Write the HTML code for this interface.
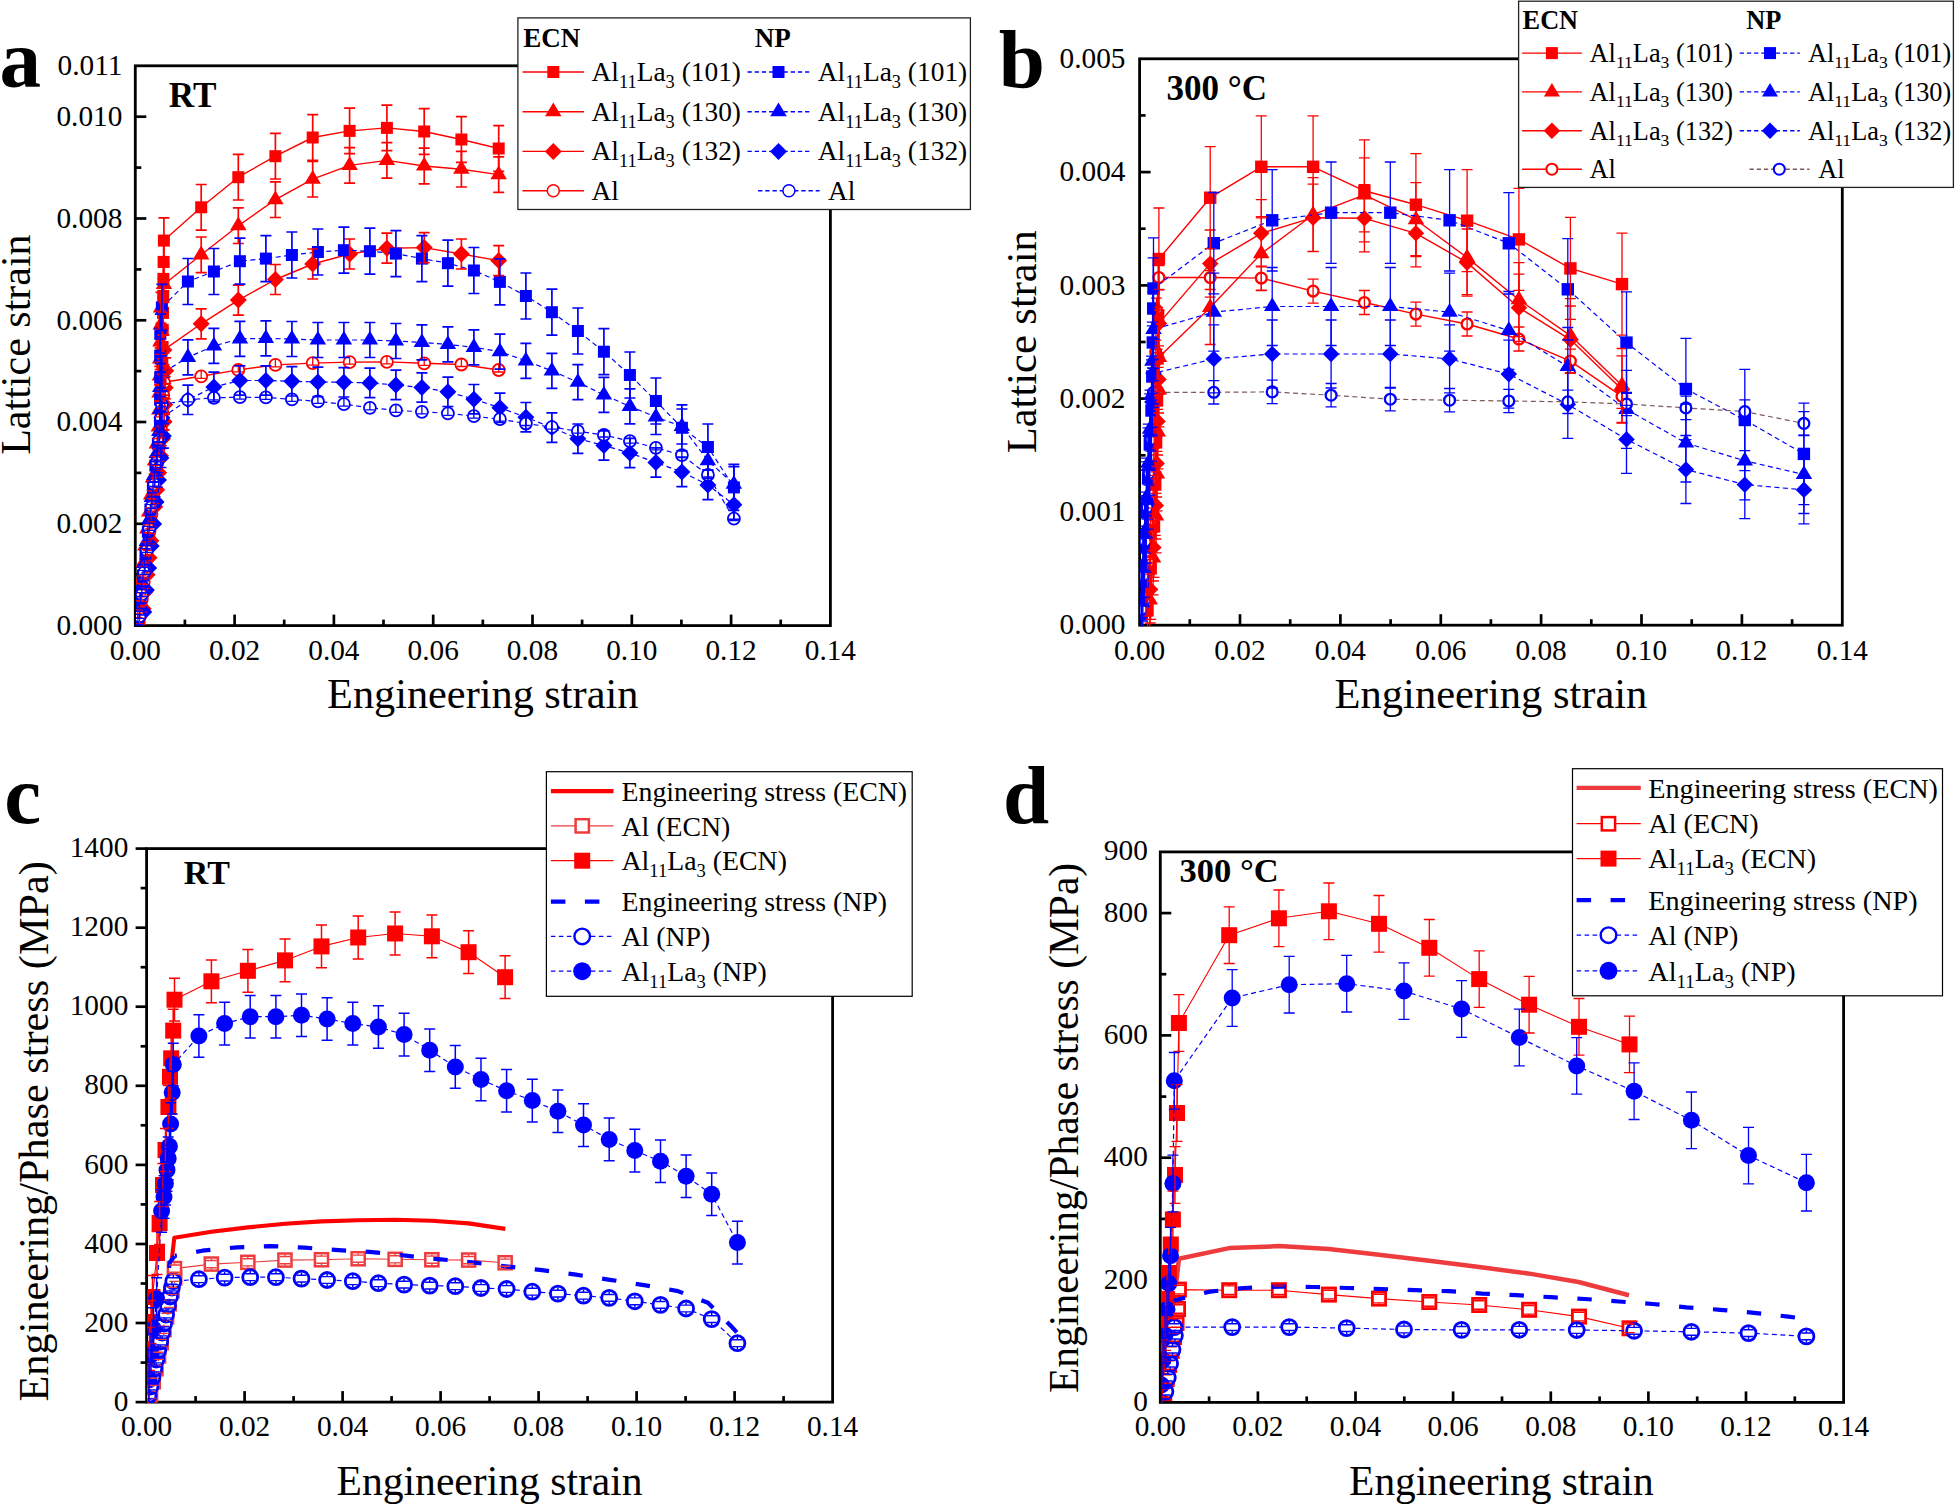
<!DOCTYPE html>
<html lang="en"><head><meta charset="utf-8"><title>Lattice strain and phase stress</title>
<style>html,body{margin:0;padding:0;background:#fff;overflow:hidden}svg{display:block}</style></head>
<body>
<svg width="1955" height="1504" viewBox="0 0 1955 1504" font-family='"Liberation Serif", "DejaVu Serif", serif'>
<rect width="1955" height="1504" fill="#fff"/>
<g id="pa">
<rect x="135.3" y="65.8" width="695.1" height="559.8" fill="none" stroke="#000" stroke-width="2.8"/>
<text x="135.3" y="660" font-size="29.3" text-anchor="middle">0.00</text>
<line x1="184.9" y1="625.6" x2="184.9" y2="619.6" stroke="#000" stroke-width="2.7"/>
<line x1="234.6" y1="625.6" x2="234.6" y2="614.6" stroke="#000" stroke-width="2.7"/>
<text x="234.6" y="660" font-size="29.3" text-anchor="middle">0.02</text>
<line x1="284.2" y1="625.6" x2="284.2" y2="619.6" stroke="#000" stroke-width="2.7"/>
<line x1="333.9" y1="625.6" x2="333.9" y2="614.6" stroke="#000" stroke-width="2.7"/>
<text x="333.9" y="660" font-size="29.3" text-anchor="middle">0.04</text>
<line x1="383.5" y1="625.6" x2="383.5" y2="619.6" stroke="#000" stroke-width="2.7"/>
<line x1="433.2" y1="625.6" x2="433.2" y2="614.6" stroke="#000" stroke-width="2.7"/>
<text x="433.2" y="660" font-size="29.3" text-anchor="middle">0.06</text>
<line x1="482.8" y1="625.6" x2="482.8" y2="619.6" stroke="#000" stroke-width="2.7"/>
<line x1="532.5" y1="625.6" x2="532.5" y2="614.6" stroke="#000" stroke-width="2.7"/>
<text x="532.5" y="660" font-size="29.3" text-anchor="middle">0.08</text>
<line x1="582.1" y1="625.6" x2="582.1" y2="619.6" stroke="#000" stroke-width="2.7"/>
<line x1="631.8" y1="625.6" x2="631.8" y2="614.6" stroke="#000" stroke-width="2.7"/>
<text x="631.8" y="660" font-size="29.3" text-anchor="middle">0.10</text>
<line x1="681.4" y1="625.6" x2="681.4" y2="619.6" stroke="#000" stroke-width="2.7"/>
<line x1="731.1" y1="625.6" x2="731.1" y2="614.6" stroke="#000" stroke-width="2.7"/>
<text x="731.1" y="660" font-size="29.3" text-anchor="middle">0.12</text>
<line x1="780.7" y1="625.6" x2="780.7" y2="619.6" stroke="#000" stroke-width="2.7"/>
<text x="830.4" y="660" font-size="29.3" text-anchor="middle">0.14</text>
<text x="122.4" y="634.8" font-size="29.3" text-anchor="end">0.000</text>
<line x1="135.3" y1="574.7" x2="141.3" y2="574.7" stroke="#000" stroke-width="2.7"/>
<line x1="135.3" y1="523.8" x2="146.3" y2="523.8" stroke="#000" stroke-width="2.7"/>
<text x="122.4" y="533" font-size="29.3" text-anchor="end">0.002</text>
<line x1="135.3" y1="472.9" x2="141.3" y2="472.9" stroke="#000" stroke-width="2.7"/>
<line x1="135.3" y1="422" x2="146.3" y2="422" stroke="#000" stroke-width="2.7"/>
<text x="122.4" y="431.2" font-size="29.3" text-anchor="end">0.004</text>
<line x1="135.3" y1="371.1" x2="141.3" y2="371.1" stroke="#000" stroke-width="2.7"/>
<line x1="135.3" y1="320.3" x2="146.3" y2="320.3" stroke="#000" stroke-width="2.7"/>
<text x="122.4" y="329.5" font-size="29.3" text-anchor="end">0.006</text>
<line x1="135.3" y1="269.4" x2="141.3" y2="269.4" stroke="#000" stroke-width="2.7"/>
<line x1="135.3" y1="218.5" x2="146.3" y2="218.5" stroke="#000" stroke-width="2.7"/>
<text x="122.4" y="227.7" font-size="29.3" text-anchor="end">0.008</text>
<line x1="135.3" y1="167.6" x2="141.3" y2="167.6" stroke="#000" stroke-width="2.7"/>
<line x1="135.3" y1="116.7" x2="146.3" y2="116.7" stroke="#000" stroke-width="2.7"/>
<text x="122.4" y="125.9" font-size="29.3" text-anchor="end">0.010</text>
<text x="122.4" y="75" font-size="29.3" text-anchor="end">0.011</text>
<text x="482.7" y="708" font-size="42.3" text-anchor="middle">Engineering strain</text>
<text x="30.4" y="344.6" font-size="42" text-anchor="middle" transform="rotate(-90 30.4 344.6)">Lattice strain</text>
<text x="168.8" y="107.1" font-size="35.2" font-weight="bold">RT</text>
<text x="-0.6" y="86.8" font-size="83" font-weight="bold">a</text>
<clipPath id="ca"><rect x="136" y="64.4" width="695.8" height="562.2"/></clipPath>
<g clip-path="url(#ca)">
<polyline fill="none" stroke="#ff0000" stroke-width="1.4" stroke-linejoin="round" points="139.6,618.9 141.5,601.9 143.4,584.9 145.3,567.9 147.3,550.9 149.2,533.9 151.1,516.9 153,499.9 155,482.9 156.9,465.9 158.8,448.9 160.7,431.9 161.6,414.9 161.9,397.9 162.1,380.9 162.3,363.9 162.5,346.9 162.7,329.9 163,312.9 163.2,295.9 163.4,278.9 163.6,261.9 163.9,240.6 201.2,207.3 238.3,177.2 275.4,156.2 312.7,137.5 349.6,130.9 386.9,127.9 424.2,131.5 461.4,139.5 498.7,148.5"/>
<rect x="133.6" y="612.9" width="12" height="12" fill="#ff0000"/>
<rect x="135.5" y="595.9" width="12" height="12" fill="#ff0000"/>
<rect x="137.4" y="578.9" width="12" height="12" fill="#ff0000"/>
<rect x="139.3" y="561.9" width="12" height="12" fill="#ff0000"/>
<rect x="141.3" y="544.9" width="12" height="12" fill="#ff0000"/>
<rect x="143.2" y="527.9" width="12" height="12" fill="#ff0000"/>
<rect x="145.1" y="510.9" width="12" height="12" fill="#ff0000"/>
<rect x="147" y="493.9" width="12" height="12" fill="#ff0000"/>
<rect x="149" y="476.9" width="12" height="12" fill="#ff0000"/>
<rect x="150.9" y="459.9" width="12" height="12" fill="#ff0000"/>
<rect x="152.8" y="442.9" width="12" height="12" fill="#ff0000"/>
<rect x="154.7" y="425.9" width="12" height="12" fill="#ff0000"/>
<rect x="155.6" y="408.9" width="12" height="12" fill="#ff0000"/>
<rect x="155.9" y="391.9" width="12" height="12" fill="#ff0000"/>
<rect x="156.1" y="374.9" width="12" height="12" fill="#ff0000"/>
<rect x="156.3" y="357.9" width="12" height="12" fill="#ff0000"/>
<rect x="156.5" y="340.9" width="12" height="12" fill="#ff0000"/>
<rect x="156.7" y="323.9" width="12" height="12" fill="#ff0000"/>
<rect x="157" y="306.9" width="12" height="12" fill="#ff0000"/>
<rect x="157.2" y="289.9" width="12" height="12" fill="#ff0000"/>
<rect x="157.4" y="272.9" width="12" height="12" fill="#ff0000"/>
<rect x="157.6" y="255.9" width="12" height="12" fill="#ff0000"/>
<rect x="157.9" y="234.6" width="12" height="12" fill="#ff0000"/>
<rect x="195.2" y="201.3" width="12" height="12" fill="#ff0000"/>
<rect x="232.3" y="171.2" width="12" height="12" fill="#ff0000"/>
<rect x="269.4" y="150.2" width="12" height="12" fill="#ff0000"/>
<rect x="306.7" y="131.5" width="12" height="12" fill="#ff0000"/>
<rect x="343.6" y="124.9" width="12" height="12" fill="#ff0000"/>
<rect x="380.9" y="121.9" width="12" height="12" fill="#ff0000"/>
<rect x="418.2" y="125.5" width="12" height="12" fill="#ff0000"/>
<rect x="455.4" y="133.5" width="12" height="12" fill="#ff0000"/>
<rect x="492.7" y="142.5" width="12" height="12" fill="#ff0000"/>
<polyline fill="none" stroke="#ff0000" stroke-width="1.4" stroke-linejoin="round" points="137.7,613.8 139.6,596.8 141.5,579.8 143.4,562.8 145.3,545.8 147.3,528.8 149.2,511.8 151.1,494.8 153,477.8 155,460.8 156.9,443.8 158.8,426.8 159.3,409.8 159.6,392.8 159.8,375.8 160.1,358.8 160.4,341.8 160.7,324.8 161,307.8 163.9,284.5 201.2,254.8 238.3,225.7 275.4,199.7 312.7,179.2 349.6,165.4 386.9,160.4 424.2,166 461.4,169.2 498.7,174.6"/>
<polygon points="137.7,604.6 129.4,618.4 145.9,618.4" fill="#ff0000"/>
<polygon points="139.6,587.6 131.3,601.4 147.8,601.4" fill="#ff0000"/>
<polygon points="141.5,570.6 133.2,584.4 149.7,584.4" fill="#ff0000"/>
<polygon points="143.4,553.6 135.2,567.4 151.7,567.4" fill="#ff0000"/>
<polygon points="145.3,536.6 137.1,550.4 153.6,550.4" fill="#ff0000"/>
<polygon points="147.3,519.6 139,533.4 155.5,533.4" fill="#ff0000"/>
<polygon points="149.2,502.6 140.9,516.4 157.4,516.4" fill="#ff0000"/>
<polygon points="151.1,485.6 142.9,499.4 159.4,499.4" fill="#ff0000"/>
<polygon points="153,468.6 144.8,482.4 161.3,482.4" fill="#ff0000"/>
<polygon points="155,451.6 146.7,465.4 163.2,465.4" fill="#ff0000"/>
<polygon points="156.9,434.6 148.6,448.4 165.1,448.4" fill="#ff0000"/>
<polygon points="158.8,417.6 150.5,431.4 167,431.4" fill="#ff0000"/>
<polygon points="159.3,400.6 151,414.4 167.5,414.4" fill="#ff0000"/>
<polygon points="159.6,383.6 151.3,397.4 167.8,397.4" fill="#ff0000"/>
<polygon points="159.8,366.6 151.6,380.4 168.1,380.4" fill="#ff0000"/>
<polygon points="160.1,349.6 151.9,363.4 168.4,363.4" fill="#ff0000"/>
<polygon points="160.4,332.6 152.2,346.4 168.7,346.4" fill="#ff0000"/>
<polygon points="160.7,315.6 152.5,329.4 169,329.4" fill="#ff0000"/>
<polygon points="161,298.6 152.8,312.4 169.3,312.4" fill="#ff0000"/>
<polygon points="163.9,275.3 155.7,289.1 172.2,289.1" fill="#ff0000"/>
<polygon points="201.2,245.6 192.9,259.4 209.4,259.4" fill="#ff0000"/>
<polygon points="238.3,216.5 230.1,230.3 246.6,230.3" fill="#ff0000"/>
<polygon points="275.4,190.5 267.1,204.3 283.6,204.3" fill="#ff0000"/>
<polygon points="312.7,170 304.4,183.8 320.9,183.8" fill="#ff0000"/>
<polygon points="349.6,156.2 341.4,170 357.9,170" fill="#ff0000"/>
<polygon points="386.9,151.2 378.6,165 395.1,165" fill="#ff0000"/>
<polygon points="424.2,156.8 415.9,170.6 432.4,170.6" fill="#ff0000"/>
<polygon points="461.4,160 453.1,173.8 469.6,173.8" fill="#ff0000"/>
<polygon points="498.7,165.4 490.4,179.2 506.9,179.2" fill="#ff0000"/>
<polyline fill="none" stroke="#ff0000" stroke-width="1.4" stroke-linejoin="round" points="143.2,608.7 145.2,591.7 147.1,574.7 149,557.7 150.9,540.7 152.8,523.7 154.8,506.7 156.7,489.7 158.6,472.7 160.5,455.7 162.5,438.7 164.1,421.7 164.6,404.7 165.2,387.7 165.7,370.7 163.9,349.9 201.2,323.8 238.3,300.1 275.4,279.5 312.7,264 349.6,254 386.9,248.2 424.2,247.6 461.4,254 498.7,260.6"/>
<polygon points="143.2,600.2 151.7,608.7 143.2,617.2 134.7,608.7" fill="#ff0000"/>
<polygon points="145.2,583.2 153.7,591.7 145.2,600.2 136.7,591.7" fill="#ff0000"/>
<polygon points="147.1,566.2 155.6,574.7 147.1,583.2 138.6,574.7" fill="#ff0000"/>
<polygon points="149,549.2 157.5,557.7 149,566.2 140.5,557.7" fill="#ff0000"/>
<polygon points="150.9,532.2 159.4,540.7 150.9,549.2 142.4,540.7" fill="#ff0000"/>
<polygon points="152.8,515.2 161.3,523.7 152.8,532.2 144.3,523.7" fill="#ff0000"/>
<polygon points="154.8,498.2 163.3,506.7 154.8,515.2 146.3,506.7" fill="#ff0000"/>
<polygon points="156.7,481.2 165.2,489.7 156.7,498.2 148.2,489.7" fill="#ff0000"/>
<polygon points="158.6,464.2 167.1,472.7 158.6,481.2 150.1,472.7" fill="#ff0000"/>
<polygon points="160.5,447.2 169,455.7 160.5,464.2 152,455.7" fill="#ff0000"/>
<polygon points="162.5,430.2 171,438.7 162.5,447.2 154,438.7" fill="#ff0000"/>
<polygon points="164.1,413.2 172.6,421.7 164.1,430.2 155.6,421.7" fill="#ff0000"/>
<polygon points="164.6,396.2 173.1,404.7 164.6,413.2 156.1,404.7" fill="#ff0000"/>
<polygon points="165.2,379.2 173.7,387.7 165.2,396.2 156.7,387.7" fill="#ff0000"/>
<polygon points="165.7,362.2 174.2,370.7 165.7,379.2 157.2,370.7" fill="#ff0000"/>
<polygon points="163.9,341.4 172.4,349.9 163.9,358.4 155.4,349.9" fill="#ff0000"/>
<polygon points="201.2,315.3 209.7,323.8 201.2,332.3 192.7,323.8" fill="#ff0000"/>
<polygon points="238.3,291.6 246.8,300.1 238.3,308.6 229.8,300.1" fill="#ff0000"/>
<polygon points="275.4,271 283.9,279.5 275.4,288 266.9,279.5" fill="#ff0000"/>
<polygon points="312.7,255.5 321.2,264 312.7,272.5 304.2,264" fill="#ff0000"/>
<polygon points="349.6,245.5 358.1,254 349.6,262.5 341.1,254" fill="#ff0000"/>
<polygon points="386.9,239.7 395.4,248.2 386.9,256.7 378.4,248.2" fill="#ff0000"/>
<polygon points="424.2,239.1 432.7,247.6 424.2,256.1 415.7,247.6" fill="#ff0000"/>
<polygon points="461.4,245.5 469.9,254 461.4,262.5 452.9,254" fill="#ff0000"/>
<polygon points="498.7,252.1 507.2,260.6 498.7,269.1 490.2,260.6" fill="#ff0000"/>
<polyline fill="none" stroke="#ff0000" stroke-width="1.4" stroke-linejoin="round" points="139.9,616.4 141.8,599.4 143.7,582.4 145.6,565.4 147.6,548.4 149.5,531.4 151.4,514.4 153.3,497.4 155.2,480.4 157.2,463.4 159.1,446.4 161,429.4 162.2,412.4 163.2,395.4 163.9,382.3 201.2,376.3 238.3,369.9 275.4,364.9 312.7,363.1 349.6,362.1 386.9,361.9 424.2,363.3 461.4,364.5 498.7,370"/>
<circle cx="139.9" cy="616.4" r="6" fill="#fff" stroke="#ff0000" stroke-width="1.8"/>
<circle cx="141.8" cy="599.4" r="6" fill="#fff" stroke="#ff0000" stroke-width="1.8"/>
<circle cx="143.7" cy="582.4" r="6" fill="#fff" stroke="#ff0000" stroke-width="1.8"/>
<circle cx="145.6" cy="565.4" r="6" fill="#fff" stroke="#ff0000" stroke-width="1.8"/>
<circle cx="147.6" cy="548.4" r="6" fill="#fff" stroke="#ff0000" stroke-width="1.8"/>
<circle cx="149.5" cy="531.4" r="6" fill="#fff" stroke="#ff0000" stroke-width="1.8"/>
<circle cx="151.4" cy="514.4" r="6" fill="#fff" stroke="#ff0000" stroke-width="1.8"/>
<circle cx="153.3" cy="497.4" r="6" fill="#fff" stroke="#ff0000" stroke-width="1.8"/>
<circle cx="155.2" cy="480.4" r="6" fill="#fff" stroke="#ff0000" stroke-width="1.8"/>
<circle cx="157.2" cy="463.4" r="6" fill="#fff" stroke="#ff0000" stroke-width="1.8"/>
<circle cx="159.1" cy="446.4" r="6" fill="#fff" stroke="#ff0000" stroke-width="1.8"/>
<circle cx="161" cy="429.4" r="6" fill="#fff" stroke="#ff0000" stroke-width="1.8"/>
<circle cx="162.2" cy="412.4" r="6" fill="#fff" stroke="#ff0000" stroke-width="1.8"/>
<circle cx="163.2" cy="395.4" r="6" fill="#fff" stroke="#ff0000" stroke-width="1.8"/>
<circle cx="163.9" cy="382.3" r="6" fill="#fff" stroke="#ff0000" stroke-width="1.8"/>
<circle cx="201.2" cy="376.3" r="6" fill="#fff" stroke="#ff0000" stroke-width="1.8"/>
<circle cx="238.3" cy="369.9" r="6" fill="#fff" stroke="#ff0000" stroke-width="1.8"/>
<circle cx="275.4" cy="364.9" r="6" fill="#fff" stroke="#ff0000" stroke-width="1.8"/>
<circle cx="312.7" cy="363.1" r="6" fill="#fff" stroke="#ff0000" stroke-width="1.8"/>
<circle cx="349.6" cy="362.1" r="6" fill="#fff" stroke="#ff0000" stroke-width="1.8"/>
<circle cx="386.9" cy="361.9" r="6" fill="#fff" stroke="#ff0000" stroke-width="1.8"/>
<circle cx="424.2" cy="363.3" r="6" fill="#fff" stroke="#ff0000" stroke-width="1.8"/>
<circle cx="461.4" cy="364.5" r="6" fill="#fff" stroke="#ff0000" stroke-width="1.8"/>
<circle cx="498.7" cy="370" r="6" fill="#fff" stroke="#ff0000" stroke-width="1.8"/>
<polyline fill="none" stroke="#0000ff" stroke-width="1.2" stroke-linejoin="round" points="138,619.6 140.5,597.6 143,575.6 145.5,553.6 147.9,531.6 150.4,509.6 152.9,487.6 155.4,465.6 157.9,443.6 160,421.6 160.1,399.6 160.2,377.6 160.2,355.6 160.3,333.6 161.9,307.4 187.9,281.5 213.9,271.5 239.9,261.2 265.9,258.6 291.9,255 317.9,252 343.9,250.2 369.9,251.2 395.9,253.6 421.9,258.6 447.9,263.2 473.9,270.5 499.9,281.9 525.9,296 551.9,312.2 577.9,331 603.9,351.7 629.9,375 655.9,401 681.9,427.8 707.9,447 733.9,487.4" stroke-dasharray="5 3.5"/>
<rect x="132" y="613.6" width="12" height="12" fill="#0000ff"/>
<rect x="134.5" y="591.6" width="12" height="12" fill="#0000ff"/>
<rect x="137" y="569.6" width="12" height="12" fill="#0000ff"/>
<rect x="139.5" y="547.6" width="12" height="12" fill="#0000ff"/>
<rect x="141.9" y="525.6" width="12" height="12" fill="#0000ff"/>
<rect x="144.4" y="503.6" width="12" height="12" fill="#0000ff"/>
<rect x="146.9" y="481.6" width="12" height="12" fill="#0000ff"/>
<rect x="149.4" y="459.6" width="12" height="12" fill="#0000ff"/>
<rect x="151.9" y="437.6" width="12" height="12" fill="#0000ff"/>
<rect x="154" y="415.6" width="12" height="12" fill="#0000ff"/>
<rect x="154.1" y="393.6" width="12" height="12" fill="#0000ff"/>
<rect x="154.2" y="371.6" width="12" height="12" fill="#0000ff"/>
<rect x="154.2" y="349.6" width="12" height="12" fill="#0000ff"/>
<rect x="154.3" y="327.6" width="12" height="12" fill="#0000ff"/>
<rect x="155.9" y="301.4" width="12" height="12" fill="#0000ff"/>
<rect x="181.9" y="275.5" width="12" height="12" fill="#0000ff"/>
<rect x="207.9" y="265.5" width="12" height="12" fill="#0000ff"/>
<rect x="233.9" y="255.2" width="12" height="12" fill="#0000ff"/>
<rect x="259.9" y="252.6" width="12" height="12" fill="#0000ff"/>
<rect x="285.9" y="249" width="12" height="12" fill="#0000ff"/>
<rect x="311.9" y="246" width="12" height="12" fill="#0000ff"/>
<rect x="337.9" y="244.2" width="12" height="12" fill="#0000ff"/>
<rect x="363.9" y="245.2" width="12" height="12" fill="#0000ff"/>
<rect x="389.9" y="247.6" width="12" height="12" fill="#0000ff"/>
<rect x="415.9" y="252.6" width="12" height="12" fill="#0000ff"/>
<rect x="441.9" y="257.2" width="12" height="12" fill="#0000ff"/>
<rect x="467.9" y="264.5" width="12" height="12" fill="#0000ff"/>
<rect x="493.9" y="275.9" width="12" height="12" fill="#0000ff"/>
<rect x="519.9" y="290" width="12" height="12" fill="#0000ff"/>
<rect x="545.9" y="306.2" width="12" height="12" fill="#0000ff"/>
<rect x="571.9" y="325" width="12" height="12" fill="#0000ff"/>
<rect x="597.9" y="345.7" width="12" height="12" fill="#0000ff"/>
<rect x="623.9" y="369" width="12" height="12" fill="#0000ff"/>
<rect x="649.9" y="395" width="12" height="12" fill="#0000ff"/>
<rect x="675.9" y="421.8" width="12" height="12" fill="#0000ff"/>
<rect x="701.9" y="441" width="12" height="12" fill="#0000ff"/>
<rect x="727.9" y="481.4" width="12" height="12" fill="#0000ff"/>
<polyline fill="none" stroke="#0000ff" stroke-width="1.2" stroke-linejoin="round" points="139.4,607.5 141.9,585.5 144.3,563.5 146.8,541.5 149.3,519.5 151.8,497.5 154.3,475.5 156.8,453.5 159.3,431.5 160.1,409.5 160.3,387.5 161.9,373.3 187.9,357.3 213.9,345.9 239.9,338.8 265.9,338.4 291.9,339 317.9,340 343.9,340 369.9,340 395.9,341 421.9,342.4 447.9,344.4 473.9,347.3 499.9,351.6 525.9,360.8 551.9,370.9 577.9,382.2 603.9,394.9 629.9,406.4 655.9,417 681.9,426.5 707.9,460.6 733.9,484.2" stroke-dasharray="5 3.5"/>
<polygon points="139.4,598.3 131.1,612.1 147.6,612.1" fill="#0000ff"/>
<polygon points="141.9,576.3 133.6,590.1 150.1,590.1" fill="#0000ff"/>
<polygon points="144.3,554.3 136.1,568.1 152.6,568.1" fill="#0000ff"/>
<polygon points="146.8,532.3 138.6,546.1 155.1,546.1" fill="#0000ff"/>
<polygon points="149.3,510.3 141.1,524.1 157.6,524.1" fill="#0000ff"/>
<polygon points="151.8,488.3 143.6,502.1 160.1,502.1" fill="#0000ff"/>
<polygon points="154.3,466.3 146,480.1 162.5,480.1" fill="#0000ff"/>
<polygon points="156.8,444.3 148.5,458.1 165,458.1" fill="#0000ff"/>
<polygon points="159.3,422.3 151,436.1 167.5,436.1" fill="#0000ff"/>
<polygon points="160.1,400.3 151.9,414.1 168.4,414.1" fill="#0000ff"/>
<polygon points="160.3,378.3 152,392.1 168.5,392.1" fill="#0000ff"/>
<polygon points="161.9,364.1 153.7,377.9 170.2,377.9" fill="#0000ff"/>
<polygon points="187.9,348.1 179.7,361.9 196.2,361.9" fill="#0000ff"/>
<polygon points="213.9,336.7 205.7,350.5 222.2,350.5" fill="#0000ff"/>
<polygon points="239.9,329.6 231.7,343.4 248.2,343.4" fill="#0000ff"/>
<polygon points="265.9,329.2 257.6,343 274.1,343" fill="#0000ff"/>
<polygon points="291.9,329.8 283.6,343.6 300.1,343.6" fill="#0000ff"/>
<polygon points="317.9,330.8 309.6,344.6 326.1,344.6" fill="#0000ff"/>
<polygon points="343.9,330.8 335.6,344.6 352.1,344.6" fill="#0000ff"/>
<polygon points="369.9,330.8 361.6,344.6 378.1,344.6" fill="#0000ff"/>
<polygon points="395.9,331.8 387.6,345.6 404.1,345.6" fill="#0000ff"/>
<polygon points="421.9,333.2 413.6,347 430.1,347" fill="#0000ff"/>
<polygon points="447.9,335.2 439.6,349 456.1,349" fill="#0000ff"/>
<polygon points="473.9,338.1 465.6,351.9 482.1,351.9" fill="#0000ff"/>
<polygon points="499.9,342.4 491.6,356.2 508.1,356.2" fill="#0000ff"/>
<polygon points="525.9,351.6 517.6,365.4 534.1,365.4" fill="#0000ff"/>
<polygon points="551.9,361.7 543.6,375.5 560.1,375.5" fill="#0000ff"/>
<polygon points="577.9,373 569.6,386.8 586.1,386.8" fill="#0000ff"/>
<polygon points="603.9,385.7 595.6,399.5 612.1,399.5" fill="#0000ff"/>
<polygon points="629.9,397.2 621.6,411 638.1,411" fill="#0000ff"/>
<polygon points="655.9,407.8 647.6,421.6 664.1,421.6" fill="#0000ff"/>
<polygon points="681.9,417.3 673.6,431.1 690.1,431.1" fill="#0000ff"/>
<polygon points="707.9,451.4 699.6,465.2 716.1,465.2" fill="#0000ff"/>
<polygon points="733.9,475 725.6,488.8 742.1,488.8" fill="#0000ff"/>
<polyline fill="none" stroke="#0000ff" stroke-width="1.2" stroke-linejoin="round" points="143.8,611.9 146.3,589.9 148.7,567.9 151.2,545.9 153.6,523.9 156.1,501.9 158.5,479.9 160.9,457.9 163.4,435.9 161.9,417.8 187.9,399.8 213.9,386.9 239.9,380.5 265.9,380.5 291.9,381.3 317.9,381.9 343.9,382.3 369.9,382.9 395.9,384.9 421.9,387.5 447.9,391.8 473.9,399.2 499.9,407.8 525.9,417.2 551.9,427.6 577.9,438.7 603.9,445.5 629.9,453 655.9,462.5 681.9,472 707.9,484.9 733.9,504.7" stroke-dasharray="5 3.5"/>
<polygon points="143.8,603.4 152.3,611.9 143.8,620.4 135.3,611.9" fill="#0000ff"/>
<polygon points="146.3,581.4 154.8,589.9 146.3,598.4 137.8,589.9" fill="#0000ff"/>
<polygon points="148.7,559.4 157.2,567.9 148.7,576.4 140.2,567.9" fill="#0000ff"/>
<polygon points="151.2,537.4 159.7,545.9 151.2,554.4 142.7,545.9" fill="#0000ff"/>
<polygon points="153.6,515.4 162.1,523.9 153.6,532.4 145.1,523.9" fill="#0000ff"/>
<polygon points="156.1,493.4 164.6,501.9 156.1,510.4 147.6,501.9" fill="#0000ff"/>
<polygon points="158.5,471.4 167,479.9 158.5,488.4 150,479.9" fill="#0000ff"/>
<polygon points="160.9,449.4 169.4,457.9 160.9,466.4 152.4,457.9" fill="#0000ff"/>
<polygon points="163.4,427.4 171.9,435.9 163.4,444.4 154.9,435.9" fill="#0000ff"/>
<polygon points="161.9,409.3 170.4,417.8 161.9,426.3 153.4,417.8" fill="#0000ff"/>
<polygon points="187.9,391.3 196.4,399.8 187.9,408.3 179.4,399.8" fill="#0000ff"/>
<polygon points="213.9,378.4 222.4,386.9 213.9,395.4 205.4,386.9" fill="#0000ff"/>
<polygon points="239.9,372 248.4,380.5 239.9,389 231.4,380.5" fill="#0000ff"/>
<polygon points="265.9,372 274.4,380.5 265.9,389 257.4,380.5" fill="#0000ff"/>
<polygon points="291.9,372.8 300.4,381.3 291.9,389.8 283.4,381.3" fill="#0000ff"/>
<polygon points="317.9,373.4 326.4,381.9 317.9,390.4 309.4,381.9" fill="#0000ff"/>
<polygon points="343.9,373.8 352.4,382.3 343.9,390.8 335.4,382.3" fill="#0000ff"/>
<polygon points="369.9,374.4 378.4,382.9 369.9,391.4 361.4,382.9" fill="#0000ff"/>
<polygon points="395.9,376.4 404.4,384.9 395.9,393.4 387.4,384.9" fill="#0000ff"/>
<polygon points="421.9,379 430.4,387.5 421.9,396 413.4,387.5" fill="#0000ff"/>
<polygon points="447.9,383.3 456.4,391.8 447.9,400.3 439.4,391.8" fill="#0000ff"/>
<polygon points="473.9,390.7 482.4,399.2 473.9,407.7 465.4,399.2" fill="#0000ff"/>
<polygon points="499.9,399.3 508.4,407.8 499.9,416.3 491.4,407.8" fill="#0000ff"/>
<polygon points="525.9,408.7 534.4,417.2 525.9,425.7 517.4,417.2" fill="#0000ff"/>
<polygon points="551.9,419.1 560.4,427.6 551.9,436.1 543.4,427.6" fill="#0000ff"/>
<polygon points="577.9,430.2 586.4,438.7 577.9,447.2 569.4,438.7" fill="#0000ff"/>
<polygon points="603.9,437 612.4,445.5 603.9,454 595.4,445.5" fill="#0000ff"/>
<polygon points="629.9,444.5 638.4,453 629.9,461.5 621.4,453" fill="#0000ff"/>
<polygon points="655.9,454 664.4,462.5 655.9,471 647.4,462.5" fill="#0000ff"/>
<polygon points="681.9,463.5 690.4,472 681.9,480.5 673.4,472" fill="#0000ff"/>
<polygon points="707.9,476.4 716.4,484.9 707.9,493.4 699.4,484.9" fill="#0000ff"/>
<polygon points="733.9,496.2 742.4,504.7 733.9,513.2 725.4,504.7" fill="#0000ff"/>
<polyline fill="none" stroke="#0000ff" stroke-width="1.2" stroke-linejoin="round" points="139.4,616.3 141.9,594.3 144.3,572.3 146.8,550.3 149.3,528.3 151.8,506.3 154.3,484.3 156.8,462.3 159.3,440.3 161.1,418.3 161.9,404.8 187.9,399.8 213.9,397.8 239.9,397.2 265.9,397.4 291.9,399.4 317.9,401.4 343.9,404.2 369.9,407.8 395.9,410.4 421.9,411.8 447.9,413.4 473.9,416.2 499.9,419.2 525.9,423.5 551.9,427.1 577.9,431.2 603.9,435 629.9,441.1 655.9,447.8 681.9,455.1 707.9,474.9 733.9,518.7" stroke-dasharray="5 3.5"/>
<circle cx="139.4" cy="616.3" r="6" fill="#fff" stroke="#0000ff" stroke-width="1.8"/>
<circle cx="141.9" cy="594.3" r="6" fill="#fff" stroke="#0000ff" stroke-width="1.8"/>
<circle cx="144.3" cy="572.3" r="6" fill="#fff" stroke="#0000ff" stroke-width="1.8"/>
<circle cx="146.8" cy="550.3" r="6" fill="#fff" stroke="#0000ff" stroke-width="1.8"/>
<circle cx="149.3" cy="528.3" r="6" fill="#fff" stroke="#0000ff" stroke-width="1.8"/>
<circle cx="151.8" cy="506.3" r="6" fill="#fff" stroke="#0000ff" stroke-width="1.8"/>
<circle cx="154.3" cy="484.3" r="6" fill="#fff" stroke="#0000ff" stroke-width="1.8"/>
<circle cx="156.8" cy="462.3" r="6" fill="#fff" stroke="#0000ff" stroke-width="1.8"/>
<circle cx="159.3" cy="440.3" r="6" fill="#fff" stroke="#0000ff" stroke-width="1.8"/>
<circle cx="161.1" cy="418.3" r="6" fill="#fff" stroke="#0000ff" stroke-width="1.8"/>
<circle cx="161.9" cy="404.8" r="6" fill="#fff" stroke="#0000ff" stroke-width="1.8"/>
<circle cx="187.9" cy="399.8" r="6" fill="#fff" stroke="#0000ff" stroke-width="1.8"/>
<circle cx="213.9" cy="397.8" r="6" fill="#fff" stroke="#0000ff" stroke-width="1.8"/>
<circle cx="239.9" cy="397.2" r="6" fill="#fff" stroke="#0000ff" stroke-width="1.8"/>
<circle cx="265.9" cy="397.4" r="6" fill="#fff" stroke="#0000ff" stroke-width="1.8"/>
<circle cx="291.9" cy="399.4" r="6" fill="#fff" stroke="#0000ff" stroke-width="1.8"/>
<circle cx="317.9" cy="401.4" r="6" fill="#fff" stroke="#0000ff" stroke-width="1.8"/>
<circle cx="343.9" cy="404.2" r="6" fill="#fff" stroke="#0000ff" stroke-width="1.8"/>
<circle cx="369.9" cy="407.8" r="6" fill="#fff" stroke="#0000ff" stroke-width="1.8"/>
<circle cx="395.9" cy="410.4" r="6" fill="#fff" stroke="#0000ff" stroke-width="1.8"/>
<circle cx="421.9" cy="411.8" r="6" fill="#fff" stroke="#0000ff" stroke-width="1.8"/>
<circle cx="447.9" cy="413.4" r="6" fill="#fff" stroke="#0000ff" stroke-width="1.8"/>
<circle cx="473.9" cy="416.2" r="6" fill="#fff" stroke="#0000ff" stroke-width="1.8"/>
<circle cx="499.9" cy="419.2" r="6" fill="#fff" stroke="#0000ff" stroke-width="1.8"/>
<circle cx="525.9" cy="423.5" r="6" fill="#fff" stroke="#0000ff" stroke-width="1.8"/>
<circle cx="551.9" cy="427.1" r="6" fill="#fff" stroke="#0000ff" stroke-width="1.8"/>
<circle cx="577.9" cy="431.2" r="6" fill="#fff" stroke="#0000ff" stroke-width="1.8"/>
<circle cx="603.9" cy="435" r="6" fill="#fff" stroke="#0000ff" stroke-width="1.8"/>
<circle cx="629.9" cy="441.1" r="6" fill="#fff" stroke="#0000ff" stroke-width="1.8"/>
<circle cx="655.9" cy="447.8" r="6" fill="#fff" stroke="#0000ff" stroke-width="1.8"/>
<circle cx="681.9" cy="455.1" r="6" fill="#fff" stroke="#0000ff" stroke-width="1.8"/>
<circle cx="707.9" cy="474.9" r="6" fill="#fff" stroke="#0000ff" stroke-width="1.8"/>
<circle cx="733.9" cy="518.7" r="6" fill="#fff" stroke="#0000ff" stroke-width="1.8"/>
<path d="M139.6 613.9V623.9M135.2 613.9H144M135.2 623.9H144" stroke="#ff0000" stroke-width="1.2" fill="none"/>
<path d="M141.5 596.9V606.9M137.1 596.9H145.9M137.1 606.9H145.9" stroke="#ff0000" stroke-width="1.2" fill="none"/>
<path d="M143.4 579.9V589.9M139 579.9H147.8M139 589.9H147.8" stroke="#ff0000" stroke-width="1.2" fill="none"/>
<path d="M145.3 562.9V572.9M140.9 562.9H149.7M140.9 572.9H149.7" stroke="#ff0000" stroke-width="1.2" fill="none"/>
<path d="M147.3 545.9V555.9M142.9 545.9H151.7M142.9 555.9H151.7" stroke="#ff0000" stroke-width="1.2" fill="none"/>
<path d="M149.2 528.9V538.9M144.8 528.9H153.6M144.8 538.9H153.6" stroke="#ff0000" stroke-width="1.2" fill="none"/>
<path d="M151.1 511.9V521.9M146.7 511.9H155.5M146.7 521.9H155.5" stroke="#ff0000" stroke-width="1.2" fill="none"/>
<path d="M153 494.9V504.9M148.6 494.9H157.4M148.6 504.9H157.4" stroke="#ff0000" stroke-width="1.2" fill="none"/>
<path d="M155 477.9V487.9M150.6 477.9H159.4M150.6 487.9H159.4" stroke="#ff0000" stroke-width="1.2" fill="none"/>
<path d="M156.9 460.9V470.9M152.5 460.9H161.3M152.5 470.9H161.3" stroke="#ff0000" stroke-width="1.2" fill="none"/>
<path d="M158.8 443.9V453.9M154.4 443.9H163.2M154.4 453.9H163.2" stroke="#ff0000" stroke-width="1.2" fill="none"/>
<path d="M160.7 426.1V437.7M156.3 426.1H165.1M156.3 437.7H165.1" stroke="#ff0000" stroke-width="1.2" fill="none"/>
<path d="M161.6 408.1V421.7M157.2 408.1H166M157.2 421.7H166" stroke="#ff0000" stroke-width="1.2" fill="none"/>
<path d="M161.9 389.9V405.9M157.5 389.9H166.3M157.5 405.9H166.3" stroke="#ff0000" stroke-width="1.2" fill="none"/>
<path d="M162.1 371.7V390.1M156.6 371.7H167.6M156.6 390.1H167.6" stroke="#ff0000" stroke-width="1.7" fill="none"/>
<path d="M162.3 353.4V374.4M156.8 353.4H167.8M156.8 374.4H167.8" stroke="#ff0000" stroke-width="1.7" fill="none"/>
<path d="M162.5 335V358.8M157 335H168M157 358.8H168" stroke="#ff0000" stroke-width="1.7" fill="none"/>
<path d="M162.7 316.5V343.3M157.2 316.5H168.2M157.2 343.3H168.2" stroke="#ff0000" stroke-width="1.7" fill="none"/>
<path d="M163 297.9V327.9M157.5 297.9H168.5M157.5 327.9H168.5" stroke="#ff0000" stroke-width="1.7" fill="none"/>
<path d="M163.2 279.2V312.6M157.7 279.2H168.7M157.7 312.6H168.7" stroke="#ff0000" stroke-width="1.7" fill="none"/>
<path d="M163.4 260.4V297.4M157.9 260.4H168.9M157.9 297.4H168.9" stroke="#ff0000" stroke-width="1.7" fill="none"/>
<path d="M163.6 241.6V282.2M158.1 241.6H169.1M158.1 282.2H169.1" stroke="#ff0000" stroke-width="1.7" fill="none"/>
<path d="M163.9 217.8V263.4M158.4 217.8H169.4M158.4 263.4H169.4" stroke="#ff0000" stroke-width="1.7" fill="none"/>
<path d="M201.2 184.5V230.1M195.7 184.5H206.7M195.7 230.1H206.7" stroke="#ff0000" stroke-width="1.7" fill="none"/>
<path d="M238.3 154.4V200M232.8 154.4H243.8M232.8 200H243.8" stroke="#ff0000" stroke-width="1.7" fill="none"/>
<path d="M275.4 133.4V179M269.9 133.4H280.9M269.9 179H280.9" stroke="#ff0000" stroke-width="1.7" fill="none"/>
<path d="M312.7 114.7V160.3M307.2 114.7H318.2M307.2 160.3H318.2" stroke="#ff0000" stroke-width="1.7" fill="none"/>
<path d="M349.6 108.1V153.7M344.1 108.1H355.1M344.1 153.7H355.1" stroke="#ff0000" stroke-width="1.7" fill="none"/>
<path d="M386.9 105.1V150.7M381.4 105.1H392.4M381.4 150.7H392.4" stroke="#ff0000" stroke-width="1.7" fill="none"/>
<path d="M424.2 108.7V154.3M418.7 108.7H429.7M418.7 154.3H429.7" stroke="#ff0000" stroke-width="1.7" fill="none"/>
<path d="M461.4 116.7V162.3M455.9 116.7H466.9M455.9 162.3H466.9" stroke="#ff0000" stroke-width="1.7" fill="none"/>
<path d="M498.7 125.7V171.3M493.2 125.7H504.2M493.2 171.3H504.2" stroke="#ff0000" stroke-width="1.7" fill="none"/>
<path d="M137.7 609.9V617.7M133.3 609.9H142.1M133.3 617.7H142.1" stroke="#ff0000" stroke-width="1.2" fill="none"/>
<path d="M139.6 592.9V600.7M135.2 592.9H144M135.2 600.7H144" stroke="#ff0000" stroke-width="1.2" fill="none"/>
<path d="M141.5 575.9V583.7M137.1 575.9H145.9M137.1 583.7H145.9" stroke="#ff0000" stroke-width="1.2" fill="none"/>
<path d="M143.4 558.9V566.7M139 558.9H147.8M139 566.7H147.8" stroke="#ff0000" stroke-width="1.2" fill="none"/>
<path d="M145.3 541.9V549.7M140.9 541.9H149.7M140.9 549.7H149.7" stroke="#ff0000" stroke-width="1.2" fill="none"/>
<path d="M147.3 524.9V532.7M142.9 524.9H151.7M142.9 532.7H151.7" stroke="#ff0000" stroke-width="1.2" fill="none"/>
<path d="M149.2 507.9V515.7M144.8 507.9H153.6M144.8 515.7H153.6" stroke="#ff0000" stroke-width="1.2" fill="none"/>
<path d="M151.1 490.9V498.7M146.7 490.9H155.5M146.7 498.7H155.5" stroke="#ff0000" stroke-width="1.2" fill="none"/>
<path d="M153 473.9V481.7M148.6 473.9H157.4M148.6 481.7H157.4" stroke="#ff0000" stroke-width="1.2" fill="none"/>
<path d="M155 456.6V465M150.6 456.6H159.4M150.6 465H159.4" stroke="#ff0000" stroke-width="1.2" fill="none"/>
<path d="M156.9 438.7V448.9M152.5 438.7H161.3M152.5 448.9H161.3" stroke="#ff0000" stroke-width="1.2" fill="none"/>
<path d="M158.8 420.8V432.8M154.4 420.8H163.2M154.4 432.8H163.2" stroke="#ff0000" stroke-width="1.2" fill="none"/>
<path d="M159.3 402.7V416.9M154.9 402.7H163.7M154.9 416.9H163.7" stroke="#ff0000" stroke-width="1.2" fill="none"/>
<path d="M159.6 384.5V401.1M154.1 384.5H165.1M154.1 401.1H165.1" stroke="#ff0000" stroke-width="1.7" fill="none"/>
<path d="M159.8 366.3V385.3M154.3 366.3H165.3M154.3 385.3H165.3" stroke="#ff0000" stroke-width="1.7" fill="none"/>
<path d="M160.1 347.9V369.7M154.6 347.9H165.6M154.6 369.7H165.6" stroke="#ff0000" stroke-width="1.7" fill="none"/>
<path d="M160.4 329.5V354.1M154.9 329.5H165.9M154.9 354.1H165.9" stroke="#ff0000" stroke-width="1.7" fill="none"/>
<path d="M160.7 311V338.6M155.2 311H166.2M155.2 338.6H166.2" stroke="#ff0000" stroke-width="1.7" fill="none"/>
<path d="M161 292.3V323.3M155.5 292.3H166.5M155.5 323.3H166.5" stroke="#ff0000" stroke-width="1.7" fill="none"/>
<path d="M163.9 266.7V302.3M158.4 266.7H169.4M158.4 302.3H169.4" stroke="#ff0000" stroke-width="1.7" fill="none"/>
<path d="M201.2 237V272.6M195.7 237H206.7M195.7 272.6H206.7" stroke="#ff0000" stroke-width="1.7" fill="none"/>
<path d="M238.3 207.9V243.5M232.8 207.9H243.8M232.8 243.5H243.8" stroke="#ff0000" stroke-width="1.7" fill="none"/>
<path d="M275.4 181.9V217.5M269.9 181.9H280.9M269.9 217.5H280.9" stroke="#ff0000" stroke-width="1.7" fill="none"/>
<path d="M312.7 161.4V197M307.2 161.4H318.2M307.2 197H318.2" stroke="#ff0000" stroke-width="1.7" fill="none"/>
<path d="M349.6 147.6V183.2M344.1 147.6H355.1M344.1 183.2H355.1" stroke="#ff0000" stroke-width="1.7" fill="none"/>
<path d="M386.9 142.6V178.2M381.4 142.6H392.4M381.4 178.2H392.4" stroke="#ff0000" stroke-width="1.7" fill="none"/>
<path d="M424.2 148.2V183.8M418.7 148.2H429.7M418.7 183.8H429.7" stroke="#ff0000" stroke-width="1.7" fill="none"/>
<path d="M461.4 151.4V187M455.9 151.4H466.9M455.9 187H466.9" stroke="#ff0000" stroke-width="1.7" fill="none"/>
<path d="M498.7 156.8V192.4M493.2 156.8H504.2M493.2 192.4H504.2" stroke="#ff0000" stroke-width="1.7" fill="none"/>
<path d="M143.2 605.4V612M138.8 605.4H147.6M138.8 612H147.6" stroke="#ff0000" stroke-width="1.2" fill="none"/>
<path d="M145.2 588.4V595M140.8 588.4H149.6M140.8 595H149.6" stroke="#ff0000" stroke-width="1.2" fill="none"/>
<path d="M147.1 571.4V578M142.7 571.4H151.5M142.7 578H151.5" stroke="#ff0000" stroke-width="1.2" fill="none"/>
<path d="M149 554.4V561M144.6 554.4H153.4M144.6 561H153.4" stroke="#ff0000" stroke-width="1.2" fill="none"/>
<path d="M150.9 537.4V544M146.5 537.4H155.3M146.5 544H155.3" stroke="#ff0000" stroke-width="1.2" fill="none"/>
<path d="M152.8 520.4V527M148.4 520.4H157.2M148.4 527H157.2" stroke="#ff0000" stroke-width="1.2" fill="none"/>
<path d="M154.8 503.4V510M150.4 503.4H159.2M150.4 510H159.2" stroke="#ff0000" stroke-width="1.2" fill="none"/>
<path d="M156.7 486.1V493.3M152.3 486.1H161.1M152.3 493.3H161.1" stroke="#ff0000" stroke-width="1.2" fill="none"/>
<path d="M158.6 468.1V477.3M154.2 468.1H163M154.2 477.3H163" stroke="#ff0000" stroke-width="1.2" fill="none"/>
<path d="M160.5 450V461.4M156.1 450H164.9M156.1 461.4H164.9" stroke="#ff0000" stroke-width="1.2" fill="none"/>
<path d="M162.5 431.8V445.6M158.1 431.8H166.9M158.1 445.6H166.9" stroke="#ff0000" stroke-width="1.2" fill="none"/>
<path d="M164.1 413.5V429.9M158.6 413.5H169.6M158.6 429.9H169.6" stroke="#ff0000" stroke-width="1.7" fill="none"/>
<path d="M164.6 395.1V414.3M159.1 395.1H170.1M159.1 414.3H170.1" stroke="#ff0000" stroke-width="1.7" fill="none"/>
<path d="M165.2 376.5V398.9M159.7 376.5H170.7M159.7 398.9H170.7" stroke="#ff0000" stroke-width="1.7" fill="none"/>
<path d="M165.7 357.9V383.5M160.2 357.9H171.2M160.2 383.5H171.2" stroke="#ff0000" stroke-width="1.7" fill="none"/>
<path d="M163.9 334.9V364.9M158.4 334.9H169.4M158.4 364.9H169.4" stroke="#ff0000" stroke-width="1.7" fill="none"/>
<path d="M201.2 308.8V338.8M195.7 308.8H206.7M195.7 338.8H206.7" stroke="#ff0000" stroke-width="1.7" fill="none"/>
<path d="M238.3 285.1V315.1M232.8 285.1H243.8M232.8 315.1H243.8" stroke="#ff0000" stroke-width="1.7" fill="none"/>
<path d="M275.4 264.5V294.5M269.9 264.5H280.9M269.9 294.5H280.9" stroke="#ff0000" stroke-width="1.7" fill="none"/>
<path d="M312.7 249V279M307.2 249H318.2M307.2 279H318.2" stroke="#ff0000" stroke-width="1.7" fill="none"/>
<path d="M349.6 239V269M344.1 239H355.1M344.1 269H355.1" stroke="#ff0000" stroke-width="1.7" fill="none"/>
<path d="M386.9 233.2V263.2M381.4 233.2H392.4M381.4 263.2H392.4" stroke="#ff0000" stroke-width="1.7" fill="none"/>
<path d="M424.2 232.6V262.6M418.7 232.6H429.7M418.7 262.6H429.7" stroke="#ff0000" stroke-width="1.7" fill="none"/>
<path d="M461.4 239V269M455.9 239H466.9M455.9 269H466.9" stroke="#ff0000" stroke-width="1.7" fill="none"/>
<path d="M498.7 245.6V275.6M493.2 245.6H504.2M493.2 275.6H504.2" stroke="#ff0000" stroke-width="1.7" fill="none"/>
<path d="M139.9 610.4V618.4M135.2 618.4H144.6" stroke="#ff0000" stroke-width="1.3" fill="none"/>
<path d="M141.8 593.4V601.4M137.1 601.4H146.5" stroke="#ff0000" stroke-width="1.3" fill="none"/>
<path d="M143.7 576.4V584.4M139 584.4H148.4" stroke="#ff0000" stroke-width="1.3" fill="none"/>
<path d="M145.6 559.4V567.4M140.9 567.4H150.3" stroke="#ff0000" stroke-width="1.3" fill="none"/>
<path d="M147.6 542.4V550.4M142.9 550.4H152.2" stroke="#ff0000" stroke-width="1.3" fill="none"/>
<path d="M149.5 525.4V533.4M144.8 533.4H154.2" stroke="#ff0000" stroke-width="1.3" fill="none"/>
<path d="M151.4 508.4V516.4M146.7 516.4H156.1" stroke="#ff0000" stroke-width="1.3" fill="none"/>
<path d="M153.3 491.4V499.4M148.6 499.4H158" stroke="#ff0000" stroke-width="1.3" fill="none"/>
<path d="M155.2 474.4V482.4M150.6 482.4H159.9" stroke="#ff0000" stroke-width="1.3" fill="none"/>
<path d="M157.2 457.4V465.4M152.5 465.4H161.9" stroke="#ff0000" stroke-width="1.3" fill="none"/>
<path d="M159.1 440.4V448.4M154.4 448.4H163.8" stroke="#ff0000" stroke-width="1.3" fill="none"/>
<path d="M161 423.4V431.4M156.3 431.4H165.7" stroke="#ff0000" stroke-width="1.3" fill="none"/>
<path d="M162.2 406.4V414.4M157.5 414.4H166.9" stroke="#ff0000" stroke-width="1.3" fill="none"/>
<path d="M163.2 389.4V397.4M158.5 397.4H167.9" stroke="#ff0000" stroke-width="1.3" fill="none"/>
<path d="M163.9 376.3V384.3M159.2 384.3H168.6" stroke="#ff0000" stroke-width="1.3" fill="none"/>
<path d="M201.2 370.3V378.3M196.5 378.3H205.9" stroke="#ff0000" stroke-width="1.3" fill="none"/>
<path d="M238.3 363.9V371.9M233.6 371.9H243" stroke="#ff0000" stroke-width="1.3" fill="none"/>
<path d="M275.4 358.9V366.9M270.7 366.9H280.1" stroke="#ff0000" stroke-width="1.3" fill="none"/>
<path d="M312.7 357.1V365.1M308 365.1H317.4" stroke="#ff0000" stroke-width="1.3" fill="none"/>
<path d="M349.6 356.1V364.1M344.9 364.1H354.3" stroke="#ff0000" stroke-width="1.3" fill="none"/>
<path d="M386.9 355.9V363.9M382.2 363.9H391.6" stroke="#ff0000" stroke-width="1.3" fill="none"/>
<path d="M424.2 357.3V365.3M419.5 365.3H428.9" stroke="#ff0000" stroke-width="1.3" fill="none"/>
<path d="M461.4 358.5V366.5M456.7 366.5H466.1" stroke="#ff0000" stroke-width="1.3" fill="none"/>
<path d="M498.7 364V372M494 372H503.4" stroke="#ff0000" stroke-width="1.3" fill="none"/>
<path d="M138 614.5V624.7M133.6 614.5H142.4M133.6 624.7H142.4" stroke="#0000ff" stroke-width="1.2" fill="none"/>
<path d="M140.5 592.5V602.7M136.1 592.5H144.9M136.1 602.7H144.9" stroke="#0000ff" stroke-width="1.2" fill="none"/>
<path d="M143 570.5V580.7M138.6 570.5H147.4M138.6 580.7H147.4" stroke="#0000ff" stroke-width="1.2" fill="none"/>
<path d="M145.5 548.5V558.7M141.1 548.5H149.9M141.1 558.7H149.9" stroke="#0000ff" stroke-width="1.2" fill="none"/>
<path d="M147.9 526.5V536.7M143.5 526.5H152.3M143.5 536.7H152.3" stroke="#0000ff" stroke-width="1.2" fill="none"/>
<path d="M150.4 504.5V514.7M146 504.5H154.8M146 514.7H154.8" stroke="#0000ff" stroke-width="1.2" fill="none"/>
<path d="M152.9 482.5V492.7M148.5 482.5H157.3M148.5 492.7H157.3" stroke="#0000ff" stroke-width="1.2" fill="none"/>
<path d="M155.4 459.8V471.4M151 459.8H159.8M151 471.4H159.8" stroke="#0000ff" stroke-width="1.2" fill="none"/>
<path d="M157.9 436.1V451.1M153.5 436.1H162.3M153.5 451.1H162.3" stroke="#0000ff" stroke-width="1.2" fill="none"/>
<path d="M160 412.1V431.1M154.5 412.1H165.5M154.5 431.1H165.5" stroke="#0000ff" stroke-width="1.7" fill="none"/>
<path d="M160.1 388V411.2M154.6 388H165.6M154.6 411.2H165.6" stroke="#0000ff" stroke-width="1.7" fill="none"/>
<path d="M160.2 363.6V391.6M154.7 363.6H165.7M154.7 391.6H165.7" stroke="#0000ff" stroke-width="1.7" fill="none"/>
<path d="M160.2 339V372.2M154.7 339H165.7M154.7 372.2H165.7" stroke="#0000ff" stroke-width="1.7" fill="none"/>
<path d="M160.3 314.2V353M154.8 314.2H165.8M154.8 353H165.8" stroke="#0000ff" stroke-width="1.7" fill="none"/>
<path d="M161.9 284.4V330.4M156.4 284.4H167.4M156.4 330.4H167.4" stroke="#0000ff" stroke-width="1.7" fill="none"/>
<path d="M187.9 258.5V304.5M182.4 258.5H193.4M182.4 304.5H193.4" stroke="#0000ff" stroke-width="1.7" fill="none"/>
<path d="M213.9 248.5V294.5M208.4 248.5H219.4M208.4 294.5H219.4" stroke="#0000ff" stroke-width="1.7" fill="none"/>
<path d="M239.9 238.2V284.2M234.4 238.2H245.4M234.4 284.2H245.4" stroke="#0000ff" stroke-width="1.7" fill="none"/>
<path d="M265.9 235.6V281.6M260.4 235.6H271.4M260.4 281.6H271.4" stroke="#0000ff" stroke-width="1.7" fill="none"/>
<path d="M291.9 232V278M286.4 232H297.4M286.4 278H297.4" stroke="#0000ff" stroke-width="1.7" fill="none"/>
<path d="M317.9 229V275M312.4 229H323.4M312.4 275H323.4" stroke="#0000ff" stroke-width="1.7" fill="none"/>
<path d="M343.9 227.2V273.2M338.4 227.2H349.4M338.4 273.2H349.4" stroke="#0000ff" stroke-width="1.7" fill="none"/>
<path d="M369.9 228.2V274.2M364.4 228.2H375.4M364.4 274.2H375.4" stroke="#0000ff" stroke-width="1.7" fill="none"/>
<path d="M395.9 230.6V276.6M390.4 230.6H401.4M390.4 276.6H401.4" stroke="#0000ff" stroke-width="1.7" fill="none"/>
<path d="M421.9 235.6V281.6M416.4 235.6H427.4M416.4 281.6H427.4" stroke="#0000ff" stroke-width="1.7" fill="none"/>
<path d="M447.9 240.2V286.2M442.4 240.2H453.4M442.4 286.2H453.4" stroke="#0000ff" stroke-width="1.7" fill="none"/>
<path d="M473.9 247.5V293.5M468.4 247.5H479.4M468.4 293.5H479.4" stroke="#0000ff" stroke-width="1.7" fill="none"/>
<path d="M499.9 258.9V304.9M494.4 258.9H505.4M494.4 304.9H505.4" stroke="#0000ff" stroke-width="1.7" fill="none"/>
<path d="M525.9 273V319M520.4 273H531.4M520.4 319H531.4" stroke="#0000ff" stroke-width="1.7" fill="none"/>
<path d="M551.9 289.2V335.2M546.4 289.2H557.4M546.4 335.2H557.4" stroke="#0000ff" stroke-width="1.7" fill="none"/>
<path d="M577.9 308V354M572.4 308H583.4M572.4 354H583.4" stroke="#0000ff" stroke-width="1.7" fill="none"/>
<path d="M603.9 328.7V374.7M598.4 328.7H609.4M598.4 374.7H609.4" stroke="#0000ff" stroke-width="1.7" fill="none"/>
<path d="M629.9 352V398M624.4 352H635.4M624.4 398H635.4" stroke="#0000ff" stroke-width="1.7" fill="none"/>
<path d="M655.9 378V424M650.4 378H661.4M650.4 424H661.4" stroke="#0000ff" stroke-width="1.7" fill="none"/>
<path d="M681.9 404.8V450.8M676.4 404.8H687.4M676.4 450.8H687.4" stroke="#0000ff" stroke-width="1.7" fill="none"/>
<path d="M707.9 424V470M702.4 424H713.4M702.4 470H713.4" stroke="#0000ff" stroke-width="1.7" fill="none"/>
<path d="M733.9 464.4V510.4M728.4 464.4H739.4M728.4 510.4H739.4" stroke="#0000ff" stroke-width="1.7" fill="none"/>
<path d="M139.4 603.6V611.4M135 603.6H143.8M135 611.4H143.8" stroke="#0000ff" stroke-width="1.2" fill="none"/>
<path d="M141.9 581.6V589.4M137.5 581.6H146.3M137.5 589.4H146.3" stroke="#0000ff" stroke-width="1.2" fill="none"/>
<path d="M144.3 559.6V567.4M139.9 559.6H148.7M139.9 567.4H148.7" stroke="#0000ff" stroke-width="1.2" fill="none"/>
<path d="M146.8 537.6V545.4M142.4 537.6H151.2M142.4 545.4H151.2" stroke="#0000ff" stroke-width="1.2" fill="none"/>
<path d="M149.3 515.6V523.4M144.9 515.6H153.7M144.9 523.4H153.7" stroke="#0000ff" stroke-width="1.2" fill="none"/>
<path d="M151.8 493V502M147.4 493H156.2M147.4 502H156.2" stroke="#0000ff" stroke-width="1.2" fill="none"/>
<path d="M154.3 469.3V481.7M149.9 469.3H158.7M149.9 481.7H158.7" stroke="#0000ff" stroke-width="1.2" fill="none"/>
<path d="M156.8 445.4V461.6M151.3 445.4H162.3M151.3 461.6H162.3" stroke="#0000ff" stroke-width="1.7" fill="none"/>
<path d="M159.3 421.1V441.9M153.8 421.1H164.8M153.8 441.9H164.8" stroke="#0000ff" stroke-width="1.7" fill="none"/>
<path d="M160.1 396.7V422.3M154.6 396.7H165.6M154.6 422.3H165.6" stroke="#0000ff" stroke-width="1.7" fill="none"/>
<path d="M160.3 371.9V403.1M154.8 371.9H165.8M154.8 403.1H165.8" stroke="#0000ff" stroke-width="1.7" fill="none"/>
<path d="M161.9 355.8V390.8M156.4 355.8H167.4M156.4 390.8H167.4" stroke="#0000ff" stroke-width="1.7" fill="none"/>
<path d="M187.9 339.8V374.8M182.4 339.8H193.4M182.4 374.8H193.4" stroke="#0000ff" stroke-width="1.7" fill="none"/>
<path d="M213.9 328.4V363.4M208.4 328.4H219.4M208.4 363.4H219.4" stroke="#0000ff" stroke-width="1.7" fill="none"/>
<path d="M239.9 321.3V356.3M234.4 321.3H245.4M234.4 356.3H245.4" stroke="#0000ff" stroke-width="1.7" fill="none"/>
<path d="M265.9 320.9V355.9M260.4 320.9H271.4M260.4 355.9H271.4" stroke="#0000ff" stroke-width="1.7" fill="none"/>
<path d="M291.9 321.5V356.5M286.4 321.5H297.4M286.4 356.5H297.4" stroke="#0000ff" stroke-width="1.7" fill="none"/>
<path d="M317.9 322.5V357.5M312.4 322.5H323.4M312.4 357.5H323.4" stroke="#0000ff" stroke-width="1.7" fill="none"/>
<path d="M343.9 322.5V357.5M338.4 322.5H349.4M338.4 357.5H349.4" stroke="#0000ff" stroke-width="1.7" fill="none"/>
<path d="M369.9 322.5V357.5M364.4 322.5H375.4M364.4 357.5H375.4" stroke="#0000ff" stroke-width="1.7" fill="none"/>
<path d="M395.9 323.5V358.5M390.4 323.5H401.4M390.4 358.5H401.4" stroke="#0000ff" stroke-width="1.7" fill="none"/>
<path d="M421.9 324.9V359.9M416.4 324.9H427.4M416.4 359.9H427.4" stroke="#0000ff" stroke-width="1.7" fill="none"/>
<path d="M447.9 326.9V361.9M442.4 326.9H453.4M442.4 361.9H453.4" stroke="#0000ff" stroke-width="1.7" fill="none"/>
<path d="M473.9 329.8V364.8M468.4 329.8H479.4M468.4 364.8H479.4" stroke="#0000ff" stroke-width="1.7" fill="none"/>
<path d="M499.9 334.1V369.1M494.4 334.1H505.4M494.4 369.1H505.4" stroke="#0000ff" stroke-width="1.7" fill="none"/>
<path d="M525.9 343.3V378.3M520.4 343.3H531.4M520.4 378.3H531.4" stroke="#0000ff" stroke-width="1.7" fill="none"/>
<path d="M551.9 353.4V388.4M546.4 353.4H557.4M546.4 388.4H557.4" stroke="#0000ff" stroke-width="1.7" fill="none"/>
<path d="M577.9 364.7V399.7M572.4 364.7H583.4M572.4 399.7H583.4" stroke="#0000ff" stroke-width="1.7" fill="none"/>
<path d="M603.9 377.4V412.4M598.4 377.4H609.4M598.4 412.4H609.4" stroke="#0000ff" stroke-width="1.7" fill="none"/>
<path d="M629.9 388.9V423.9M624.4 388.9H635.4M624.4 423.9H635.4" stroke="#0000ff" stroke-width="1.7" fill="none"/>
<path d="M655.9 399.5V434.5M650.4 399.5H661.4M650.4 434.5H661.4" stroke="#0000ff" stroke-width="1.7" fill="none"/>
<path d="M681.9 409V444M676.4 409H687.4M676.4 444H687.4" stroke="#0000ff" stroke-width="1.7" fill="none"/>
<path d="M707.9 443.1V478.1M702.4 443.1H713.4M702.4 478.1H713.4" stroke="#0000ff" stroke-width="1.7" fill="none"/>
<path d="M733.9 466.7V501.7M728.4 466.7H739.4M728.4 501.7H739.4" stroke="#0000ff" stroke-width="1.7" fill="none"/>
<path d="M143.8 608.7V615.1M139.4 608.7H148.2M139.4 615.1H148.2" stroke="#0000ff" stroke-width="1.2" fill="none"/>
<path d="M146.3 586.7V593.1M141.9 586.7H150.7M141.9 593.1H150.7" stroke="#0000ff" stroke-width="1.2" fill="none"/>
<path d="M148.7 564.7V571.1M144.3 564.7H153.1M144.3 571.1H153.1" stroke="#0000ff" stroke-width="1.2" fill="none"/>
<path d="M151.2 542.7V549.1M146.8 542.7H155.6M146.8 549.1H155.6" stroke="#0000ff" stroke-width="1.2" fill="none"/>
<path d="M153.6 520.4V527.4M149.2 520.4H158M149.2 527.4H158" stroke="#0000ff" stroke-width="1.2" fill="none"/>
<path d="M156.1 496.7V507.1M151.7 496.7H160.5M151.7 507.1H160.5" stroke="#0000ff" stroke-width="1.2" fill="none"/>
<path d="M158.5 472.7V487.1M154.1 472.7H162.9M154.1 487.1H162.9" stroke="#0000ff" stroke-width="1.2" fill="none"/>
<path d="M160.9 448.3V467.5M155.4 448.3H166.4M155.4 467.5H166.4" stroke="#0000ff" stroke-width="1.7" fill="none"/>
<path d="M163.4 423.6V448.2M157.9 423.6H168.9M157.9 448.2H168.9" stroke="#0000ff" stroke-width="1.7" fill="none"/>
<path d="M161.9 403.1V432.5M156.4 403.1H167.4M156.4 432.5H167.4" stroke="#0000ff" stroke-width="1.7" fill="none"/>
<path d="M187.9 385.1V414.5M182.4 385.1H193.4M182.4 414.5H193.4" stroke="#0000ff" stroke-width="1.7" fill="none"/>
<path d="M213.9 372.2V401.6M208.4 372.2H219.4M208.4 401.6H219.4" stroke="#0000ff" stroke-width="1.7" fill="none"/>
<path d="M239.9 365.8V395.2M234.4 365.8H245.4M234.4 395.2H245.4" stroke="#0000ff" stroke-width="1.7" fill="none"/>
<path d="M265.9 365.8V395.2M260.4 365.8H271.4M260.4 395.2H271.4" stroke="#0000ff" stroke-width="1.7" fill="none"/>
<path d="M291.9 366.6V396M286.4 366.6H297.4M286.4 396H297.4" stroke="#0000ff" stroke-width="1.7" fill="none"/>
<path d="M317.9 367.2V396.6M312.4 367.2H323.4M312.4 396.6H323.4" stroke="#0000ff" stroke-width="1.7" fill="none"/>
<path d="M343.9 367.6V397M338.4 367.6H349.4M338.4 397H349.4" stroke="#0000ff" stroke-width="1.7" fill="none"/>
<path d="M369.9 368.2V397.6M364.4 368.2H375.4M364.4 397.6H375.4" stroke="#0000ff" stroke-width="1.7" fill="none"/>
<path d="M395.9 370.2V399.6M390.4 370.2H401.4M390.4 399.6H401.4" stroke="#0000ff" stroke-width="1.7" fill="none"/>
<path d="M421.9 372.8V402.2M416.4 372.8H427.4M416.4 402.2H427.4" stroke="#0000ff" stroke-width="1.7" fill="none"/>
<path d="M447.9 377.1V406.5M442.4 377.1H453.4M442.4 406.5H453.4" stroke="#0000ff" stroke-width="1.7" fill="none"/>
<path d="M473.9 384.5V413.9M468.4 384.5H479.4M468.4 413.9H479.4" stroke="#0000ff" stroke-width="1.7" fill="none"/>
<path d="M499.9 393.1V422.5M494.4 393.1H505.4M494.4 422.5H505.4" stroke="#0000ff" stroke-width="1.7" fill="none"/>
<path d="M525.9 402.5V431.9M520.4 402.5H531.4M520.4 431.9H531.4" stroke="#0000ff" stroke-width="1.7" fill="none"/>
<path d="M551.9 412.9V442.3M546.4 412.9H557.4M546.4 442.3H557.4" stroke="#0000ff" stroke-width="1.7" fill="none"/>
<path d="M577.9 424V453.4M572.4 424H583.4M572.4 453.4H583.4" stroke="#0000ff" stroke-width="1.7" fill="none"/>
<path d="M603.9 430.8V460.2M598.4 430.8H609.4M598.4 460.2H609.4" stroke="#0000ff" stroke-width="1.7" fill="none"/>
<path d="M629.9 438.3V467.7M624.4 438.3H635.4M624.4 467.7H635.4" stroke="#0000ff" stroke-width="1.7" fill="none"/>
<path d="M655.9 447.8V477.2M650.4 447.8H661.4M650.4 477.2H661.4" stroke="#0000ff" stroke-width="1.7" fill="none"/>
<path d="M681.9 457.3V486.7M676.4 457.3H687.4M676.4 486.7H687.4" stroke="#0000ff" stroke-width="1.7" fill="none"/>
<path d="M707.9 470.2V499.6M702.4 470.2H713.4M702.4 499.6H713.4" stroke="#0000ff" stroke-width="1.7" fill="none"/>
<path d="M733.9 490V519.4M728.4 490H739.4M728.4 519.4H739.4" stroke="#0000ff" stroke-width="1.7" fill="none"/>
<path d="M139.4 610.3V618.3M134.7 618.3H144.1" stroke="#0000ff" stroke-width="1.3" fill="none"/>
<path d="M141.9 588.3V596.3M137.2 596.3H146.5" stroke="#0000ff" stroke-width="1.3" fill="none"/>
<path d="M144.3 566.3V574.3M139.7 574.3H149" stroke="#0000ff" stroke-width="1.3" fill="none"/>
<path d="M146.8 544.3V552.3M142.1 552.3H151.5" stroke="#0000ff" stroke-width="1.3" fill="none"/>
<path d="M149.3 522.3V530.3M144.6 530.3H154" stroke="#0000ff" stroke-width="1.3" fill="none"/>
<path d="M151.8 500.3V508.3M147.1 508.3H156.5" stroke="#0000ff" stroke-width="1.3" fill="none"/>
<path d="M154.3 478.3V486.3M149.6 486.3H159" stroke="#0000ff" stroke-width="1.3" fill="none"/>
<path d="M156.8 456.3V464.3M152.1 464.3H161.5" stroke="#0000ff" stroke-width="1.3" fill="none"/>
<path d="M159.3 434.3V442.3M154.6 442.3H164" stroke="#0000ff" stroke-width="1.3" fill="none"/>
<path d="M161.1 412.3V420.3M156.4 420.3H165.8" stroke="#0000ff" stroke-width="1.3" fill="none"/>
<path d="M161.9 398.8V406.8M157.2 406.8H166.6" stroke="#0000ff" stroke-width="1.3" fill="none"/>
<path d="M187.9 393.8V401.8M183.2 401.8H192.6" stroke="#0000ff" stroke-width="1.3" fill="none"/>
<path d="M213.9 391.8V399.8M209.2 399.8H218.6" stroke="#0000ff" stroke-width="1.3" fill="none"/>
<path d="M239.9 391.2V399.2M235.2 399.2H244.6" stroke="#0000ff" stroke-width="1.3" fill="none"/>
<path d="M265.9 391.4V399.4M261.2 399.4H270.6" stroke="#0000ff" stroke-width="1.3" fill="none"/>
<path d="M291.9 393.4V401.4M287.2 401.4H296.6" stroke="#0000ff" stroke-width="1.3" fill="none"/>
<path d="M317.9 395.4V403.4M313.2 403.4H322.6" stroke="#0000ff" stroke-width="1.3" fill="none"/>
<path d="M343.9 398.2V406.2M339.2 406.2H348.6" stroke="#0000ff" stroke-width="1.3" fill="none"/>
<path d="M369.9 401.8V409.8M365.2 409.8H374.6" stroke="#0000ff" stroke-width="1.3" fill="none"/>
<path d="M395.9 404.4V412.4M391.2 412.4H400.6" stroke="#0000ff" stroke-width="1.3" fill="none"/>
<path d="M421.9 405.8V413.8M417.2 413.8H426.6" stroke="#0000ff" stroke-width="1.3" fill="none"/>
<path d="M447.9 407.4V415.4M443.2 415.4H452.6" stroke="#0000ff" stroke-width="1.3" fill="none"/>
<path d="M473.9 410.2V418.2M469.2 418.2H478.6" stroke="#0000ff" stroke-width="1.3" fill="none"/>
<path d="M499.9 413.2V421.2M495.2 421.2H504.6" stroke="#0000ff" stroke-width="1.3" fill="none"/>
<path d="M525.9 417.5V425.5M521.2 425.5H530.6" stroke="#0000ff" stroke-width="1.3" fill="none"/>
<path d="M551.9 421.1V429.1M547.2 429.1H556.6" stroke="#0000ff" stroke-width="1.3" fill="none"/>
<path d="M577.9 425.2V433.2M573.2 433.2H582.6" stroke="#0000ff" stroke-width="1.3" fill="none"/>
<path d="M603.9 429V437M599.2 437H608.6" stroke="#0000ff" stroke-width="1.3" fill="none"/>
<path d="M629.9 435.1V443.1M625.2 443.1H634.6" stroke="#0000ff" stroke-width="1.3" fill="none"/>
<path d="M655.9 441.8V449.8M651.2 449.8H660.6" stroke="#0000ff" stroke-width="1.3" fill="none"/>
<path d="M681.9 449.1V457.1M677.2 457.1H686.6" stroke="#0000ff" stroke-width="1.3" fill="none"/>
<path d="M707.9 468.9V476.9M703.2 476.9H712.6" stroke="#0000ff" stroke-width="1.3" fill="none"/>
<path d="M733.9 512.7V520.7M729.2 520.7H738.6" stroke="#0000ff" stroke-width="1.3" fill="none"/>
</g>
<rect x="517.9" y="17.9" width="452.5" height="191.6" fill="#fff" stroke="#222" stroke-width="1.3"/>
<text x="523.2" y="47.3" font-size="27" font-weight="bold">ECN</text>
<text x="754.7" y="47.3" font-size="27" font-weight="bold">NP</text>
<line x1="522.5" y1="72" x2="584" y2="72" stroke="#ff0000" stroke-width="1.4"/>
<rect x="547.3" y="66" width="12" height="12" fill="#ff0000"/>
<text x="591.6" y="81" font-size="27.4">Al<tspan font-size="18.4" dy="6.8">11</tspan><tspan dy="-6.8">La</tspan><tspan font-size="18.4" dy="6.8">3</tspan><tspan dy="-6.8"> (101)</tspan></text>
<line x1="747.5" y1="72" x2="809.3" y2="72" stroke="#0000ff" stroke-width="1.4" stroke-dasharray="4.3 2.9"/>
<rect x="772.5" y="66" width="12" height="12" fill="#0000ff"/>
<text x="817.8" y="81" font-size="27.4">Al<tspan font-size="18.4" dy="6.8">11</tspan><tspan dy="-6.8">La</tspan><tspan font-size="18.4" dy="6.8">3</tspan><tspan dy="-6.8"> (101)</tspan></text>
<line x1="522.5" y1="111.7" x2="584" y2="111.7" stroke="#ff0000" stroke-width="1.4"/>
<polygon points="553.3,102.5 545,116.3 561.5,116.3" fill="#ff0000"/>
<text x="591.6" y="120.7" font-size="27.4">Al<tspan font-size="18.4" dy="6.8">11</tspan><tspan dy="-6.8">La</tspan><tspan font-size="18.4" dy="6.8">3</tspan><tspan dy="-6.8"> (130)</tspan></text>
<line x1="747.5" y1="111.7" x2="809.3" y2="111.7" stroke="#0000ff" stroke-width="1.4" stroke-dasharray="4.3 2.9"/>
<polygon points="778.5,102.5 770.2,116.3 786.8,116.3" fill="#0000ff"/>
<text x="817.8" y="120.7" font-size="27.4">Al<tspan font-size="18.4" dy="6.8">11</tspan><tspan dy="-6.8">La</tspan><tspan font-size="18.4" dy="6.8">3</tspan><tspan dy="-6.8"> (130)</tspan></text>
<line x1="522.5" y1="151.4" x2="584" y2="151.4" stroke="#ff0000" stroke-width="1.4"/>
<polygon points="553.3,142.9 561.8,151.4 553.3,159.9 544.8,151.4" fill="#ff0000"/>
<text x="591.6" y="160.4" font-size="27.4">Al<tspan font-size="18.4" dy="6.8">11</tspan><tspan dy="-6.8">La</tspan><tspan font-size="18.4" dy="6.8">3</tspan><tspan dy="-6.8"> (132)</tspan></text>
<line x1="747.5" y1="151.4" x2="809.3" y2="151.4" stroke="#0000ff" stroke-width="1.4" stroke-dasharray="4.3 2.9"/>
<polygon points="778.5,142.9 787,151.4 778.5,159.9 770,151.4" fill="#0000ff"/>
<text x="817.8" y="160.4" font-size="27.4">Al<tspan font-size="18.4" dy="6.8">11</tspan><tspan dy="-6.8">La</tspan><tspan font-size="18.4" dy="6.8">3</tspan><tspan dy="-6.8"> (132)</tspan></text>
<line x1="522.5" y1="190.8" x2="584" y2="190.8" stroke="#ff0000" stroke-width="1.4"/>
<circle cx="553.3" cy="190.8" r="6" fill="#fff" stroke="#ff0000" stroke-width="1.5"/>
<text x="591.6" y="199.8" font-size="27.4">Al</text>
<line x1="758.1" y1="190.8" x2="819.6" y2="190.8" stroke="#0000ff" stroke-width="1.4" stroke-dasharray="4.3 2.9"/>
<circle cx="788.9" cy="190.8" r="6" fill="#fff" stroke="#0000ff" stroke-width="1.5"/>
<text x="827.9" y="199.8" font-size="27.4">Al</text>
</g>
<g id="pb">
<rect x="1139.6" y="58.8" width="702.7" height="566.4" fill="none" stroke="#000" stroke-width="2.8"/>
<text x="1139.6" y="660" font-size="29.3" text-anchor="middle">0.00</text>
<line x1="1189.8" y1="625.2" x2="1189.8" y2="619.2" stroke="#000" stroke-width="2.7"/>
<line x1="1240" y1="625.2" x2="1240" y2="614.2" stroke="#000" stroke-width="2.7"/>
<text x="1240" y="660" font-size="29.3" text-anchor="middle">0.02</text>
<line x1="1290.2" y1="625.2" x2="1290.2" y2="619.2" stroke="#000" stroke-width="2.7"/>
<line x1="1340.4" y1="625.2" x2="1340.4" y2="614.2" stroke="#000" stroke-width="2.7"/>
<text x="1340.4" y="660" font-size="29.3" text-anchor="middle">0.04</text>
<line x1="1390.6" y1="625.2" x2="1390.6" y2="619.2" stroke="#000" stroke-width="2.7"/>
<line x1="1440.8" y1="625.2" x2="1440.8" y2="614.2" stroke="#000" stroke-width="2.7"/>
<text x="1440.8" y="660" font-size="29.3" text-anchor="middle">0.06</text>
<line x1="1490.9" y1="625.2" x2="1490.9" y2="619.2" stroke="#000" stroke-width="2.7"/>
<line x1="1541.1" y1="625.2" x2="1541.1" y2="614.2" stroke="#000" stroke-width="2.7"/>
<text x="1541.1" y="660" font-size="29.3" text-anchor="middle">0.08</text>
<line x1="1591.3" y1="625.2" x2="1591.3" y2="619.2" stroke="#000" stroke-width="2.7"/>
<line x1="1641.5" y1="625.2" x2="1641.5" y2="614.2" stroke="#000" stroke-width="2.7"/>
<text x="1641.5" y="660" font-size="29.3" text-anchor="middle">0.10</text>
<line x1="1691.7" y1="625.2" x2="1691.7" y2="619.2" stroke="#000" stroke-width="2.7"/>
<line x1="1741.9" y1="625.2" x2="1741.9" y2="614.2" stroke="#000" stroke-width="2.7"/>
<text x="1741.9" y="660" font-size="29.3" text-anchor="middle">0.12</text>
<line x1="1792.1" y1="625.2" x2="1792.1" y2="619.2" stroke="#000" stroke-width="2.7"/>
<text x="1842.3" y="660" font-size="29.3" text-anchor="middle">0.14</text>
<text x="1125.5" y="634.4" font-size="29.3" text-anchor="end">0.000</text>
<line x1="1139.6" y1="568.6" x2="1145.6" y2="568.6" stroke="#000" stroke-width="2.7"/>
<line x1="1139.6" y1="511.9" x2="1150.6" y2="511.9" stroke="#000" stroke-width="2.7"/>
<text x="1125.5" y="521.1" font-size="29.3" text-anchor="end">0.001</text>
<line x1="1139.6" y1="455.3" x2="1145.6" y2="455.3" stroke="#000" stroke-width="2.7"/>
<line x1="1139.6" y1="398.6" x2="1150.6" y2="398.6" stroke="#000" stroke-width="2.7"/>
<text x="1125.5" y="407.8" font-size="29.3" text-anchor="end">0.002</text>
<line x1="1139.6" y1="342" x2="1145.6" y2="342" stroke="#000" stroke-width="2.7"/>
<line x1="1139.6" y1="285.4" x2="1150.6" y2="285.4" stroke="#000" stroke-width="2.7"/>
<text x="1125.5" y="294.6" font-size="29.3" text-anchor="end">0.003</text>
<line x1="1139.6" y1="228.7" x2="1145.6" y2="228.7" stroke="#000" stroke-width="2.7"/>
<line x1="1139.6" y1="172.1" x2="1150.6" y2="172.1" stroke="#000" stroke-width="2.7"/>
<text x="1125.5" y="181.3" font-size="29.3" text-anchor="end">0.004</text>
<line x1="1139.6" y1="115.4" x2="1145.6" y2="115.4" stroke="#000" stroke-width="2.7"/>
<text x="1125.5" y="68" font-size="29.3" text-anchor="end">0.005</text>
<text x="1491" y="708" font-size="42.5" text-anchor="middle">Engineering strain</text>
<text x="1036.2" y="341.7" font-size="42.5" text-anchor="middle" transform="rotate(-90 1036.2 341.7)">Lattice strain</text>
<text x="1166.4" y="100.4" font-size="35" font-weight="bold">300 °C</text>
<text x="998.7" y="87" font-size="83" font-weight="bold">b</text>
<clipPath id="cb"><rect x="1140.3" y="57.4" width="703.4" height="568.8"/></clipPath>
<g clip-path="url(#cb)">
<polyline fill="none" stroke="#ff0000" stroke-width="1.4" stroke-linejoin="round" points="1147.5,610.4 1150.7,568.4 1154,526.4 1155.2,484.4 1156.1,442.4 1157,400.4 1157.6,358.4 1158.1,316.4 1158.9,259 1210.2,197.7 1261.3,166.8 1313.1,166.8 1364.4,190.8 1415.9,204.7 1467.1,220.7 1518.9,239.4 1570.4,268.4 1622,284.1"/>
<rect x="1141.3" y="604.2" width="12.4" height="12.4" fill="#ff0000"/>
<rect x="1144.5" y="562.2" width="12.4" height="12.4" fill="#ff0000"/>
<rect x="1147.8" y="520.2" width="12.4" height="12.4" fill="#ff0000"/>
<rect x="1149" y="478.2" width="12.4" height="12.4" fill="#ff0000"/>
<rect x="1149.9" y="436.2" width="12.4" height="12.4" fill="#ff0000"/>
<rect x="1150.8" y="394.2" width="12.4" height="12.4" fill="#ff0000"/>
<rect x="1151.4" y="352.2" width="12.4" height="12.4" fill="#ff0000"/>
<rect x="1151.9" y="310.2" width="12.4" height="12.4" fill="#ff0000"/>
<rect x="1152.7" y="252.8" width="12.4" height="12.4" fill="#ff0000"/>
<rect x="1204" y="191.5" width="12.4" height="12.4" fill="#ff0000"/>
<rect x="1255.1" y="160.6" width="12.4" height="12.4" fill="#ff0000"/>
<rect x="1306.9" y="160.6" width="12.4" height="12.4" fill="#ff0000"/>
<rect x="1358.2" y="184.6" width="12.4" height="12.4" fill="#ff0000"/>
<rect x="1409.7" y="198.5" width="12.4" height="12.4" fill="#ff0000"/>
<rect x="1460.9" y="214.5" width="12.4" height="12.4" fill="#ff0000"/>
<rect x="1512.7" y="233.2" width="12.4" height="12.4" fill="#ff0000"/>
<rect x="1564.2" y="262.2" width="12.4" height="12.4" fill="#ff0000"/>
<rect x="1615.8" y="277.9" width="12.4" height="12.4" fill="#ff0000"/>
<polyline fill="none" stroke="#ff0000" stroke-width="1.4" stroke-linejoin="round" points="1149.8,599.9 1153.1,557.9 1156.1,515.9 1157,473.9 1157.8,431.9 1158.9,389.9 1158.9,357.3 1210.2,307.5 1261.3,253.6 1313.1,214.7 1364.4,194.8 1415.9,219.7 1467.1,257.6 1518.9,299.7 1570.4,335.6 1622,385.5"/>
<polygon points="1149.8,590.7 1141.5,604.5 1158,604.5" fill="#ff0000"/>
<polygon points="1153.1,548.7 1144.8,562.5 1161.3,562.5" fill="#ff0000"/>
<polygon points="1156.1,506.7 1147.8,520.5 1164.3,520.5" fill="#ff0000"/>
<polygon points="1157,464.7 1148.7,478.5 1165.2,478.5" fill="#ff0000"/>
<polygon points="1157.8,422.7 1149.6,436.5 1166.1,436.5" fill="#ff0000"/>
<polygon points="1158.9,380.7 1150.7,394.5 1167.2,394.5" fill="#ff0000"/>
<polygon points="1158.9,348.1 1150.7,361.9 1167.2,361.9" fill="#ff0000"/>
<polygon points="1210.2,298.3 1202,312.1 1218.5,312.1" fill="#ff0000"/>
<polygon points="1261.3,244.4 1253,258.2 1269.5,258.2" fill="#ff0000"/>
<polygon points="1313.1,205.5 1304.8,219.3 1321.3,219.3" fill="#ff0000"/>
<polygon points="1364.4,185.6 1356.2,199.4 1372.7,199.4" fill="#ff0000"/>
<polygon points="1415.9,210.5 1407.7,224.3 1424.2,224.3" fill="#ff0000"/>
<polygon points="1467.1,248.4 1458.8,262.2 1475.3,262.2" fill="#ff0000"/>
<polygon points="1518.9,290.5 1510.7,304.3 1527.2,304.3" fill="#ff0000"/>
<polygon points="1570.4,326.4 1562.2,340.2 1578.7,340.2" fill="#ff0000"/>
<polygon points="1622,376.3 1613.8,390.1 1630.2,390.1" fill="#ff0000"/>
<polyline fill="none" stroke="#ff0000" stroke-width="1.4" stroke-linejoin="round" points="1150.1,589.4 1153.4,547.4 1155.8,505.4 1156.7,463.4 1157.6,421.4 1158.5,379.4 1158.9,323.4 1210.2,263.6 1261.3,233.3 1313.1,217.7 1364.4,218.3 1415.9,233.3 1467.1,262.6 1518.9,307.7 1570.4,339.6 1622,389.5"/>
<polygon points="1150.1,581.1 1158.4,589.4 1150.1,597.6 1141.9,589.4" fill="#ff0000"/>
<polygon points="1153.4,539.1 1161.6,547.4 1153.4,555.6 1145.1,547.4" fill="#ff0000"/>
<polygon points="1155.8,497.1 1164.1,505.4 1155.8,513.6 1147.6,505.4" fill="#ff0000"/>
<polygon points="1156.7,455.1 1164.9,463.4 1156.7,471.6 1148.4,463.4" fill="#ff0000"/>
<polygon points="1157.6,413.1 1165.8,421.4 1157.6,429.6 1149.3,421.4" fill="#ff0000"/>
<polygon points="1158.5,371.1 1166.8,379.4 1158.5,387.6 1150.3,379.4" fill="#ff0000"/>
<polygon points="1158.9,315.1 1167.2,323.4 1158.9,331.6 1150.7,323.4" fill="#ff0000"/>
<polygon points="1210.2,255.4 1218.5,263.6 1210.2,271.9 1202,263.6" fill="#ff0000"/>
<polygon points="1261.3,225.1 1269.5,233.3 1261.3,241.6 1253,233.3" fill="#ff0000"/>
<polygon points="1313.1,209.4 1321.3,217.7 1313.1,225.9 1304.8,217.7" fill="#ff0000"/>
<polygon points="1364.4,210.1 1372.7,218.3 1364.4,226.6 1356.2,218.3" fill="#ff0000"/>
<polygon points="1415.9,225.1 1424.2,233.3 1415.9,241.6 1407.7,233.3" fill="#ff0000"/>
<polygon points="1467.1,254.4 1475.3,262.6 1467.1,270.9 1458.8,262.6" fill="#ff0000"/>
<polygon points="1518.9,299.4 1527.2,307.7 1518.9,315.9 1510.7,307.7" fill="#ff0000"/>
<polygon points="1570.4,331.4 1578.7,339.6 1570.4,347.9 1562.2,339.6" fill="#ff0000"/>
<polygon points="1622,381.2 1630.2,389.5 1622,397.8 1613.8,389.5" fill="#ff0000"/>
<polyline fill="none" stroke="#ff0000" stroke-width="1.4" stroke-linejoin="round" points="1146,604.1 1149.2,562.1 1152.5,520.1 1153.4,478.1 1154.2,436.1 1155.1,394.1 1155.7,352.1 1156.4,310.1 1158.9,277.5 1210.2,277.5 1261.3,278.1 1313.1,291.1 1364.4,302.5 1415.9,314.1 1467.1,324 1518.9,339 1570.4,361.1 1622,396.4"/>
<circle cx="1146" cy="604.1" r="5.4" fill="#fff" stroke="#ff0000" stroke-width="2.3"/>
<circle cx="1149.2" cy="562.1" r="5.4" fill="#fff" stroke="#ff0000" stroke-width="2.3"/>
<circle cx="1152.5" cy="520.1" r="5.4" fill="#fff" stroke="#ff0000" stroke-width="2.3"/>
<circle cx="1153.4" cy="478.1" r="5.4" fill="#fff" stroke="#ff0000" stroke-width="2.3"/>
<circle cx="1154.2" cy="436.1" r="5.4" fill="#fff" stroke="#ff0000" stroke-width="2.3"/>
<circle cx="1155.1" cy="394.1" r="5.4" fill="#fff" stroke="#ff0000" stroke-width="2.3"/>
<circle cx="1155.7" cy="352.1" r="5.4" fill="#fff" stroke="#ff0000" stroke-width="2.3"/>
<circle cx="1156.4" cy="310.1" r="5.4" fill="#fff" stroke="#ff0000" stroke-width="2.3"/>
<circle cx="1158.9" cy="277.5" r="5.4" fill="#fff" stroke="#ff0000" stroke-width="2.3"/>
<circle cx="1210.2" cy="277.5" r="5.4" fill="#fff" stroke="#ff0000" stroke-width="2.3"/>
<circle cx="1261.3" cy="278.1" r="5.4" fill="#fff" stroke="#ff0000" stroke-width="2.3"/>
<circle cx="1313.1" cy="291.1" r="5.4" fill="#fff" stroke="#ff0000" stroke-width="2.3"/>
<circle cx="1364.4" cy="302.5" r="5.4" fill="#fff" stroke="#ff0000" stroke-width="2.3"/>
<circle cx="1415.9" cy="314.1" r="5.4" fill="#fff" stroke="#ff0000" stroke-width="2.3"/>
<circle cx="1467.1" cy="324" r="5.4" fill="#fff" stroke="#ff0000" stroke-width="2.3"/>
<circle cx="1518.9" cy="339" r="5.4" fill="#fff" stroke="#ff0000" stroke-width="2.3"/>
<circle cx="1570.4" cy="361.1" r="5.4" fill="#fff" stroke="#ff0000" stroke-width="2.3"/>
<circle cx="1622" cy="396.4" r="5.4" fill="#fff" stroke="#ff0000" stroke-width="2.3"/>
<polyline fill="none" stroke="#0000ff" stroke-width="1.2" stroke-linejoin="round" points="1141.2,614.5 1142.9,580.5 1144.6,546.5 1146.3,512.5 1148.1,478.5 1149.8,444.5 1151.5,410.5 1152.3,376.5 1152.8,342.5 1153.2,308.5 1153.5,288.5 1213.8,243.2 1272.2,220.3 1331.1,212.7 1390.3,212.7 1449.6,220.3 1508.8,243.3 1567.8,289.3 1626.5,342.6 1685.9,389 1744.8,420 1803.9,453.9" stroke-dasharray="5 3.5"/>
<rect x="1135" y="608.3" width="12.4" height="12.4" fill="#0000ff"/>
<rect x="1136.7" y="574.3" width="12.4" height="12.4" fill="#0000ff"/>
<rect x="1138.4" y="540.3" width="12.4" height="12.4" fill="#0000ff"/>
<rect x="1140.1" y="506.3" width="12.4" height="12.4" fill="#0000ff"/>
<rect x="1141.9" y="472.3" width="12.4" height="12.4" fill="#0000ff"/>
<rect x="1143.6" y="438.3" width="12.4" height="12.4" fill="#0000ff"/>
<rect x="1145.3" y="404.3" width="12.4" height="12.4" fill="#0000ff"/>
<rect x="1146.1" y="370.3" width="12.4" height="12.4" fill="#0000ff"/>
<rect x="1146.6" y="336.3" width="12.4" height="12.4" fill="#0000ff"/>
<rect x="1147" y="302.3" width="12.4" height="12.4" fill="#0000ff"/>
<rect x="1147.3" y="282.3" width="12.4" height="12.4" fill="#0000ff"/>
<rect x="1207.6" y="237" width="12.4" height="12.4" fill="#0000ff"/>
<rect x="1266" y="214.1" width="12.4" height="12.4" fill="#0000ff"/>
<rect x="1324.9" y="206.5" width="12.4" height="12.4" fill="#0000ff"/>
<rect x="1384.1" y="206.5" width="12.4" height="12.4" fill="#0000ff"/>
<rect x="1443.4" y="214.1" width="12.4" height="12.4" fill="#0000ff"/>
<rect x="1502.6" y="237.1" width="12.4" height="12.4" fill="#0000ff"/>
<rect x="1561.6" y="283.1" width="12.4" height="12.4" fill="#0000ff"/>
<rect x="1620.3" y="336.4" width="12.4" height="12.4" fill="#0000ff"/>
<rect x="1679.7" y="382.8" width="12.4" height="12.4" fill="#0000ff"/>
<rect x="1738.6" y="413.8" width="12.4" height="12.4" fill="#0000ff"/>
<rect x="1797.7" y="447.7" width="12.4" height="12.4" fill="#0000ff"/>
<polyline fill="none" stroke="#0000ff" stroke-width="1.2" stroke-linejoin="round" points="1141.5,599.2 1143.2,565.2 1144.9,531.2 1146.6,497.2 1148.3,463.2 1150,429.2 1151.6,395.2 1152.3,361.2 1153.5,329.4 1213.8,312.1 1272.2,306.5 1331.1,306.5 1390.3,306.5 1449.6,312.1 1508.8,330.5 1567.8,366.5 1626.5,409.4 1685.9,443 1744.8,460.8 1803.9,474.5" stroke-dasharray="5 3.5"/>
<polygon points="1141.5,590 1133.2,603.8 1149.7,603.8" fill="#0000ff"/>
<polygon points="1143.2,556 1135,569.8 1151.5,569.8" fill="#0000ff"/>
<polygon points="1144.9,522 1136.7,535.8 1153.2,535.8" fill="#0000ff"/>
<polygon points="1146.6,488 1138.4,501.8 1154.9,501.8" fill="#0000ff"/>
<polygon points="1148.3,454 1140.1,467.8 1156.6,467.8" fill="#0000ff"/>
<polygon points="1150,420 1141.8,433.8 1158.3,433.8" fill="#0000ff"/>
<polygon points="1151.6,386 1143.4,399.8 1159.9,399.8" fill="#0000ff"/>
<polygon points="1152.3,352 1144.1,365.8 1160.6,365.8" fill="#0000ff"/>
<polygon points="1153.5,320.2 1145.2,334 1161.8,334" fill="#0000ff"/>
<polygon points="1213.8,302.9 1205.5,316.7 1222,316.7" fill="#0000ff"/>
<polygon points="1272.2,297.3 1264,311.1 1280.5,311.1" fill="#0000ff"/>
<polygon points="1331.1,297.3 1322.8,311.1 1339.3,311.1" fill="#0000ff"/>
<polygon points="1390.3,297.3 1382,311.1 1398.5,311.1" fill="#0000ff"/>
<polygon points="1449.6,302.9 1441.3,316.7 1457.8,316.7" fill="#0000ff"/>
<polygon points="1508.8,321.3 1500.5,335.1 1517,335.1" fill="#0000ff"/>
<polygon points="1567.8,357.3 1559.5,371.1 1576,371.1" fill="#0000ff"/>
<polygon points="1626.5,400.2 1618.2,414 1634.8,414" fill="#0000ff"/>
<polygon points="1685.9,433.8 1677.7,447.6 1694.2,447.6" fill="#0000ff"/>
<polygon points="1744.8,451.6 1736.5,465.4 1753,465.4" fill="#0000ff"/>
<polygon points="1803.9,465.3 1795.7,479.1 1812.2,479.1" fill="#0000ff"/>
<polyline fill="none" stroke="#0000ff" stroke-width="1.2" stroke-linejoin="round" points="1142.2,606 1143.9,572 1145.6,538 1147.3,504 1149,470 1150.7,436 1152.4,402 1153.5,373.3 1213.8,358.9 1272.2,354 1331.1,354 1390.3,354 1449.6,358.9 1508.8,374.1 1567.8,404.4 1626.5,439.4 1685.9,469.5 1744.8,484.6 1803.9,489.9" stroke-dasharray="5 3.5"/>
<polygon points="1142.2,597.8 1150.4,606 1142.2,614.2 1133.9,606" fill="#0000ff"/>
<polygon points="1143.9,563.8 1152.1,572 1143.9,580.2 1135.6,572" fill="#0000ff"/>
<polygon points="1145.6,529.8 1153.8,538 1145.6,546.2 1137.3,538" fill="#0000ff"/>
<polygon points="1147.3,495.8 1155.5,504 1147.3,512.2 1139,504" fill="#0000ff"/>
<polygon points="1149,461.8 1157.2,470 1149,478.2 1140.7,470" fill="#0000ff"/>
<polygon points="1150.7,427.8 1158.9,436 1150.7,444.2 1142.4,436" fill="#0000ff"/>
<polygon points="1152.4,393.8 1160.6,402 1152.4,410.2 1144.1,402" fill="#0000ff"/>
<polygon points="1153.5,365.1 1161.8,373.3 1153.5,381.6 1145.2,373.3" fill="#0000ff"/>
<polygon points="1213.8,350.6 1222,358.9 1213.8,367.1 1205.5,358.9" fill="#0000ff"/>
<polygon points="1272.2,345.8 1280.5,354 1272.2,362.2 1264,354" fill="#0000ff"/>
<polygon points="1331.1,345.8 1339.3,354 1331.1,362.2 1322.8,354" fill="#0000ff"/>
<polygon points="1390.3,345.8 1398.5,354 1390.3,362.2 1382,354" fill="#0000ff"/>
<polygon points="1449.6,350.6 1457.8,358.9 1449.6,367.1 1441.3,358.9" fill="#0000ff"/>
<polygon points="1508.8,365.9 1517,374.1 1508.8,382.4 1500.5,374.1" fill="#0000ff"/>
<polygon points="1567.8,396.1 1576,404.4 1567.8,412.6 1559.5,404.4" fill="#0000ff"/>
<polygon points="1626.5,431.1 1634.8,439.4 1626.5,447.6 1618.2,439.4" fill="#0000ff"/>
<polygon points="1685.9,461.2 1694.2,469.5 1685.9,477.8 1677.7,469.5" fill="#0000ff"/>
<polygon points="1744.8,476.4 1753,484.6 1744.8,492.9 1736.5,484.6" fill="#0000ff"/>
<polygon points="1803.9,481.6 1812.2,489.9 1803.9,498.1 1795.7,489.9" fill="#0000ff"/>
<polyline fill="none" stroke="#7d5a5a" stroke-width="1.2" stroke-linejoin="round" points="1141.5,609.4 1143.4,575.4 1145.3,541.4 1147.2,507.4 1149,473.4 1150.9,439.4 1153.5,392.3 1213.8,392.3 1272.2,391.9 1331.1,395.2 1390.3,399.2 1449.6,400.2 1508.8,401 1567.8,401.8 1626.5,404 1685.9,407.9 1744.8,411.6 1803.9,423.4" stroke-dasharray="5 3.5"/>
<circle cx="1141.5" cy="609.4" r="5.4" fill="#fff" stroke="#0000ff" stroke-width="2.3"/>
<circle cx="1143.4" cy="575.4" r="5.4" fill="#fff" stroke="#0000ff" stroke-width="2.3"/>
<circle cx="1145.3" cy="541.4" r="5.4" fill="#fff" stroke="#0000ff" stroke-width="2.3"/>
<circle cx="1147.2" cy="507.4" r="5.4" fill="#fff" stroke="#0000ff" stroke-width="2.3"/>
<circle cx="1149" cy="473.4" r="5.4" fill="#fff" stroke="#0000ff" stroke-width="2.3"/>
<circle cx="1150.9" cy="439.4" r="5.4" fill="#fff" stroke="#0000ff" stroke-width="2.3"/>
<circle cx="1153.5" cy="392.3" r="5.4" fill="#fff" stroke="#0000ff" stroke-width="2.3"/>
<circle cx="1213.8" cy="392.3" r="5.4" fill="#fff" stroke="#0000ff" stroke-width="2.3"/>
<circle cx="1272.2" cy="391.9" r="5.4" fill="#fff" stroke="#0000ff" stroke-width="2.3"/>
<circle cx="1331.1" cy="395.2" r="5.4" fill="#fff" stroke="#0000ff" stroke-width="2.3"/>
<circle cx="1390.3" cy="399.2" r="5.4" fill="#fff" stroke="#0000ff" stroke-width="2.3"/>
<circle cx="1449.6" cy="400.2" r="5.4" fill="#fff" stroke="#0000ff" stroke-width="2.3"/>
<circle cx="1508.8" cy="401" r="5.4" fill="#fff" stroke="#0000ff" stroke-width="2.3"/>
<circle cx="1567.8" cy="401.8" r="5.4" fill="#fff" stroke="#0000ff" stroke-width="2.3"/>
<circle cx="1626.5" cy="404" r="5.4" fill="#fff" stroke="#0000ff" stroke-width="2.3"/>
<circle cx="1685.9" cy="407.9" r="5.4" fill="#fff" stroke="#0000ff" stroke-width="2.3"/>
<circle cx="1744.8" cy="411.6" r="5.4" fill="#fff" stroke="#0000ff" stroke-width="2.3"/>
<circle cx="1803.9" cy="423.4" r="5.4" fill="#fff" stroke="#0000ff" stroke-width="2.3"/>
<path d="M1147.5 559.4V661.4M1142 559.4H1153M1142 661.4H1153" stroke="#ff0000" stroke-width="1.3" fill="none"/>
<path d="M1150.7 517.4V619.4M1145.2 517.4H1156.2M1145.2 619.4H1156.2" stroke="#ff0000" stroke-width="1.3" fill="none"/>
<path d="M1154 475.4V577.4M1148.5 475.4H1159.5M1148.5 577.4H1159.5" stroke="#ff0000" stroke-width="1.3" fill="none"/>
<path d="M1155.2 433.4V535.4M1149.7 433.4H1160.7M1149.7 535.4H1160.7" stroke="#ff0000" stroke-width="1.3" fill="none"/>
<path d="M1156.1 391.4V493.4M1150.6 391.4H1161.6M1150.6 493.4H1161.6" stroke="#ff0000" stroke-width="1.3" fill="none"/>
<path d="M1157 349.4V451.4M1151.5 349.4H1162.5M1151.5 451.4H1162.5" stroke="#ff0000" stroke-width="1.3" fill="none"/>
<path d="M1157.6 307.4V409.4M1152.1 307.4H1163.1M1152.1 409.4H1163.1" stroke="#ff0000" stroke-width="1.3" fill="none"/>
<path d="M1158.1 265.4V367.4M1152.6 265.4H1163.6M1152.6 367.4H1163.6" stroke="#ff0000" stroke-width="1.3" fill="none"/>
<path d="M1158.9 208V310M1153.4 208H1164.4M1153.4 310H1164.4" stroke="#ff0000" stroke-width="1.3" fill="none"/>
<path d="M1210.2 146.7V248.7M1204.7 146.7H1215.7M1204.7 248.7H1215.7" stroke="#ff0000" stroke-width="1.3" fill="none"/>
<path d="M1261.3 115.8V217.8M1255.8 115.8H1266.8M1255.8 217.8H1266.8" stroke="#ff0000" stroke-width="1.3" fill="none"/>
<path d="M1313.1 115.8V217.8M1307.6 115.8H1318.6M1307.6 217.8H1318.6" stroke="#ff0000" stroke-width="1.3" fill="none"/>
<path d="M1364.4 139.8V241.8M1358.9 139.8H1369.9M1358.9 241.8H1369.9" stroke="#ff0000" stroke-width="1.3" fill="none"/>
<path d="M1415.9 153.7V255.7M1410.4 153.7H1421.4M1410.4 255.7H1421.4" stroke="#ff0000" stroke-width="1.3" fill="none"/>
<path d="M1467.1 169.7V271.7M1461.6 169.7H1472.6M1461.6 271.7H1472.6" stroke="#ff0000" stroke-width="1.3" fill="none"/>
<path d="M1518.9 188.4V290.4M1513.4 188.4H1524.4M1513.4 290.4H1524.4" stroke="#ff0000" stroke-width="1.3" fill="none"/>
<path d="M1570.4 217.4V319.4M1564.9 217.4H1575.9M1564.9 319.4H1575.9" stroke="#ff0000" stroke-width="1.3" fill="none"/>
<path d="M1622 233.1V335.1M1616.5 233.1H1627.5M1616.5 335.1H1627.5" stroke="#ff0000" stroke-width="1.3" fill="none"/>
<path d="M1149.8 562.9V636.9M1144.3 562.9H1155.3M1144.3 636.9H1155.3" stroke="#ff0000" stroke-width="1.3" fill="none"/>
<path d="M1153.1 520.9V594.9M1147.6 520.9H1158.6M1147.6 594.9H1158.6" stroke="#ff0000" stroke-width="1.3" fill="none"/>
<path d="M1156.1 478.9V552.9M1150.6 478.9H1161.6M1150.6 552.9H1161.6" stroke="#ff0000" stroke-width="1.3" fill="none"/>
<path d="M1157 436.9V510.9M1151.5 436.9H1162.5M1151.5 510.9H1162.5" stroke="#ff0000" stroke-width="1.3" fill="none"/>
<path d="M1157.8 394.9V468.9M1152.3 394.9H1163.3M1152.3 468.9H1163.3" stroke="#ff0000" stroke-width="1.3" fill="none"/>
<path d="M1158.9 352.9V426.9M1153.4 352.9H1164.4M1153.4 426.9H1164.4" stroke="#ff0000" stroke-width="1.3" fill="none"/>
<path d="M1158.9 320.3V394.3M1153.4 320.3H1164.4M1153.4 394.3H1164.4" stroke="#ff0000" stroke-width="1.3" fill="none"/>
<path d="M1210.2 270.5V344.5M1204.7 270.5H1215.7M1204.7 344.5H1215.7" stroke="#ff0000" stroke-width="1.3" fill="none"/>
<path d="M1261.3 216.6V290.6M1255.8 216.6H1266.8M1255.8 290.6H1266.8" stroke="#ff0000" stroke-width="1.3" fill="none"/>
<path d="M1313.1 177.7V251.7M1307.6 177.7H1318.6M1307.6 251.7H1318.6" stroke="#ff0000" stroke-width="1.3" fill="none"/>
<path d="M1364.4 157.8V231.8M1358.9 157.8H1369.9M1358.9 231.8H1369.9" stroke="#ff0000" stroke-width="1.3" fill="none"/>
<path d="M1415.9 182.7V256.7M1410.4 182.7H1421.4M1410.4 256.7H1421.4" stroke="#ff0000" stroke-width="1.3" fill="none"/>
<path d="M1467.1 220.6V294.6M1461.6 220.6H1472.6M1461.6 294.6H1472.6" stroke="#ff0000" stroke-width="1.3" fill="none"/>
<path d="M1518.9 262.7V336.7M1513.4 262.7H1524.4M1513.4 336.7H1524.4" stroke="#ff0000" stroke-width="1.3" fill="none"/>
<path d="M1570.4 298.6V372.6M1564.9 298.6H1575.9M1564.9 372.6H1575.9" stroke="#ff0000" stroke-width="1.3" fill="none"/>
<path d="M1622 348.5V422.5M1616.5 348.5H1627.5M1616.5 422.5H1627.5" stroke="#ff0000" stroke-width="1.3" fill="none"/>
<path d="M1150.1 555.8V623M1144.6 555.8H1155.6M1144.6 623H1155.6" stroke="#ff0000" stroke-width="1.3" fill="none"/>
<path d="M1153.4 513.8V581M1147.9 513.8H1158.9M1147.9 581H1158.9" stroke="#ff0000" stroke-width="1.3" fill="none"/>
<path d="M1155.8 471.8V539M1150.3 471.8H1161.3M1150.3 539H1161.3" stroke="#ff0000" stroke-width="1.3" fill="none"/>
<path d="M1156.7 429.8V497M1151.2 429.8H1162.2M1151.2 497H1162.2" stroke="#ff0000" stroke-width="1.3" fill="none"/>
<path d="M1157.6 387.8V455M1152.1 387.8H1163.1M1152.1 455H1163.1" stroke="#ff0000" stroke-width="1.3" fill="none"/>
<path d="M1158.5 345.8V413M1153 345.8H1164M1153 413H1164" stroke="#ff0000" stroke-width="1.3" fill="none"/>
<path d="M1158.9 289.8V357M1153.4 289.8H1164.4M1153.4 357H1164.4" stroke="#ff0000" stroke-width="1.3" fill="none"/>
<path d="M1210.2 230V297.2M1204.7 230H1215.7M1204.7 297.2H1215.7" stroke="#ff0000" stroke-width="1.3" fill="none"/>
<path d="M1261.3 199.7V266.9M1255.8 199.7H1266.8M1255.8 266.9H1266.8" stroke="#ff0000" stroke-width="1.3" fill="none"/>
<path d="M1313.1 184.1V251.3M1307.6 184.1H1318.6M1307.6 251.3H1318.6" stroke="#ff0000" stroke-width="1.3" fill="none"/>
<path d="M1364.4 184.7V251.9M1358.9 184.7H1369.9M1358.9 251.9H1369.9" stroke="#ff0000" stroke-width="1.3" fill="none"/>
<path d="M1415.9 199.7V266.9M1410.4 199.7H1421.4M1410.4 266.9H1421.4" stroke="#ff0000" stroke-width="1.3" fill="none"/>
<path d="M1467.1 229V296.2M1461.6 229H1472.6M1461.6 296.2H1472.6" stroke="#ff0000" stroke-width="1.3" fill="none"/>
<path d="M1518.9 274.1V341.3M1513.4 274.1H1524.4M1513.4 341.3H1524.4" stroke="#ff0000" stroke-width="1.3" fill="none"/>
<path d="M1570.4 306V373.2M1564.9 306H1575.9M1564.9 373.2H1575.9" stroke="#ff0000" stroke-width="1.3" fill="none"/>
<path d="M1622 355.9V423.1M1616.5 355.9H1627.5M1616.5 423.1H1627.5" stroke="#ff0000" stroke-width="1.3" fill="none"/>
<path d="M1146 592.1V616.1M1140.5 592.1H1151.5M1140.5 616.1H1151.5" stroke="#ff0000" stroke-width="1.3" fill="none"/>
<path d="M1149.2 550.1V574.1M1143.7 550.1H1154.7M1143.7 574.1H1154.7" stroke="#ff0000" stroke-width="1.3" fill="none"/>
<path d="M1152.5 508.1V532.1M1147 508.1H1158M1147 532.1H1158" stroke="#ff0000" stroke-width="1.3" fill="none"/>
<path d="M1153.4 466.1V490.1M1147.9 466.1H1158.9M1147.9 490.1H1158.9" stroke="#ff0000" stroke-width="1.3" fill="none"/>
<path d="M1154.2 424.1V448.1M1148.7 424.1H1159.7M1148.7 448.1H1159.7" stroke="#ff0000" stroke-width="1.3" fill="none"/>
<path d="M1155.1 382.1V406.1M1149.6 382.1H1160.6M1149.6 406.1H1160.6" stroke="#ff0000" stroke-width="1.3" fill="none"/>
<path d="M1155.7 340.1V364.1M1150.2 340.1H1161.2M1150.2 364.1H1161.2" stroke="#ff0000" stroke-width="1.3" fill="none"/>
<path d="M1156.4 298.1V322.1M1150.9 298.1H1161.9M1150.9 322.1H1161.9" stroke="#ff0000" stroke-width="1.3" fill="none"/>
<path d="M1158.9 265.5V289.5M1153.4 265.5H1164.4M1153.4 289.5H1164.4" stroke="#ff0000" stroke-width="1.3" fill="none"/>
<path d="M1210.2 265.5V289.5M1204.7 265.5H1215.7M1204.7 289.5H1215.7" stroke="#ff0000" stroke-width="1.3" fill="none"/>
<path d="M1261.3 266.1V290.1M1255.8 266.1H1266.8M1255.8 290.1H1266.8" stroke="#ff0000" stroke-width="1.3" fill="none"/>
<path d="M1313.1 279.1V303.1M1307.6 279.1H1318.6M1307.6 303.1H1318.6" stroke="#ff0000" stroke-width="1.3" fill="none"/>
<path d="M1364.4 290.5V314.5M1358.9 290.5H1369.9M1358.9 314.5H1369.9" stroke="#ff0000" stroke-width="1.3" fill="none"/>
<path d="M1415.9 302.1V326.1M1410.4 302.1H1421.4M1410.4 326.1H1421.4" stroke="#ff0000" stroke-width="1.3" fill="none"/>
<path d="M1467.1 312V336M1461.6 312H1472.6M1461.6 336H1472.6" stroke="#ff0000" stroke-width="1.3" fill="none"/>
<path d="M1518.9 327V351M1513.4 327H1524.4M1513.4 351H1524.4" stroke="#ff0000" stroke-width="1.3" fill="none"/>
<path d="M1570.4 349.1V373.1M1564.9 349.1H1575.9M1564.9 373.1H1575.9" stroke="#ff0000" stroke-width="1.3" fill="none"/>
<path d="M1622 384.4V408.4M1616.5 384.4H1627.5M1616.5 408.4H1627.5" stroke="#ff0000" stroke-width="1.3" fill="none"/>
<path d="M1141.2 563.8V665.2M1135.7 563.8H1146.7M1135.7 665.2H1146.7" stroke="#0000ff" stroke-width="1.3" fill="none"/>
<path d="M1142.9 529.8V631.2M1137.4 529.8H1148.4M1137.4 631.2H1148.4" stroke="#0000ff" stroke-width="1.3" fill="none"/>
<path d="M1144.6 495.8V597.2M1139.1 495.8H1150.1M1139.1 597.2H1150.1" stroke="#0000ff" stroke-width="1.3" fill="none"/>
<path d="M1146.3 461.8V563.2M1140.8 461.8H1151.8M1140.8 563.2H1151.8" stroke="#0000ff" stroke-width="1.3" fill="none"/>
<path d="M1148.1 427.8V529.2M1142.6 427.8H1153.6M1142.6 529.2H1153.6" stroke="#0000ff" stroke-width="1.3" fill="none"/>
<path d="M1149.8 393.8V495.2M1144.3 393.8H1155.3M1144.3 495.2H1155.3" stroke="#0000ff" stroke-width="1.3" fill="none"/>
<path d="M1151.5 359.8V461.2M1146 359.8H1157M1146 461.2H1157" stroke="#0000ff" stroke-width="1.3" fill="none"/>
<path d="M1152.3 325.8V427.2M1146.8 325.8H1157.8M1146.8 427.2H1157.8" stroke="#0000ff" stroke-width="1.3" fill="none"/>
<path d="M1152.8 291.8V393.2M1147.3 291.8H1158.3M1147.3 393.2H1158.3" stroke="#0000ff" stroke-width="1.3" fill="none"/>
<path d="M1153.2 257.8V359.2M1147.7 257.8H1158.7M1147.7 359.2H1158.7" stroke="#0000ff" stroke-width="1.3" fill="none"/>
<path d="M1153.5 237.8V339.2M1148 237.8H1159M1148 339.2H1159" stroke="#0000ff" stroke-width="1.3" fill="none"/>
<path d="M1213.8 192.5V293.9M1208.3 192.5H1219.3M1208.3 293.9H1219.3" stroke="#0000ff" stroke-width="1.3" fill="none"/>
<path d="M1272.2 169.6V271M1266.7 169.6H1277.7M1266.7 271H1277.7" stroke="#0000ff" stroke-width="1.3" fill="none"/>
<path d="M1331.1 162V263.4M1325.6 162H1336.6M1325.6 263.4H1336.6" stroke="#0000ff" stroke-width="1.3" fill="none"/>
<path d="M1390.3 162V263.4M1384.8 162H1395.8M1384.8 263.4H1395.8" stroke="#0000ff" stroke-width="1.3" fill="none"/>
<path d="M1449.6 169.6V271M1444.1 169.6H1455.1M1444.1 271H1455.1" stroke="#0000ff" stroke-width="1.3" fill="none"/>
<path d="M1508.8 192.6V294M1503.3 192.6H1514.3M1503.3 294H1514.3" stroke="#0000ff" stroke-width="1.3" fill="none"/>
<path d="M1567.8 238.6V340M1562.3 238.6H1573.3M1562.3 340H1573.3" stroke="#0000ff" stroke-width="1.3" fill="none"/>
<path d="M1626.5 291.9V393.3M1621 291.9H1632M1621 393.3H1632" stroke="#0000ff" stroke-width="1.3" fill="none"/>
<path d="M1685.9 338.3V439.7M1680.4 338.3H1691.4M1680.4 439.7H1691.4" stroke="#0000ff" stroke-width="1.3" fill="none"/>
<path d="M1744.8 369.3V470.7M1739.3 369.3H1750.3M1739.3 470.7H1750.3" stroke="#0000ff" stroke-width="1.3" fill="none"/>
<path d="M1803.9 403.2V504.6M1798.4 403.2H1809.4M1798.4 504.6H1809.4" stroke="#0000ff" stroke-width="1.3" fill="none"/>
<path d="M1141.5 560.2V638.2M1136 560.2H1147M1136 638.2H1147" stroke="#0000ff" stroke-width="1.3" fill="none"/>
<path d="M1143.2 526.2V604.2M1137.7 526.2H1148.7M1137.7 604.2H1148.7" stroke="#0000ff" stroke-width="1.3" fill="none"/>
<path d="M1144.9 492.2V570.2M1139.4 492.2H1150.4M1139.4 570.2H1150.4" stroke="#0000ff" stroke-width="1.3" fill="none"/>
<path d="M1146.6 458.2V536.2M1141.1 458.2H1152.1M1141.1 536.2H1152.1" stroke="#0000ff" stroke-width="1.3" fill="none"/>
<path d="M1148.3 424.2V502.2M1142.8 424.2H1153.8M1142.8 502.2H1153.8" stroke="#0000ff" stroke-width="1.3" fill="none"/>
<path d="M1150 390.2V468.2M1144.5 390.2H1155.5M1144.5 468.2H1155.5" stroke="#0000ff" stroke-width="1.3" fill="none"/>
<path d="M1151.6 356.2V434.2M1146.1 356.2H1157.1M1146.1 434.2H1157.1" stroke="#0000ff" stroke-width="1.3" fill="none"/>
<path d="M1152.3 322.2V400.2M1146.8 322.2H1157.8M1146.8 400.2H1157.8" stroke="#0000ff" stroke-width="1.3" fill="none"/>
<path d="M1153.5 290.4V368.4M1148 290.4H1159M1148 368.4H1159" stroke="#0000ff" stroke-width="1.3" fill="none"/>
<path d="M1213.8 273.1V351.1M1208.3 273.1H1219.3M1208.3 351.1H1219.3" stroke="#0000ff" stroke-width="1.3" fill="none"/>
<path d="M1272.2 267.5V345.5M1266.7 267.5H1277.7M1266.7 345.5H1277.7" stroke="#0000ff" stroke-width="1.3" fill="none"/>
<path d="M1331.1 267.5V345.5M1325.6 267.5H1336.6M1325.6 345.5H1336.6" stroke="#0000ff" stroke-width="1.3" fill="none"/>
<path d="M1390.3 267.5V345.5M1384.8 267.5H1395.8M1384.8 345.5H1395.8" stroke="#0000ff" stroke-width="1.3" fill="none"/>
<path d="M1449.6 273.1V351.1M1444.1 273.1H1455.1M1444.1 351.1H1455.1" stroke="#0000ff" stroke-width="1.3" fill="none"/>
<path d="M1508.8 291.5V369.5M1503.3 291.5H1514.3M1503.3 369.5H1514.3" stroke="#0000ff" stroke-width="1.3" fill="none"/>
<path d="M1567.8 327.5V405.5M1562.3 327.5H1573.3M1562.3 405.5H1573.3" stroke="#0000ff" stroke-width="1.3" fill="none"/>
<path d="M1626.5 370.4V448.4M1621 370.4H1632M1621 448.4H1632" stroke="#0000ff" stroke-width="1.3" fill="none"/>
<path d="M1685.9 404V482M1680.4 404H1691.4M1680.4 482H1691.4" stroke="#0000ff" stroke-width="1.3" fill="none"/>
<path d="M1744.8 421.8V499.8M1739.3 421.8H1750.3M1739.3 499.8H1750.3" stroke="#0000ff" stroke-width="1.3" fill="none"/>
<path d="M1803.9 435.5V513.5M1798.4 435.5H1809.4M1798.4 513.5H1809.4" stroke="#0000ff" stroke-width="1.3" fill="none"/>
<path d="M1142.2 572V640M1136.7 572H1147.7M1136.7 640H1147.7" stroke="#0000ff" stroke-width="1.3" fill="none"/>
<path d="M1143.9 538V606M1138.4 538H1149.4M1138.4 606H1149.4" stroke="#0000ff" stroke-width="1.3" fill="none"/>
<path d="M1145.6 504V572M1140.1 504H1151.1M1140.1 572H1151.1" stroke="#0000ff" stroke-width="1.3" fill="none"/>
<path d="M1147.3 470V538M1141.8 470H1152.8M1141.8 538H1152.8" stroke="#0000ff" stroke-width="1.3" fill="none"/>
<path d="M1149 436V504M1143.5 436H1154.5M1143.5 504H1154.5" stroke="#0000ff" stroke-width="1.3" fill="none"/>
<path d="M1150.7 402V470M1145.2 402H1156.2M1145.2 470H1156.2" stroke="#0000ff" stroke-width="1.3" fill="none"/>
<path d="M1152.4 368V436M1146.9 368H1157.9M1146.9 436H1157.9" stroke="#0000ff" stroke-width="1.3" fill="none"/>
<path d="M1153.5 339.3V407.3M1148 339.3H1159M1148 407.3H1159" stroke="#0000ff" stroke-width="1.3" fill="none"/>
<path d="M1213.8 324.9V392.9M1208.3 324.9H1219.3M1208.3 392.9H1219.3" stroke="#0000ff" stroke-width="1.3" fill="none"/>
<path d="M1272.2 320V388M1266.7 320H1277.7M1266.7 388H1277.7" stroke="#0000ff" stroke-width="1.3" fill="none"/>
<path d="M1331.1 320V388M1325.6 320H1336.6M1325.6 388H1336.6" stroke="#0000ff" stroke-width="1.3" fill="none"/>
<path d="M1390.3 320V388M1384.8 320H1395.8M1384.8 388H1395.8" stroke="#0000ff" stroke-width="1.3" fill="none"/>
<path d="M1449.6 324.9V392.9M1444.1 324.9H1455.1M1444.1 392.9H1455.1" stroke="#0000ff" stroke-width="1.3" fill="none"/>
<path d="M1508.8 340.1V408.1M1503.3 340.1H1514.3M1503.3 408.1H1514.3" stroke="#0000ff" stroke-width="1.3" fill="none"/>
<path d="M1567.8 370.4V438.4M1562.3 370.4H1573.3M1562.3 438.4H1573.3" stroke="#0000ff" stroke-width="1.3" fill="none"/>
<path d="M1626.5 405.4V473.4M1621 405.4H1632M1621 473.4H1632" stroke="#0000ff" stroke-width="1.3" fill="none"/>
<path d="M1685.9 435.5V503.5M1680.4 435.5H1691.4M1680.4 503.5H1691.4" stroke="#0000ff" stroke-width="1.3" fill="none"/>
<path d="M1744.8 450.6V518.6M1739.3 450.6H1750.3M1739.3 518.6H1750.3" stroke="#0000ff" stroke-width="1.3" fill="none"/>
<path d="M1803.9 455.9V523.9M1798.4 455.9H1809.4M1798.4 523.9H1809.4" stroke="#0000ff" stroke-width="1.3" fill="none"/>
<path d="M1141.5 597.7V621.1M1136 597.7H1147M1136 621.1H1147" stroke="#0000ff" stroke-width="1.3" fill="none"/>
<path d="M1143.4 563.7V587.1M1137.9 563.7H1148.9M1137.9 587.1H1148.9" stroke="#0000ff" stroke-width="1.3" fill="none"/>
<path d="M1145.3 529.7V553.1M1139.8 529.7H1150.8M1139.8 553.1H1150.8" stroke="#0000ff" stroke-width="1.3" fill="none"/>
<path d="M1147.2 495.7V519.1M1141.7 495.7H1152.7M1141.7 519.1H1152.7" stroke="#0000ff" stroke-width="1.3" fill="none"/>
<path d="M1149 461.7V485.1M1143.5 461.7H1154.5M1143.5 485.1H1154.5" stroke="#0000ff" stroke-width="1.3" fill="none"/>
<path d="M1150.9 427.7V451.1M1145.4 427.7H1156.4M1145.4 451.1H1156.4" stroke="#0000ff" stroke-width="1.3" fill="none"/>
<path d="M1153.5 380.6V404M1148 380.6H1159M1148 404H1159" stroke="#0000ff" stroke-width="1.3" fill="none"/>
<path d="M1213.8 380.6V404M1208.3 380.6H1219.3M1208.3 404H1219.3" stroke="#0000ff" stroke-width="1.3" fill="none"/>
<path d="M1272.2 380.2V403.6M1266.7 380.2H1277.7M1266.7 403.6H1277.7" stroke="#0000ff" stroke-width="1.3" fill="none"/>
<path d="M1331.1 383.5V406.9M1325.6 383.5H1336.6M1325.6 406.9H1336.6" stroke="#0000ff" stroke-width="1.3" fill="none"/>
<path d="M1390.3 387.5V410.9M1384.8 387.5H1395.8M1384.8 410.9H1395.8" stroke="#0000ff" stroke-width="1.3" fill="none"/>
<path d="M1449.6 388.5V411.9M1444.1 388.5H1455.1M1444.1 411.9H1455.1" stroke="#0000ff" stroke-width="1.3" fill="none"/>
<path d="M1508.8 389.3V412.7M1503.3 389.3H1514.3M1503.3 412.7H1514.3" stroke="#0000ff" stroke-width="1.3" fill="none"/>
<path d="M1567.8 390.1V413.5M1562.3 390.1H1573.3M1562.3 413.5H1573.3" stroke="#0000ff" stroke-width="1.3" fill="none"/>
<path d="M1626.5 392.3V415.7M1621 392.3H1632M1621 415.7H1632" stroke="#0000ff" stroke-width="1.3" fill="none"/>
<path d="M1685.9 396.2V419.6M1680.4 396.2H1691.4M1680.4 419.6H1691.4" stroke="#0000ff" stroke-width="1.3" fill="none"/>
<path d="M1744.8 399.9V423.3M1739.3 399.9H1750.3M1739.3 423.3H1750.3" stroke="#0000ff" stroke-width="1.3" fill="none"/>
<path d="M1803.9 411.7V435.1M1798.4 411.7H1809.4M1798.4 435.1H1809.4" stroke="#0000ff" stroke-width="1.3" fill="none"/>
</g>
<rect x="1518.6" y="1.2" width="434.8" height="186.2" fill="#fff" stroke="#222" stroke-width="1.3"/>
<text x="1522.6" y="29.1" font-size="26.3" font-weight="bold">ECN</text>
<text x="1746.2" y="29.1" font-size="26.3" font-weight="bold">NP</text>
<line x1="1522.1" y1="53.1" x2="1581.9" y2="53.1" stroke="#ff0000" stroke-width="1.4"/>
<rect x="1545.9" y="47.1" width="12" height="12" fill="#ff0000"/>
<text x="1589.6" y="61.8" font-size="26.3">Al<tspan font-size="17.6" dy="6.6">11</tspan><tspan dy="-6.6">La</tspan><tspan font-size="17.6" dy="6.6">3</tspan><tspan dy="-6.6"> (101)</tspan></text>
<line x1="1739.7" y1="53.1" x2="1799.8" y2="53.1" stroke="#0000ff" stroke-width="1.4" stroke-dasharray="4.3 2.9"/>
<rect x="1764" y="47.1" width="12" height="12" fill="#0000ff"/>
<text x="1807.9" y="61.8" font-size="26.3">Al<tspan font-size="17.6" dy="6.6">11</tspan><tspan dy="-6.6">La</tspan><tspan font-size="17.6" dy="6.6">3</tspan><tspan dy="-6.6"> (101)</tspan></text>
<line x1="1522.1" y1="91.9" x2="1581.9" y2="91.9" stroke="#ff0000" stroke-width="1.4"/>
<polygon points="1551.9,82.9 1543.9,96.4 1559.9,96.4" fill="#ff0000"/>
<text x="1589.6" y="100.6" font-size="26.3">Al<tspan font-size="17.6" dy="6.6">11</tspan><tspan dy="-6.6">La</tspan><tspan font-size="17.6" dy="6.6">3</tspan><tspan dy="-6.6"> (130)</tspan></text>
<line x1="1739.7" y1="91.9" x2="1799.8" y2="91.9" stroke="#0000ff" stroke-width="1.4" stroke-dasharray="4.3 2.9"/>
<polygon points="1770,82.9 1762,96.4 1778,96.4" fill="#0000ff"/>
<text x="1807.9" y="100.6" font-size="26.3">Al<tspan font-size="17.6" dy="6.6">11</tspan><tspan dy="-6.6">La</tspan><tspan font-size="17.6" dy="6.6">3</tspan><tspan dy="-6.6"> (130)</tspan></text>
<line x1="1522.1" y1="130.8" x2="1581.9" y2="130.8" stroke="#ff0000" stroke-width="1.4"/>
<polygon points="1551.9,122.6 1560.2,130.8 1551.9,139.1 1543.7,130.8" fill="#ff0000"/>
<text x="1589.6" y="139.5" font-size="26.3">Al<tspan font-size="17.6" dy="6.6">11</tspan><tspan dy="-6.6">La</tspan><tspan font-size="17.6" dy="6.6">3</tspan><tspan dy="-6.6"> (132)</tspan></text>
<line x1="1739.7" y1="130.8" x2="1799.8" y2="130.8" stroke="#0000ff" stroke-width="1.4" stroke-dasharray="4.3 2.9"/>
<polygon points="1770,122.6 1778.2,130.8 1770,139.1 1761.8,130.8" fill="#0000ff"/>
<text x="1807.9" y="139.5" font-size="26.3">Al<tspan font-size="17.6" dy="6.6">11</tspan><tspan dy="-6.6">La</tspan><tspan font-size="17.6" dy="6.6">3</tspan><tspan dy="-6.6"> (132)</tspan></text>
<line x1="1522.1" y1="169.2" x2="1581.9" y2="169.2" stroke="#ff0000" stroke-width="1.4"/>
<circle cx="1551.9" cy="169.2" r="5.5" fill="#fff" stroke="#ff0000" stroke-width="2"/>
<text x="1589.6" y="177.9" font-size="26.3">Al</text>
<line x1="1749.5" y1="169.2" x2="1809.5" y2="169.2" stroke="#7d5a5a" stroke-width="1.4" stroke-dasharray="4.3 2.9"/>
<circle cx="1779.3" cy="169.2" r="5.5" fill="#fff" stroke="#0000ff" stroke-width="2"/>
<text x="1818.2" y="177.9" font-size="26.3">Al</text>
</g>
<g id="pc">
<rect x="146.6" y="848.6" width="686" height="553.5" fill="none" stroke="#000" stroke-width="2.8"/>
<text x="146.6" y="1436.3" font-size="29.3" text-anchor="middle">0.00</text>
<line x1="195.6" y1="1402.1" x2="195.6" y2="1396.1" stroke="#000" stroke-width="2.7"/>
<line x1="244.6" y1="1402.1" x2="244.6" y2="1391.1" stroke="#000" stroke-width="2.7"/>
<text x="244.6" y="1436.3" font-size="29.3" text-anchor="middle">0.02</text>
<line x1="293.6" y1="1402.1" x2="293.6" y2="1396.1" stroke="#000" stroke-width="2.7"/>
<line x1="342.6" y1="1402.1" x2="342.6" y2="1391.1" stroke="#000" stroke-width="2.7"/>
<text x="342.6" y="1436.3" font-size="29.3" text-anchor="middle">0.04</text>
<line x1="391.6" y1="1402.1" x2="391.6" y2="1396.1" stroke="#000" stroke-width="2.7"/>
<line x1="440.6" y1="1402.1" x2="440.6" y2="1391.1" stroke="#000" stroke-width="2.7"/>
<text x="440.6" y="1436.3" font-size="29.3" text-anchor="middle">0.06</text>
<line x1="489.6" y1="1402.1" x2="489.6" y2="1396.1" stroke="#000" stroke-width="2.7"/>
<line x1="538.6" y1="1402.1" x2="538.6" y2="1391.1" stroke="#000" stroke-width="2.7"/>
<text x="538.6" y="1436.3" font-size="29.3" text-anchor="middle">0.08</text>
<line x1="587.6" y1="1402.1" x2="587.6" y2="1396.1" stroke="#000" stroke-width="2.7"/>
<line x1="636.6" y1="1402.1" x2="636.6" y2="1391.1" stroke="#000" stroke-width="2.7"/>
<text x="636.6" y="1436.3" font-size="29.3" text-anchor="middle">0.10</text>
<line x1="685.6" y1="1402.1" x2="685.6" y2="1396.1" stroke="#000" stroke-width="2.7"/>
<line x1="734.6" y1="1402.1" x2="734.6" y2="1391.1" stroke="#000" stroke-width="2.7"/>
<text x="734.6" y="1436.3" font-size="29.3" text-anchor="middle">0.12</text>
<line x1="783.6" y1="1402.1" x2="783.6" y2="1396.1" stroke="#000" stroke-width="2.7"/>
<text x="832.6" y="1436.3" font-size="29.3" text-anchor="middle">0.14</text>
<line x1="135.6" y1="1402.1" x2="146.6" y2="1402.1" stroke="#000" stroke-width="2.7"/>
<text x="128.3" y="1410.7" font-size="29.3" text-anchor="end">0</text>
<line x1="140.6" y1="1362.6" x2="146.6" y2="1362.6" stroke="#000" stroke-width="2.7"/>
<line x1="135.6" y1="1323" x2="146.6" y2="1323" stroke="#000" stroke-width="2.7"/>
<text x="128.3" y="1331.6" font-size="29.3" text-anchor="end">200</text>
<line x1="140.6" y1="1283.5" x2="146.6" y2="1283.5" stroke="#000" stroke-width="2.7"/>
<line x1="135.6" y1="1244" x2="146.6" y2="1244" stroke="#000" stroke-width="2.7"/>
<text x="128.3" y="1252.6" font-size="29.3" text-anchor="end">400</text>
<line x1="140.6" y1="1204.4" x2="146.6" y2="1204.4" stroke="#000" stroke-width="2.7"/>
<line x1="135.6" y1="1164.9" x2="146.6" y2="1164.9" stroke="#000" stroke-width="2.7"/>
<text x="128.3" y="1173.5" font-size="29.3" text-anchor="end">600</text>
<line x1="140.6" y1="1125.3" x2="146.6" y2="1125.3" stroke="#000" stroke-width="2.7"/>
<line x1="135.6" y1="1085.8" x2="146.6" y2="1085.8" stroke="#000" stroke-width="2.7"/>
<text x="128.3" y="1094.4" font-size="29.3" text-anchor="end">800</text>
<line x1="140.6" y1="1046.3" x2="146.6" y2="1046.3" stroke="#000" stroke-width="2.7"/>
<line x1="135.6" y1="1006.7" x2="146.6" y2="1006.7" stroke="#000" stroke-width="2.7"/>
<text x="128.3" y="1015.3" font-size="29.3" text-anchor="end">1000</text>
<line x1="140.6" y1="967.2" x2="146.6" y2="967.2" stroke="#000" stroke-width="2.7"/>
<line x1="135.6" y1="927.7" x2="146.6" y2="927.7" stroke="#000" stroke-width="2.7"/>
<text x="128.3" y="936.3" font-size="29.3" text-anchor="end">1200</text>
<line x1="140.6" y1="888.1" x2="146.6" y2="888.1" stroke="#000" stroke-width="2.7"/>
<line x1="135.6" y1="848.6" x2="146.6" y2="848.6" stroke="#000" stroke-width="2.7"/>
<text x="128.3" y="857.2" font-size="29.3" text-anchor="end">1400</text>
<text x="489.6" y="1494.6" font-size="41.6" text-anchor="middle">Engineering strain</text>
<text x="48.5" y="1131.3" font-size="42.3" text-anchor="middle" transform="rotate(-90 48.5 1131.3)">Engineering/Phase stress (MPa)</text>
<text x="183.8" y="883.9" font-size="34" font-weight="bold">RT</text>
<text x="4.2" y="822.8" font-size="83" font-weight="bold">c</text>
<clipPath id="cc"><rect x="147.3" y="847.2" width="686.7" height="555.9"/></clipPath>
<g clip-path="url(#cc)">
<polyline fill="none" stroke="#ff0000" stroke-width="4.1" stroke-linejoin="round" points="146.6,1402.1 171.5,1262 174.3,1237.7 211.4,1231.7 247.9,1227.4 285,1223.8 321.5,1221.4 358.2,1220.2 395.1,1219.8 431.9,1220.8 468.6,1223.4 505.3,1228.9"/>
<polyline fill="none" stroke="#ee3c3e" stroke-width="1.1" stroke-linejoin="round" points="150.6,1394.8 153.2,1381.8 155.9,1368.8 158.6,1355.8 161.3,1342.8 163.9,1329.8 166.6,1316.8 169.3,1303.8 171.9,1290.8 174.6,1277.8 174.5,1268.6 211.4,1264.1 247.9,1262.3 285,1260.1 321.5,1259.7 358.2,1258.7 395.1,1259.3 431.9,1259.7 468.6,1260.1 505.1,1262.7"/>
<rect x="144" y="1388.2" width="13.1" height="13.1" fill="#fff" stroke="#ee3c3e" stroke-width="2.5"/>
<rect x="146.7" y="1375.2" width="13.1" height="13.1" fill="#fff" stroke="#ee3c3e" stroke-width="2.5"/>
<rect x="149.4" y="1362.2" width="13.1" height="13.1" fill="#fff" stroke="#ee3c3e" stroke-width="2.5"/>
<rect x="152" y="1349.2" width="13.1" height="13.1" fill="#fff" stroke="#ee3c3e" stroke-width="2.5"/>
<rect x="154.7" y="1336.2" width="13.1" height="13.1" fill="#fff" stroke="#ee3c3e" stroke-width="2.5"/>
<rect x="157.4" y="1323.2" width="13.1" height="13.1" fill="#fff" stroke="#ee3c3e" stroke-width="2.5"/>
<rect x="160" y="1310.2" width="13.1" height="13.1" fill="#fff" stroke="#ee3c3e" stroke-width="2.5"/>
<rect x="162.7" y="1297.2" width="13.1" height="13.1" fill="#fff" stroke="#ee3c3e" stroke-width="2.5"/>
<rect x="165.4" y="1284.2" width="13.1" height="13.1" fill="#fff" stroke="#ee3c3e" stroke-width="2.5"/>
<rect x="168.1" y="1271.2" width="13.1" height="13.1" fill="#fff" stroke="#ee3c3e" stroke-width="2.5"/>
<rect x="167.9" y="1262" width="13.1" height="13.1" fill="#fff" stroke="#ee3c3e" stroke-width="2.5"/>
<rect x="204.8" y="1257.5" width="13.1" height="13.1" fill="#fff" stroke="#ee3c3e" stroke-width="2.5"/>
<rect x="241.3" y="1255.8" width="13.1" height="13.1" fill="#fff" stroke="#ee3c3e" stroke-width="2.5"/>
<rect x="278.4" y="1253.5" width="13.1" height="13.1" fill="#fff" stroke="#ee3c3e" stroke-width="2.5"/>
<rect x="314.9" y="1253.2" width="13.1" height="13.1" fill="#fff" stroke="#ee3c3e" stroke-width="2.5"/>
<rect x="351.6" y="1252.2" width="13.1" height="13.1" fill="#fff" stroke="#ee3c3e" stroke-width="2.5"/>
<rect x="388.6" y="1252.8" width="13.1" height="13.1" fill="#fff" stroke="#ee3c3e" stroke-width="2.5"/>
<rect x="425.3" y="1253.2" width="13.1" height="13.1" fill="#fff" stroke="#ee3c3e" stroke-width="2.5"/>
<rect x="462.1" y="1253.5" width="13.1" height="13.1" fill="#fff" stroke="#ee3c3e" stroke-width="2.5"/>
<rect x="498.6" y="1256.2" width="13.1" height="13.1" fill="#fff" stroke="#ee3c3e" stroke-width="2.5"/>
<polyline fill="none" stroke="#ff0000" stroke-width="1.1" stroke-linejoin="round" points="148.5,1385 149.5,1349 151,1322 152.5,1297 157,1253 159.6,1223 163,1185 165.5,1150 168.4,1107 170,1076.8 171.2,1058.3 173.2,1030.6 174.5,999.7 211.4,981.3 247.9,970.8 285,960.4 321.5,946.4 358.2,937.5 395.1,933.5 431.9,936.3 468.6,952.2 505.1,977.2"/>
<rect x="140.5" y="1377" width="16" height="16" fill="#ff0000"/>
<rect x="141.5" y="1341" width="16" height="16" fill="#ff0000"/>
<rect x="143" y="1314" width="16" height="16" fill="#ff0000"/>
<rect x="144.5" y="1289" width="16" height="16" fill="#ff0000"/>
<rect x="149" y="1245" width="16" height="16" fill="#ff0000"/>
<rect x="151.6" y="1215" width="16" height="16" fill="#ff0000"/>
<rect x="155" y="1177" width="16" height="16" fill="#ff0000"/>
<rect x="157.5" y="1142" width="16" height="16" fill="#ff0000"/>
<rect x="160.4" y="1099" width="16" height="16" fill="#ff0000"/>
<rect x="162" y="1068.8" width="16" height="16" fill="#ff0000"/>
<rect x="163.2" y="1050.3" width="16" height="16" fill="#ff0000"/>
<rect x="165.2" y="1022.6" width="16" height="16" fill="#ff0000"/>
<rect x="166.5" y="991.7" width="16" height="16" fill="#ff0000"/>
<rect x="203.4" y="973.3" width="16" height="16" fill="#ff0000"/>
<rect x="239.9" y="962.8" width="16" height="16" fill="#ff0000"/>
<rect x="277" y="952.4" width="16" height="16" fill="#ff0000"/>
<rect x="313.5" y="938.4" width="16" height="16" fill="#ff0000"/>
<rect x="350.2" y="929.5" width="16" height="16" fill="#ff0000"/>
<rect x="387.1" y="925.5" width="16" height="16" fill="#ff0000"/>
<rect x="423.9" y="928.3" width="16" height="16" fill="#ff0000"/>
<rect x="460.6" y="944.2" width="16" height="16" fill="#ff0000"/>
<rect x="497.1" y="969.2" width="16" height="16" fill="#ff0000"/>
<polyline fill="none" stroke="#0000ff" stroke-width="4.2" stroke-linejoin="round" points="146.6,1402.1 170,1262 175,1255.7" stroke-dasharray="13.5 20.5"/>
<polyline fill="none" stroke="#0000ff" stroke-width="4.2" stroke-linejoin="round" points="175,1255.7 202.3,1250.7 236.8,1247.3 270.7,1246.1 304.6,1247.7 338.5,1250.1 372.4,1252.1 405.7,1255.7 440.6,1259.3 474.5,1262.7 508,1266.6 542,1270.2 576,1274.7 610,1279.8 644,1285.1 678,1291.1 708,1302.8 731,1326 737.4,1333" stroke-dasharray="14.4 19.6" stroke-dashoffset="12.5"/>
<polyline fill="none" stroke="#0000ff" stroke-width="1.2" stroke-linejoin="round" points="148.5,1395.5 150.4,1386.5 152.4,1377.5 154.3,1368.5 156.3,1359.5 158.2,1350.5 160.2,1341.5 162.2,1332.5 164.1,1323.5 166.1,1314.5 168,1305.5 170,1296.5 171.9,1287.5 173.3,1281.2 198.9,1279.2 224.6,1277.6 250.2,1277.2 275.9,1277.2 301.5,1278.6 327.1,1280 352.8,1281.2 378.4,1283.2 404.1,1284.6 429.7,1285.6 455.3,1286.2 481,1288 506.6,1289 532.3,1291.7 557.9,1293.6 583.5,1295.7 609.2,1297.9 634.8,1301.3 660.5,1304.9 686.1,1308.5 711.7,1319.1 737.4,1343.2" stroke-dasharray="5 3.5"/>
<circle cx="148.5" cy="1395.5" r="7.5" fill="#fff" stroke="#0000ff" stroke-width="2.8"/>
<circle cx="150.4" cy="1386.5" r="7.5" fill="#fff" stroke="#0000ff" stroke-width="2.8"/>
<circle cx="152.4" cy="1377.5" r="7.5" fill="#fff" stroke="#0000ff" stroke-width="2.8"/>
<circle cx="154.3" cy="1368.5" r="7.5" fill="#fff" stroke="#0000ff" stroke-width="2.8"/>
<circle cx="156.3" cy="1359.5" r="7.5" fill="#fff" stroke="#0000ff" stroke-width="2.8"/>
<circle cx="158.2" cy="1350.5" r="7.5" fill="#fff" stroke="#0000ff" stroke-width="2.8"/>
<circle cx="160.2" cy="1341.5" r="7.5" fill="#fff" stroke="#0000ff" stroke-width="2.8"/>
<circle cx="162.2" cy="1332.5" r="7.5" fill="#fff" stroke="#0000ff" stroke-width="2.8"/>
<circle cx="164.1" cy="1323.5" r="7.5" fill="#fff" stroke="#0000ff" stroke-width="2.8"/>
<circle cx="166.1" cy="1314.5" r="7.5" fill="#fff" stroke="#0000ff" stroke-width="2.8"/>
<circle cx="168" cy="1305.5" r="7.5" fill="#fff" stroke="#0000ff" stroke-width="2.8"/>
<circle cx="170" cy="1296.5" r="7.5" fill="#fff" stroke="#0000ff" stroke-width="2.8"/>
<circle cx="171.9" cy="1287.5" r="7.5" fill="#fff" stroke="#0000ff" stroke-width="2.8"/>
<circle cx="173.3" cy="1281.2" r="7.5" fill="#fff" stroke="#0000ff" stroke-width="2.8"/>
<circle cx="198.9" cy="1279.2" r="7.5" fill="#fff" stroke="#0000ff" stroke-width="2.8"/>
<circle cx="224.6" cy="1277.6" r="7.5" fill="#fff" stroke="#0000ff" stroke-width="2.8"/>
<circle cx="250.2" cy="1277.2" r="7.5" fill="#fff" stroke="#0000ff" stroke-width="2.8"/>
<circle cx="275.9" cy="1277.2" r="7.5" fill="#fff" stroke="#0000ff" stroke-width="2.8"/>
<circle cx="301.5" cy="1278.6" r="7.5" fill="#fff" stroke="#0000ff" stroke-width="2.8"/>
<circle cx="327.1" cy="1280" r="7.5" fill="#fff" stroke="#0000ff" stroke-width="2.8"/>
<circle cx="352.8" cy="1281.2" r="7.5" fill="#fff" stroke="#0000ff" stroke-width="2.8"/>
<circle cx="378.4" cy="1283.2" r="7.5" fill="#fff" stroke="#0000ff" stroke-width="2.8"/>
<circle cx="404.1" cy="1284.6" r="7.5" fill="#fff" stroke="#0000ff" stroke-width="2.8"/>
<circle cx="429.7" cy="1285.6" r="7.5" fill="#fff" stroke="#0000ff" stroke-width="2.8"/>
<circle cx="455.3" cy="1286.2" r="7.5" fill="#fff" stroke="#0000ff" stroke-width="2.8"/>
<circle cx="481" cy="1288" r="7.5" fill="#fff" stroke="#0000ff" stroke-width="2.8"/>
<circle cx="506.6" cy="1289" r="7.5" fill="#fff" stroke="#0000ff" stroke-width="2.8"/>
<circle cx="532.3" cy="1291.7" r="7.5" fill="#fff" stroke="#0000ff" stroke-width="2.8"/>
<circle cx="557.9" cy="1293.6" r="7.5" fill="#fff" stroke="#0000ff" stroke-width="2.8"/>
<circle cx="583.5" cy="1295.7" r="7.5" fill="#fff" stroke="#0000ff" stroke-width="2.8"/>
<circle cx="609.2" cy="1297.9" r="7.5" fill="#fff" stroke="#0000ff" stroke-width="2.8"/>
<circle cx="634.8" cy="1301.3" r="7.5" fill="#fff" stroke="#0000ff" stroke-width="2.8"/>
<circle cx="660.5" cy="1304.9" r="7.5" fill="#fff" stroke="#0000ff" stroke-width="2.8"/>
<circle cx="686.1" cy="1308.5" r="7.5" fill="#fff" stroke="#0000ff" stroke-width="2.8"/>
<circle cx="711.7" cy="1319.1" r="7.5" fill="#fff" stroke="#0000ff" stroke-width="2.8"/>
<circle cx="737.4" cy="1343.2" r="7.5" fill="#fff" stroke="#0000ff" stroke-width="2.8"/>
<polyline fill="none" stroke="#0000ff" stroke-width="1.2" stroke-linejoin="round" points="149,1380 151,1355 153.5,1329 156.6,1299 161.6,1211 164,1197 165.4,1183.6 167,1170 168.2,1158.4 169.4,1146.2 170.6,1124 172.2,1092.6 173.3,1064.5 198.9,1036 224.6,1023.6 250.2,1016.7 275.9,1016.7 301.5,1015.3 327.1,1019 352.8,1023.6 378.4,1027 404.1,1034.6 429.7,1050.2 455.3,1066.9 481,1079.5 506.6,1090.8 532.3,1100.6 557.9,1111.3 583.5,1125.1 609.2,1139.4 634.8,1150.6 660.5,1161.3 686.1,1176.2 711.7,1194.3 737.4,1242.6" stroke-dasharray="5 3.5"/>
<circle cx="149" cy="1380" r="8.5" fill="#0000ff"/>
<circle cx="151" cy="1355" r="8.5" fill="#0000ff"/>
<circle cx="153.5" cy="1329" r="8.5" fill="#0000ff"/>
<circle cx="156.6" cy="1299" r="8.5" fill="#0000ff"/>
<circle cx="161.6" cy="1211" r="8.5" fill="#0000ff"/>
<circle cx="164" cy="1197" r="8.5" fill="#0000ff"/>
<circle cx="165.4" cy="1183.6" r="8.5" fill="#0000ff"/>
<circle cx="167" cy="1170" r="8.5" fill="#0000ff"/>
<circle cx="168.2" cy="1158.4" r="8.5" fill="#0000ff"/>
<circle cx="169.4" cy="1146.2" r="8.5" fill="#0000ff"/>
<circle cx="170.6" cy="1124" r="8.5" fill="#0000ff"/>
<circle cx="172.2" cy="1092.6" r="8.5" fill="#0000ff"/>
<circle cx="173.3" cy="1064.5" r="8.5" fill="#0000ff"/>
<circle cx="198.9" cy="1036" r="8.5" fill="#0000ff"/>
<circle cx="224.6" cy="1023.6" r="8.5" fill="#0000ff"/>
<circle cx="250.2" cy="1016.7" r="8.5" fill="#0000ff"/>
<circle cx="275.9" cy="1016.7" r="8.5" fill="#0000ff"/>
<circle cx="301.5" cy="1015.3" r="8.5" fill="#0000ff"/>
<circle cx="327.1" cy="1019" r="8.5" fill="#0000ff"/>
<circle cx="352.8" cy="1023.6" r="8.5" fill="#0000ff"/>
<circle cx="378.4" cy="1027" r="8.5" fill="#0000ff"/>
<circle cx="404.1" cy="1034.6" r="8.5" fill="#0000ff"/>
<circle cx="429.7" cy="1050.2" r="8.5" fill="#0000ff"/>
<circle cx="455.3" cy="1066.9" r="8.5" fill="#0000ff"/>
<circle cx="481" cy="1079.5" r="8.5" fill="#0000ff"/>
<circle cx="506.6" cy="1090.8" r="8.5" fill="#0000ff"/>
<circle cx="532.3" cy="1100.6" r="8.5" fill="#0000ff"/>
<circle cx="557.9" cy="1111.3" r="8.5" fill="#0000ff"/>
<circle cx="583.5" cy="1125.1" r="8.5" fill="#0000ff"/>
<circle cx="609.2" cy="1139.4" r="8.5" fill="#0000ff"/>
<circle cx="634.8" cy="1150.6" r="8.5" fill="#0000ff"/>
<circle cx="660.5" cy="1161.3" r="8.5" fill="#0000ff"/>
<circle cx="686.1" cy="1176.2" r="8.5" fill="#0000ff"/>
<circle cx="711.7" cy="1194.3" r="8.5" fill="#0000ff"/>
<circle cx="737.4" cy="1242.6" r="8.5" fill="#0000ff"/>
<path d="M145.3 1391.2H155.9M145.3 1398.4H155.9M150.6 1389.5V1391.2M150.6 1398.4V1400.1" stroke="#ee3c3e" stroke-width="1.4" fill="none"/>
<path d="M147.9 1378.2H158.5M147.9 1385.4H158.5M153.2 1376.5V1378.2M153.2 1385.4V1387.1" stroke="#ee3c3e" stroke-width="1.4" fill="none"/>
<path d="M150.6 1365.2H161.2M150.6 1372.4H161.2M155.9 1363.5V1365.2M155.9 1372.4V1374.1" stroke="#ee3c3e" stroke-width="1.4" fill="none"/>
<path d="M153.3 1352.2H163.9M153.3 1359.4H163.9M158.6 1350.5V1352.2M158.6 1359.4V1361.1" stroke="#ee3c3e" stroke-width="1.4" fill="none"/>
<path d="M156 1339.2H166.6M156 1346.4H166.6M161.3 1337.5V1339.2M161.3 1346.4V1348.1" stroke="#ee3c3e" stroke-width="1.4" fill="none"/>
<path d="M158.6 1326.2H169.2M158.6 1333.4H169.2M163.9 1324.5V1326.2M163.9 1333.4V1335.1" stroke="#ee3c3e" stroke-width="1.4" fill="none"/>
<path d="M161.3 1313.2H171.9M161.3 1320.4H171.9M166.6 1311.5V1313.2M166.6 1320.4V1322.1" stroke="#ee3c3e" stroke-width="1.4" fill="none"/>
<path d="M164 1300.2H174.6M164 1307.4H174.6M169.3 1298.5V1300.2M169.3 1307.4V1309.1" stroke="#ee3c3e" stroke-width="1.4" fill="none"/>
<path d="M166.6 1287.2H177.2M166.6 1294.4H177.2M171.9 1285.5V1287.2M171.9 1294.4V1296.1" stroke="#ee3c3e" stroke-width="1.4" fill="none"/>
<path d="M169.3 1274.2H179.9M169.3 1281.4H179.9M174.6 1272.5V1274.2M174.6 1281.4V1283.1" stroke="#ee3c3e" stroke-width="1.4" fill="none"/>
<path d="M169.2 1265H179.8M169.2 1272.2H179.8M174.5 1263.3V1265M174.5 1272.2V1273.9" stroke="#ee3c3e" stroke-width="1.4" fill="none"/>
<path d="M206.1 1260.5H216.7M206.1 1267.7H216.7M211.4 1258.8V1260.5M211.4 1267.7V1269.4" stroke="#ee3c3e" stroke-width="1.4" fill="none"/>
<path d="M242.6 1258.7H253.2M242.6 1265.9H253.2M247.9 1257V1258.7M247.9 1265.9V1267.6" stroke="#ee3c3e" stroke-width="1.4" fill="none"/>
<path d="M279.7 1256.5H290.3M279.7 1263.7H290.3M285 1254.8V1256.5M285 1263.7V1265.4" stroke="#ee3c3e" stroke-width="1.4" fill="none"/>
<path d="M316.2 1256.1H326.8M316.2 1263.3H326.8M321.5 1254.4V1256.1M321.5 1263.3V1265" stroke="#ee3c3e" stroke-width="1.4" fill="none"/>
<path d="M352.9 1255.1H363.5M352.9 1262.3H363.5M358.2 1253.4V1255.1M358.2 1262.3V1264" stroke="#ee3c3e" stroke-width="1.4" fill="none"/>
<path d="M389.8 1255.7H400.4M389.8 1262.9H400.4M395.1 1254V1255.7M395.1 1262.9V1264.6" stroke="#ee3c3e" stroke-width="1.4" fill="none"/>
<path d="M426.6 1256.1H437.2M426.6 1263.3H437.2M431.9 1254.4V1256.1M431.9 1263.3V1265" stroke="#ee3c3e" stroke-width="1.4" fill="none"/>
<path d="M463.3 1256.5H473.9M463.3 1263.7H473.9M468.6 1254.8V1256.5M468.6 1263.7V1265.4" stroke="#ee3c3e" stroke-width="1.4" fill="none"/>
<path d="M499.8 1259.1H510.4M499.8 1266.3H510.4M505.1 1257.4V1259.1M505.1 1266.3V1268" stroke="#ee3c3e" stroke-width="1.4" fill="none"/>
<path d="M148.5 1363.6V1406.4M143 1363.6H154M143 1406.4H154" stroke="#ff0000" stroke-width="1.5" fill="none"/>
<path d="M149.5 1327.6V1370.4M144 1327.6H155M144 1370.4H155" stroke="#ff0000" stroke-width="1.5" fill="none"/>
<path d="M151 1300.6V1343.4M145.5 1300.6H156.5M145.5 1343.4H156.5" stroke="#ff0000" stroke-width="1.5" fill="none"/>
<path d="M152.5 1275.6V1318.4M147 1275.6H158M147 1318.4H158" stroke="#ff0000" stroke-width="1.5" fill="none"/>
<path d="M157 1231.6V1274.4M151.5 1231.6H162.5M151.5 1274.4H162.5" stroke="#ff0000" stroke-width="1.5" fill="none"/>
<path d="M159.6 1201.6V1244.4M154.1 1201.6H165.1M154.1 1244.4H165.1" stroke="#ff0000" stroke-width="1.5" fill="none"/>
<path d="M163 1163.6V1206.4M157.5 1163.6H168.5M157.5 1206.4H168.5" stroke="#ff0000" stroke-width="1.5" fill="none"/>
<path d="M165.5 1128.6V1171.4M160 1128.6H171M160 1171.4H171" stroke="#ff0000" stroke-width="1.5" fill="none"/>
<path d="M168.4 1085.6V1128.4M162.9 1085.6H173.9M162.9 1128.4H173.9" stroke="#ff0000" stroke-width="1.5" fill="none"/>
<path d="M170 1055.4V1098.2M164.5 1055.4H175.5M164.5 1098.2H175.5" stroke="#ff0000" stroke-width="1.5" fill="none"/>
<path d="M171.2 1036.9V1079.7M165.7 1036.9H176.7M165.7 1079.7H176.7" stroke="#ff0000" stroke-width="1.5" fill="none"/>
<path d="M173.2 1009.2V1052M167.7 1009.2H178.7M167.7 1052H178.7" stroke="#ff0000" stroke-width="1.5" fill="none"/>
<path d="M174.5 978.3V1021.1M169 978.3H180M169 1021.1H180" stroke="#ff0000" stroke-width="1.5" fill="none"/>
<path d="M211.4 959.9V1002.7M205.9 959.9H216.9M205.9 1002.7H216.9" stroke="#ff0000" stroke-width="1.5" fill="none"/>
<path d="M247.9 949.4V992.2M242.4 949.4H253.4M242.4 992.2H253.4" stroke="#ff0000" stroke-width="1.5" fill="none"/>
<path d="M285 939V981.8M279.5 939H290.5M279.5 981.8H290.5" stroke="#ff0000" stroke-width="1.5" fill="none"/>
<path d="M321.5 925V967.8M316 925H327M316 967.8H327" stroke="#ff0000" stroke-width="1.5" fill="none"/>
<path d="M358.2 916.1V958.9M352.7 916.1H363.7M352.7 958.9H363.7" stroke="#ff0000" stroke-width="1.5" fill="none"/>
<path d="M395.1 912.1V954.9M389.6 912.1H400.6M389.6 954.9H400.6" stroke="#ff0000" stroke-width="1.5" fill="none"/>
<path d="M431.9 914.9V957.7M426.4 914.9H437.4M426.4 957.7H437.4" stroke="#ff0000" stroke-width="1.5" fill="none"/>
<path d="M468.6 930.8V973.6M463.1 930.8H474.1M463.1 973.6H474.1" stroke="#ff0000" stroke-width="1.5" fill="none"/>
<path d="M505.1 955.8V998.6M499.6 955.8H510.6M499.6 998.6H510.6" stroke="#ff0000" stroke-width="1.5" fill="none"/>
<path d="M143.4 1392.1H153.5M143.4 1398.9H153.5M148.5 1389.4V1392.1M148.5 1398.9V1401.6" stroke="#0000ff" stroke-width="1.4" fill="none"/>
<path d="M145.4 1383.1H155.5M145.4 1389.9H155.5M150.4 1380.4V1383.1M150.4 1389.9V1392.6" stroke="#0000ff" stroke-width="1.4" fill="none"/>
<path d="M147.3 1374.1H157.5M147.3 1380.9H157.5M152.4 1371.4V1374.1M152.4 1380.9V1383.6" stroke="#0000ff" stroke-width="1.4" fill="none"/>
<path d="M149.3 1365.1H159.4M149.3 1371.9H159.4M154.3 1362.4V1365.1M154.3 1371.9V1374.6" stroke="#0000ff" stroke-width="1.4" fill="none"/>
<path d="M151.2 1356.1H161.4M151.2 1362.9H161.4M156.3 1353.4V1356.1M156.3 1362.9V1365.6" stroke="#0000ff" stroke-width="1.4" fill="none"/>
<path d="M153.2 1347.1H163.3M153.2 1353.9H163.3M158.2 1344.4V1347.1M158.2 1353.9V1356.6" stroke="#0000ff" stroke-width="1.4" fill="none"/>
<path d="M155.1 1338.1H165.3M155.1 1344.9H165.3M160.2 1335.4V1338.1M160.2 1344.9V1347.6" stroke="#0000ff" stroke-width="1.4" fill="none"/>
<path d="M157.1 1329.1H167.2M157.1 1335.9H167.2M162.2 1326.4V1329.1M162.2 1335.9V1338.6" stroke="#0000ff" stroke-width="1.4" fill="none"/>
<path d="M159 1320.1H169.2M159 1326.9H169.2M164.1 1317.4V1320.1M164.1 1326.9V1329.6" stroke="#0000ff" stroke-width="1.4" fill="none"/>
<path d="M161 1311.1H171.1M161 1317.9H171.1M166.1 1308.4V1311.1M166.1 1317.9V1320.6" stroke="#0000ff" stroke-width="1.4" fill="none"/>
<path d="M163 1302.1H173.1M163 1308.9H173.1M168 1299.4V1302.1M168 1308.9V1311.6" stroke="#0000ff" stroke-width="1.4" fill="none"/>
<path d="M164.9 1293.1H175M164.9 1299.9H175M170 1290.4V1293.1M170 1299.9V1302.6" stroke="#0000ff" stroke-width="1.4" fill="none"/>
<path d="M166.9 1284.1H177M166.9 1290.9H177M171.9 1281.4V1284.1M171.9 1290.9V1293.6" stroke="#0000ff" stroke-width="1.4" fill="none"/>
<path d="M168.2 1277.8H178.4M168.2 1284.6H178.4M173.3 1275.1V1277.8M173.3 1284.6V1287.3" stroke="#0000ff" stroke-width="1.4" fill="none"/>
<path d="M193.9 1275.8H204M193.9 1282.6H204M198.9 1273.1V1275.8M198.9 1282.6V1285.3" stroke="#0000ff" stroke-width="1.4" fill="none"/>
<path d="M219.5 1274.2H229.6M219.5 1281H229.6M224.6 1271.5V1274.2M224.6 1281V1283.7" stroke="#0000ff" stroke-width="1.4" fill="none"/>
<path d="M245.2 1273.8H255.3M245.2 1280.6H255.3M250.2 1271.1V1273.8M250.2 1280.6V1283.3" stroke="#0000ff" stroke-width="1.4" fill="none"/>
<path d="M270.8 1273.8H280.9M270.8 1280.6H280.9M275.9 1271.1V1273.8M275.9 1280.6V1283.3" stroke="#0000ff" stroke-width="1.4" fill="none"/>
<path d="M296.4 1275.2H306.6M296.4 1282H306.6M301.5 1272.5V1275.2M301.5 1282V1284.7" stroke="#0000ff" stroke-width="1.4" fill="none"/>
<path d="M322.1 1276.6H332.2M322.1 1283.4H332.2M327.1 1273.9V1276.6M327.1 1283.4V1286.1" stroke="#0000ff" stroke-width="1.4" fill="none"/>
<path d="M347.7 1277.8H357.8M347.7 1284.6H357.8M352.8 1275.1V1277.8M352.8 1284.6V1287.3" stroke="#0000ff" stroke-width="1.4" fill="none"/>
<path d="M373.4 1279.8H383.5M373.4 1286.6H383.5M378.4 1277.1V1279.8M378.4 1286.6V1289.3" stroke="#0000ff" stroke-width="1.4" fill="none"/>
<path d="M399 1281.2H409.1M399 1288H409.1M404.1 1278.5V1281.2M404.1 1288V1290.7" stroke="#0000ff" stroke-width="1.4" fill="none"/>
<path d="M424.6 1282.2H434.8M424.6 1289H434.8M429.7 1279.5V1282.2M429.7 1289V1291.7" stroke="#0000ff" stroke-width="1.4" fill="none"/>
<path d="M450.3 1282.8H460.4M450.3 1289.6H460.4M455.3 1280.1V1282.8M455.3 1289.6V1292.3" stroke="#0000ff" stroke-width="1.4" fill="none"/>
<path d="M475.9 1284.6H486M475.9 1291.4H486M481 1281.9V1284.6M481 1291.4V1294.1" stroke="#0000ff" stroke-width="1.4" fill="none"/>
<path d="M501.6 1285.6H511.7M501.6 1292.4H511.7M506.6 1282.9V1285.6M506.6 1292.4V1295.1" stroke="#0000ff" stroke-width="1.4" fill="none"/>
<path d="M527.2 1288.3H537.3M527.2 1295.1H537.3M532.3 1285.6V1288.3M532.3 1295.1V1297.8" stroke="#0000ff" stroke-width="1.4" fill="none"/>
<path d="M552.8 1290.2H563M552.8 1297H563M557.9 1287.5V1290.2M557.9 1297V1299.7" stroke="#0000ff" stroke-width="1.4" fill="none"/>
<path d="M578.5 1292.3H588.6M578.5 1299.1H588.6M583.5 1289.6V1292.3M583.5 1299.1V1301.8" stroke="#0000ff" stroke-width="1.4" fill="none"/>
<path d="M604.1 1294.5H614.2M604.1 1301.3H614.2M609.2 1291.8V1294.5M609.2 1301.3V1304" stroke="#0000ff" stroke-width="1.4" fill="none"/>
<path d="M629.8 1297.9H639.9M629.8 1304.7H639.9M634.8 1295.2V1297.9M634.8 1304.7V1307.4" stroke="#0000ff" stroke-width="1.4" fill="none"/>
<path d="M655.4 1301.5H665.5M655.4 1308.3H665.5M660.5 1298.8V1301.5M660.5 1308.3V1311" stroke="#0000ff" stroke-width="1.4" fill="none"/>
<path d="M681 1305.1H691.2M681 1311.9H691.2M686.1 1302.4V1305.1M686.1 1311.9V1314.6" stroke="#0000ff" stroke-width="1.4" fill="none"/>
<path d="M706.7 1315.7H716.8M706.7 1322.5H716.8M711.7 1313V1315.7M711.7 1322.5V1325.2" stroke="#0000ff" stroke-width="1.4" fill="none"/>
<path d="M732.3 1339.8H742.4M732.3 1346.6H742.4M737.4 1337.1V1339.8M737.4 1346.6V1349.3" stroke="#0000ff" stroke-width="1.4" fill="none"/>
<path d="M149 1358.7V1401.3M143.5 1358.7H154.5M143.5 1401.3H154.5" stroke="#0000ff" stroke-width="1.5" fill="none"/>
<path d="M151 1333.7V1376.3M145.5 1333.7H156.5M145.5 1376.3H156.5" stroke="#0000ff" stroke-width="1.5" fill="none"/>
<path d="M153.5 1307.7V1350.3M148 1307.7H159M148 1350.3H159" stroke="#0000ff" stroke-width="1.5" fill="none"/>
<path d="M156.6 1277.7V1320.3M151.1 1277.7H162.1M151.1 1320.3H162.1" stroke="#0000ff" stroke-width="1.5" fill="none"/>
<path d="M161.6 1189.7V1232.3M156.1 1189.7H167.1M156.1 1232.3H167.1" stroke="#0000ff" stroke-width="1.5" fill="none"/>
<path d="M164 1175.7V1218.3M158.5 1175.7H169.5M158.5 1218.3H169.5" stroke="#0000ff" stroke-width="1.5" fill="none"/>
<path d="M165.4 1162.3V1204.9M159.9 1162.3H170.9M159.9 1204.9H170.9" stroke="#0000ff" stroke-width="1.5" fill="none"/>
<path d="M167 1148.7V1191.3M161.5 1148.7H172.5M161.5 1191.3H172.5" stroke="#0000ff" stroke-width="1.5" fill="none"/>
<path d="M168.2 1137.1V1179.7M162.7 1137.1H173.7M162.7 1179.7H173.7" stroke="#0000ff" stroke-width="1.5" fill="none"/>
<path d="M169.4 1124.9V1167.5M163.9 1124.9H174.9M163.9 1167.5H174.9" stroke="#0000ff" stroke-width="1.5" fill="none"/>
<path d="M170.6 1102.7V1145.3M165.1 1102.7H176.1M165.1 1145.3H176.1" stroke="#0000ff" stroke-width="1.5" fill="none"/>
<path d="M172.2 1071.3V1113.9M166.7 1071.3H177.7M166.7 1113.9H177.7" stroke="#0000ff" stroke-width="1.5" fill="none"/>
<path d="M173.3 1043.2V1085.8M167.8 1043.2H178.8M167.8 1085.8H178.8" stroke="#0000ff" stroke-width="1.5" fill="none"/>
<path d="M198.9 1014.7V1057.3M193.4 1014.7H204.4M193.4 1057.3H204.4" stroke="#0000ff" stroke-width="1.5" fill="none"/>
<path d="M224.6 1002.3V1044.9M219.1 1002.3H230.1M219.1 1044.9H230.1" stroke="#0000ff" stroke-width="1.5" fill="none"/>
<path d="M250.2 995.4V1038M244.7 995.4H255.7M244.7 1038H255.7" stroke="#0000ff" stroke-width="1.5" fill="none"/>
<path d="M275.9 995.4V1038M270.4 995.4H281.4M270.4 1038H281.4" stroke="#0000ff" stroke-width="1.5" fill="none"/>
<path d="M301.5 994V1036.6M296 994H307M296 1036.6H307" stroke="#0000ff" stroke-width="1.5" fill="none"/>
<path d="M327.1 997.7V1040.3M321.6 997.7H332.6M321.6 1040.3H332.6" stroke="#0000ff" stroke-width="1.5" fill="none"/>
<path d="M352.8 1002.3V1044.9M347.3 1002.3H358.3M347.3 1044.9H358.3" stroke="#0000ff" stroke-width="1.5" fill="none"/>
<path d="M378.4 1005.7V1048.3M372.9 1005.7H383.9M372.9 1048.3H383.9" stroke="#0000ff" stroke-width="1.5" fill="none"/>
<path d="M404.1 1013.3V1055.9M398.6 1013.3H409.6M398.6 1055.9H409.6" stroke="#0000ff" stroke-width="1.5" fill="none"/>
<path d="M429.7 1028.9V1071.5M424.2 1028.9H435.2M424.2 1071.5H435.2" stroke="#0000ff" stroke-width="1.5" fill="none"/>
<path d="M455.3 1045.6V1088.2M449.8 1045.6H460.8M449.8 1088.2H460.8" stroke="#0000ff" stroke-width="1.5" fill="none"/>
<path d="M481 1058.2V1100.8M475.5 1058.2H486.5M475.5 1100.8H486.5" stroke="#0000ff" stroke-width="1.5" fill="none"/>
<path d="M506.6 1069.5V1112.1M501.1 1069.5H512.1M501.1 1112.1H512.1" stroke="#0000ff" stroke-width="1.5" fill="none"/>
<path d="M532.3 1079.3V1121.9M526.8 1079.3H537.8M526.8 1121.9H537.8" stroke="#0000ff" stroke-width="1.5" fill="none"/>
<path d="M557.9 1090V1132.6M552.4 1090H563.4M552.4 1132.6H563.4" stroke="#0000ff" stroke-width="1.5" fill="none"/>
<path d="M583.5 1103.8V1146.4M578 1103.8H589M578 1146.4H589" stroke="#0000ff" stroke-width="1.5" fill="none"/>
<path d="M609.2 1118.1V1160.7M603.7 1118.1H614.7M603.7 1160.7H614.7" stroke="#0000ff" stroke-width="1.5" fill="none"/>
<path d="M634.8 1129.3V1171.9M629.3 1129.3H640.3M629.3 1171.9H640.3" stroke="#0000ff" stroke-width="1.5" fill="none"/>
<path d="M660.5 1140V1182.6M655 1140H666M655 1182.6H666" stroke="#0000ff" stroke-width="1.5" fill="none"/>
<path d="M686.1 1154.9V1197.5M680.6 1154.9H691.6M680.6 1197.5H691.6" stroke="#0000ff" stroke-width="1.5" fill="none"/>
<path d="M711.7 1173V1215.6M706.2 1173H717.2M706.2 1215.6H717.2" stroke="#0000ff" stroke-width="1.5" fill="none"/>
<path d="M737.4 1221.3V1263.9M731.9 1221.3H742.9M731.9 1263.9H742.9" stroke="#0000ff" stroke-width="1.5" fill="none"/>
</g>
<rect x="546.4" y="771.7" width="365.8" height="224.6" fill="#fff" stroke="#000" stroke-width="1.2"/>
<line x1="550.9" y1="791.1" x2="613.5" y2="791.1" stroke="#ff0000" stroke-width="4.2"/>
<text x="621.5" y="800.7" font-size="27.8">Engineering stress (ECN)</text>
<line x1="550.9" y1="825.9" x2="613.5" y2="825.9" stroke="#ee3c3e" stroke-width="1.3"/>
<rect x="575.6" y="819.2" width="13.3" height="13.3" fill="#fff" stroke="#ee3c3e" stroke-width="2.5"/>
<text x="621.5" y="835.5" font-size="27.8">Al (ECN)</text>
<line x1="550.9" y1="860.7" x2="613.5" y2="860.7" stroke="#ff0000" stroke-width="1.3"/>
<rect x="574.2" y="852.7" width="16" height="16" fill="#ff0000"/>
<text x="621.5" y="870.3" font-size="27.8">Al<tspan font-size="18.6" dy="7">11</tspan><tspan dy="-7">La</tspan><tspan font-size="18.6" dy="7">3</tspan><tspan dy="-7"> (ECN)</tspan></text>
<line x1="550.9" y1="901.6" x2="613.5" y2="901.6" stroke="#0000ff" stroke-width="4.2" stroke-dasharray="14.5 19.5"/>
<text x="621.5" y="911.2" font-size="27.8">Engineering stress (NP)</text>
<line x1="550.9" y1="936.4" x2="611.5" y2="936.4" stroke="#0000ff" stroke-width="1.3" stroke-dasharray="4.5 3.5"/>
<circle cx="582.2" cy="936.4" r="7.8" fill="#fff" stroke="#0000ff" stroke-width="2.4"/>
<text x="621.5" y="946" font-size="27.8">Al (NP)</text>
<line x1="550.9" y1="971.2" x2="611.5" y2="971.2" stroke="#0000ff" stroke-width="1.3" stroke-dasharray="4.5 3.5"/>
<circle cx="582.2" cy="971.2" r="9" fill="#0000ff"/>
<text x="621.5" y="980.8" font-size="27.8">Al<tspan font-size="18.6" dy="7">11</tspan><tspan dy="-7">La</tspan><tspan font-size="18.6" dy="7">3</tspan><tspan dy="-7"> (NP)</tspan></text>
</g>
<g id="pd">
<rect x="1160.3" y="851.9" width="683.3" height="550.5" fill="none" stroke="#000" stroke-width="2.8"/>
<text x="1160.3" y="1436.3" font-size="29.3" text-anchor="middle">0.00</text>
<line x1="1209.1" y1="1402.4" x2="1209.1" y2="1396.4" stroke="#000" stroke-width="2.7"/>
<line x1="1257.9" y1="1402.4" x2="1257.9" y2="1391.4" stroke="#000" stroke-width="2.7"/>
<text x="1257.9" y="1436.3" font-size="29.3" text-anchor="middle">0.02</text>
<line x1="1306.7" y1="1402.4" x2="1306.7" y2="1396.4" stroke="#000" stroke-width="2.7"/>
<line x1="1355.5" y1="1402.4" x2="1355.5" y2="1391.4" stroke="#000" stroke-width="2.7"/>
<text x="1355.5" y="1436.3" font-size="29.3" text-anchor="middle">0.04</text>
<line x1="1404.3" y1="1402.4" x2="1404.3" y2="1396.4" stroke="#000" stroke-width="2.7"/>
<line x1="1453.1" y1="1402.4" x2="1453.1" y2="1391.4" stroke="#000" stroke-width="2.7"/>
<text x="1453.1" y="1436.3" font-size="29.3" text-anchor="middle">0.06</text>
<line x1="1502" y1="1402.4" x2="1502" y2="1396.4" stroke="#000" stroke-width="2.7"/>
<line x1="1550.8" y1="1402.4" x2="1550.8" y2="1391.4" stroke="#000" stroke-width="2.7"/>
<text x="1550.8" y="1436.3" font-size="29.3" text-anchor="middle">0.08</text>
<line x1="1599.6" y1="1402.4" x2="1599.6" y2="1396.4" stroke="#000" stroke-width="2.7"/>
<line x1="1648.4" y1="1402.4" x2="1648.4" y2="1391.4" stroke="#000" stroke-width="2.7"/>
<text x="1648.4" y="1436.3" font-size="29.3" text-anchor="middle">0.10</text>
<line x1="1697.2" y1="1402.4" x2="1697.2" y2="1396.4" stroke="#000" stroke-width="2.7"/>
<line x1="1746" y1="1402.4" x2="1746" y2="1391.4" stroke="#000" stroke-width="2.7"/>
<text x="1746" y="1436.3" font-size="29.3" text-anchor="middle">0.12</text>
<line x1="1794.8" y1="1402.4" x2="1794.8" y2="1396.4" stroke="#000" stroke-width="2.7"/>
<text x="1843.6" y="1436.3" font-size="29.3" text-anchor="middle">0.14</text>
<text x="1147.8" y="1410.8" font-size="29.3" text-anchor="end">0</text>
<line x1="1160.3" y1="1341.2" x2="1166.3" y2="1341.2" stroke="#000" stroke-width="2.7"/>
<line x1="1160.3" y1="1280.1" x2="1171.3" y2="1280.1" stroke="#000" stroke-width="2.7"/>
<text x="1147.8" y="1288.5" font-size="29.3" text-anchor="end">200</text>
<line x1="1160.3" y1="1218.9" x2="1166.3" y2="1218.9" stroke="#000" stroke-width="2.7"/>
<line x1="1160.3" y1="1157.7" x2="1171.3" y2="1157.7" stroke="#000" stroke-width="2.7"/>
<text x="1147.8" y="1166.1" font-size="29.3" text-anchor="end">400</text>
<line x1="1160.3" y1="1096.6" x2="1166.3" y2="1096.6" stroke="#000" stroke-width="2.7"/>
<line x1="1160.3" y1="1035.4" x2="1171.3" y2="1035.4" stroke="#000" stroke-width="2.7"/>
<text x="1147.8" y="1043.8" font-size="29.3" text-anchor="end">600</text>
<line x1="1160.3" y1="974.2" x2="1166.3" y2="974.2" stroke="#000" stroke-width="2.7"/>
<line x1="1160.3" y1="913.1" x2="1171.3" y2="913.1" stroke="#000" stroke-width="2.7"/>
<text x="1147.8" y="921.5" font-size="29.3" text-anchor="end">800</text>
<text x="1147.8" y="860.3" font-size="29.3" text-anchor="end">900</text>
<text x="1501.4" y="1494.6" font-size="41.4" text-anchor="middle">Engineering strain</text>
<text x="1077.6" y="1127.9" font-size="41.5" text-anchor="middle" transform="rotate(-90 1077.6 1127.9)">Engineering/Phase stress (MPa)</text>
<text x="1179.6" y="881.8" font-size="34.5" font-weight="bold">300 °C</text>
<text x="1003" y="823" font-size="83" font-weight="bold">d</text>
<clipPath id="cd"><rect x="1161" y="850.5" width="684" height="552.9"/></clipPath>
<g clip-path="url(#cd)">
<polyline fill="none" stroke="#ee3c3e" stroke-width="4.5" stroke-linejoin="round" points="1160.3,1402.4 1176,1285 1178.9,1258.7 1229.2,1248.1 1278.9,1246.1 1328.9,1249.1 1379,1254.7 1429.3,1260.7 1479.2,1267 1527.9,1273.4 1578.5,1282 1629,1295.2"/>
<polyline fill="none" stroke="#ff0000" stroke-width="1.1" stroke-linejoin="round" points="1164.2,1393 1166.7,1379 1169.1,1365 1171.6,1351 1174,1337 1176.5,1323 1178,1309 1178.9,1289.6 1229.2,1290.2 1278.9,1290.2 1328.9,1294.6 1379,1298.6 1429.3,1302 1479.2,1305 1529.1,1309.8 1579,1316.6 1629.5,1328.3"/>
<rect x="1157.6" y="1386.4" width="13.2" height="13.2" fill="#fff" stroke="#ff0000" stroke-width="2.8"/>
<rect x="1160.1" y="1372.4" width="13.2" height="13.2" fill="#fff" stroke="#ff0000" stroke-width="2.8"/>
<rect x="1162.5" y="1358.4" width="13.2" height="13.2" fill="#fff" stroke="#ff0000" stroke-width="2.8"/>
<rect x="1165" y="1344.4" width="13.2" height="13.2" fill="#fff" stroke="#ff0000" stroke-width="2.8"/>
<rect x="1167.4" y="1330.4" width="13.2" height="13.2" fill="#fff" stroke="#ff0000" stroke-width="2.8"/>
<rect x="1169.9" y="1316.4" width="13.2" height="13.2" fill="#fff" stroke="#ff0000" stroke-width="2.8"/>
<rect x="1171.4" y="1302.4" width="13.2" height="13.2" fill="#fff" stroke="#ff0000" stroke-width="2.8"/>
<rect x="1172.3" y="1283" width="13.2" height="13.2" fill="#fff" stroke="#ff0000" stroke-width="2.8"/>
<rect x="1222.6" y="1283.6" width="13.2" height="13.2" fill="#fff" stroke="#ff0000" stroke-width="2.8"/>
<rect x="1272.3" y="1283.6" width="13.2" height="13.2" fill="#fff" stroke="#ff0000" stroke-width="2.8"/>
<rect x="1322.3" y="1288" width="13.2" height="13.2" fill="#fff" stroke="#ff0000" stroke-width="2.8"/>
<rect x="1372.4" y="1292" width="13.2" height="13.2" fill="#fff" stroke="#ff0000" stroke-width="2.8"/>
<rect x="1422.7" y="1295.4" width="13.2" height="13.2" fill="#fff" stroke="#ff0000" stroke-width="2.8"/>
<rect x="1472.6" y="1298.4" width="13.2" height="13.2" fill="#fff" stroke="#ff0000" stroke-width="2.8"/>
<rect x="1522.5" y="1303.2" width="13.2" height="13.2" fill="#fff" stroke="#ff0000" stroke-width="2.8"/>
<rect x="1572.4" y="1310" width="13.2" height="13.2" fill="#fff" stroke="#ff0000" stroke-width="2.8"/>
<rect x="1622.9" y="1321.7" width="13.2" height="13.2" fill="#fff" stroke="#ff0000" stroke-width="2.8"/>
<polyline fill="none" stroke="#ff0000" stroke-width="1.1" stroke-linejoin="round" points="1161.5,1388 1162.5,1368 1164,1345 1165.5,1322 1167,1299 1168.8,1273 1170.8,1244.5 1172.9,1219.5 1175,1175 1177,1113 1178.9,1023 1229.2,935.2 1278.9,918.3 1328.9,911.3 1379,923.8 1429.3,947.8 1479.2,979.1 1529.1,1004.7 1579,1026.8 1629.5,1044.4"/>
<rect x="1153.5" y="1380" width="16" height="16" fill="#ff0000"/>
<rect x="1154.5" y="1360" width="16" height="16" fill="#ff0000"/>
<rect x="1156" y="1337" width="16" height="16" fill="#ff0000"/>
<rect x="1157.5" y="1314" width="16" height="16" fill="#ff0000"/>
<rect x="1159" y="1291" width="16" height="16" fill="#ff0000"/>
<rect x="1160.8" y="1265" width="16" height="16" fill="#ff0000"/>
<rect x="1162.8" y="1236.5" width="16" height="16" fill="#ff0000"/>
<rect x="1164.9" y="1211.5" width="16" height="16" fill="#ff0000"/>
<rect x="1167" y="1167" width="16" height="16" fill="#ff0000"/>
<rect x="1169" y="1105" width="16" height="16" fill="#ff0000"/>
<rect x="1170.9" y="1015" width="16" height="16" fill="#ff0000"/>
<rect x="1221.2" y="927.2" width="16" height="16" fill="#ff0000"/>
<rect x="1270.9" y="910.3" width="16" height="16" fill="#ff0000"/>
<rect x="1320.9" y="903.3" width="16" height="16" fill="#ff0000"/>
<rect x="1371" y="915.8" width="16" height="16" fill="#ff0000"/>
<rect x="1421.3" y="939.8" width="16" height="16" fill="#ff0000"/>
<rect x="1471.2" y="971.1" width="16" height="16" fill="#ff0000"/>
<rect x="1521.1" y="996.7" width="16" height="16" fill="#ff0000"/>
<rect x="1571" y="1018.8" width="16" height="16" fill="#ff0000"/>
<rect x="1621.5" y="1036.4" width="16" height="16" fill="#ff0000"/>
<polyline fill="none" stroke="#0000ff" stroke-width="4.2" stroke-linejoin="round" points="1160.3,1402.4 1172,1310 1174,1300.6" stroke-dasharray="13.5 20.5"/>
<polyline fill="none" stroke="#0000ff" stroke-width="4.2" stroke-linejoin="round" points="1174,1300.6 1210,1291.6 1244,1288 1280.7,1286.6 1313.6,1287 1347.5,1288 1381.4,1289 1414.7,1290.2 1449.2,1291.2 1482.1,1293.6 1516.5,1295.2 1550.7,1297.2 1584.8,1299 1618.9,1301.5 1652.4,1304 1686.4,1307.3 1720,1309.8 1754.1,1312.8 1788.2,1316.6 1806,1319" stroke-dasharray="14.4 19.6" stroke-dashoffset="3"/>
<polyline fill="none" stroke="#0000ff" stroke-width="1.2" stroke-linejoin="round" points="1165.4,1391.6 1167.8,1377.6 1170.1,1363.6 1172.5,1349.6 1174.9,1335.6 1174.3,1327.1 1232.2,1327.1 1289.2,1327.1 1346.7,1328.1 1404,1329.5 1461.6,1329.9 1519.3,1329.8 1576.7,1330 1634.1,1330.8 1691.4,1331.8 1748.5,1333.1 1806.4,1336.4" stroke-dasharray="5 3.5"/>
<circle cx="1165.4" cy="1391.6" r="7.5" fill="#fff" stroke="#0000ff" stroke-width="2.8"/>
<circle cx="1167.8" cy="1377.6" r="7.5" fill="#fff" stroke="#0000ff" stroke-width="2.8"/>
<circle cx="1170.1" cy="1363.6" r="7.5" fill="#fff" stroke="#0000ff" stroke-width="2.8"/>
<circle cx="1172.5" cy="1349.6" r="7.5" fill="#fff" stroke="#0000ff" stroke-width="2.8"/>
<circle cx="1174.9" cy="1335.6" r="7.5" fill="#fff" stroke="#0000ff" stroke-width="2.8"/>
<circle cx="1174.3" cy="1327.1" r="7.5" fill="#fff" stroke="#0000ff" stroke-width="2.8"/>
<circle cx="1232.2" cy="1327.1" r="7.5" fill="#fff" stroke="#0000ff" stroke-width="2.8"/>
<circle cx="1289.2" cy="1327.1" r="7.5" fill="#fff" stroke="#0000ff" stroke-width="2.8"/>
<circle cx="1346.7" cy="1328.1" r="7.5" fill="#fff" stroke="#0000ff" stroke-width="2.8"/>
<circle cx="1404" cy="1329.5" r="7.5" fill="#fff" stroke="#0000ff" stroke-width="2.8"/>
<circle cx="1461.6" cy="1329.9" r="7.5" fill="#fff" stroke="#0000ff" stroke-width="2.8"/>
<circle cx="1519.3" cy="1329.8" r="7.5" fill="#fff" stroke="#0000ff" stroke-width="2.8"/>
<circle cx="1576.7" cy="1330" r="7.5" fill="#fff" stroke="#0000ff" stroke-width="2.8"/>
<circle cx="1634.1" cy="1330.8" r="7.5" fill="#fff" stroke="#0000ff" stroke-width="2.8"/>
<circle cx="1691.4" cy="1331.8" r="7.5" fill="#fff" stroke="#0000ff" stroke-width="2.8"/>
<circle cx="1748.5" cy="1333.1" r="7.5" fill="#fff" stroke="#0000ff" stroke-width="2.8"/>
<circle cx="1806.4" cy="1336.4" r="7.5" fill="#fff" stroke="#0000ff" stroke-width="2.8"/>
<polyline fill="none" stroke="#0000ff" stroke-width="1.2" stroke-linejoin="round" points="1161.5,1385 1163,1360 1165,1335 1167,1309.5 1168.8,1283.6 1170.5,1255.7 1172.9,1183.5 1174.3,1080.8 1232.2,998 1289.2,984.7 1346.7,983.7 1404,991.1 1461.6,1009 1519.3,1037.5 1576.7,1065.9 1634.1,1091.2 1691.4,1120.3 1748.5,1155.6 1806.4,1182.7" stroke-dasharray="5 3.5"/>
<circle cx="1161.5" cy="1385" r="8.5" fill="#0000ff"/>
<circle cx="1163" cy="1360" r="8.5" fill="#0000ff"/>
<circle cx="1165" cy="1335" r="8.5" fill="#0000ff"/>
<circle cx="1167" cy="1309.5" r="8.5" fill="#0000ff"/>
<circle cx="1168.8" cy="1283.6" r="8.5" fill="#0000ff"/>
<circle cx="1170.5" cy="1255.7" r="8.5" fill="#0000ff"/>
<circle cx="1172.9" cy="1183.5" r="8.5" fill="#0000ff"/>
<circle cx="1174.3" cy="1080.8" r="8.5" fill="#0000ff"/>
<circle cx="1232.2" cy="998" r="8.5" fill="#0000ff"/>
<circle cx="1289.2" cy="984.7" r="8.5" fill="#0000ff"/>
<circle cx="1346.7" cy="983.7" r="8.5" fill="#0000ff"/>
<circle cx="1404" cy="991.1" r="8.5" fill="#0000ff"/>
<circle cx="1461.6" cy="1009" r="8.5" fill="#0000ff"/>
<circle cx="1519.3" cy="1037.5" r="8.5" fill="#0000ff"/>
<circle cx="1576.7" cy="1065.9" r="8.5" fill="#0000ff"/>
<circle cx="1634.1" cy="1091.2" r="8.5" fill="#0000ff"/>
<circle cx="1691.4" cy="1120.3" r="8.5" fill="#0000ff"/>
<circle cx="1748.5" cy="1155.6" r="8.5" fill="#0000ff"/>
<circle cx="1806.4" cy="1182.7" r="8.5" fill="#0000ff"/>
<path d="M1159 1388.7H1169.4M1159 1397.3H1169.4M1164.2 1387.8V1388.7M1164.2 1397.3V1398.2" stroke="#ff0000" stroke-width="1.4" fill="none"/>
<path d="M1161.5 1374.7H1171.9M1161.5 1383.3H1171.9M1166.7 1373.8V1374.7M1166.7 1383.3V1384.2" stroke="#ff0000" stroke-width="1.4" fill="none"/>
<path d="M1163.9 1360.7H1174.3M1163.9 1369.3H1174.3M1169.1 1359.8V1360.7M1169.1 1369.3V1370.2" stroke="#ff0000" stroke-width="1.4" fill="none"/>
<path d="M1166.4 1346.7H1176.8M1166.4 1355.3H1176.8M1171.6 1345.8V1346.7M1171.6 1355.3V1356.2" stroke="#ff0000" stroke-width="1.4" fill="none"/>
<path d="M1168.8 1332.7H1179.2M1168.8 1341.3H1179.2M1174 1331.8V1332.7M1174 1341.3V1342.2" stroke="#ff0000" stroke-width="1.4" fill="none"/>
<path d="M1171.3 1318.7H1181.7M1171.3 1327.3H1181.7M1176.5 1317.8V1318.7M1176.5 1327.3V1328.2" stroke="#ff0000" stroke-width="1.4" fill="none"/>
<path d="M1172.8 1304.7H1183.2M1172.8 1313.3H1183.2M1178 1303.8V1304.7M1178 1313.3V1314.2" stroke="#ff0000" stroke-width="1.4" fill="none"/>
<path d="M1173.7 1285.3H1184.1M1173.7 1293.9H1184.1M1178.9 1284.4V1285.3M1178.9 1293.9V1294.8" stroke="#ff0000" stroke-width="1.4" fill="none"/>
<path d="M1224 1285.9H1234.4M1224 1294.5H1234.4M1229.2 1285V1285.9M1229.2 1294.5V1295.4" stroke="#ff0000" stroke-width="1.4" fill="none"/>
<path d="M1273.7 1285.9H1284.1M1273.7 1294.5H1284.1M1278.9 1285V1285.9M1278.9 1294.5V1295.4" stroke="#ff0000" stroke-width="1.4" fill="none"/>
<path d="M1323.7 1290.3H1334.1M1323.7 1298.9H1334.1M1328.9 1289.4V1290.3M1328.9 1298.9V1299.8" stroke="#ff0000" stroke-width="1.4" fill="none"/>
<path d="M1373.8 1294.3H1384.2M1373.8 1302.9H1384.2M1379 1293.4V1294.3M1379 1302.9V1303.8" stroke="#ff0000" stroke-width="1.4" fill="none"/>
<path d="M1424.1 1297.7H1434.5M1424.1 1306.3H1434.5M1429.3 1296.8V1297.7M1429.3 1306.3V1307.2" stroke="#ff0000" stroke-width="1.4" fill="none"/>
<path d="M1474 1300.7H1484.4M1474 1309.3H1484.4M1479.2 1299.8V1300.7M1479.2 1309.3V1310.2" stroke="#ff0000" stroke-width="1.4" fill="none"/>
<path d="M1523.9 1305.5H1534.3M1523.9 1314.1H1534.3M1529.1 1304.6V1305.5M1529.1 1314.1V1315" stroke="#ff0000" stroke-width="1.4" fill="none"/>
<path d="M1573.8 1312.3H1584.2M1573.8 1320.9H1584.2M1579 1311.4V1312.3M1579 1320.9V1321.8" stroke="#ff0000" stroke-width="1.4" fill="none"/>
<path d="M1624.3 1324H1634.7M1624.3 1332.6H1634.7M1629.5 1323.1V1324M1629.5 1332.6V1333.5" stroke="#ff0000" stroke-width="1.4" fill="none"/>
<path d="M1161.5 1359.7V1416.3M1156 1359.7H1167M1156 1416.3H1167" stroke="#ff0000" stroke-width="1.3" fill="none"/>
<path d="M1162.5 1339.7V1396.3M1157 1339.7H1168M1157 1396.3H1168" stroke="#ff0000" stroke-width="1.3" fill="none"/>
<path d="M1164 1316.7V1373.3M1158.5 1316.7H1169.5M1158.5 1373.3H1169.5" stroke="#ff0000" stroke-width="1.3" fill="none"/>
<path d="M1165.5 1293.7V1350.3M1160 1293.7H1171M1160 1350.3H1171" stroke="#ff0000" stroke-width="1.3" fill="none"/>
<path d="M1167 1270.7V1327.3M1161.5 1270.7H1172.5M1161.5 1327.3H1172.5" stroke="#ff0000" stroke-width="1.3" fill="none"/>
<path d="M1168.8 1244.7V1301.3M1163.3 1244.7H1174.3M1163.3 1301.3H1174.3" stroke="#ff0000" stroke-width="1.3" fill="none"/>
<path d="M1170.8 1216.2V1272.8M1165.3 1216.2H1176.3M1165.3 1272.8H1176.3" stroke="#ff0000" stroke-width="1.3" fill="none"/>
<path d="M1172.9 1191.2V1247.8M1167.4 1191.2H1178.4M1167.4 1247.8H1178.4" stroke="#ff0000" stroke-width="1.3" fill="none"/>
<path d="M1175 1146.7V1203.3M1169.5 1146.7H1180.5M1169.5 1203.3H1180.5" stroke="#ff0000" stroke-width="1.3" fill="none"/>
<path d="M1177 1084.7V1141.3M1171.5 1084.7H1182.5M1171.5 1141.3H1182.5" stroke="#ff0000" stroke-width="1.3" fill="none"/>
<path d="M1178.9 994.7V1051.3M1173.4 994.7H1184.4M1173.4 1051.3H1184.4" stroke="#ff0000" stroke-width="1.3" fill="none"/>
<path d="M1229.2 906.9V963.5M1223.7 906.9H1234.7M1223.7 963.5H1234.7" stroke="#ff0000" stroke-width="1.3" fill="none"/>
<path d="M1278.9 890V946.6M1273.4 890H1284.4M1273.4 946.6H1284.4" stroke="#ff0000" stroke-width="1.3" fill="none"/>
<path d="M1328.9 883V939.6M1323.4 883H1334.4M1323.4 939.6H1334.4" stroke="#ff0000" stroke-width="1.3" fill="none"/>
<path d="M1379 895.5V952.1M1373.5 895.5H1384.5M1373.5 952.1H1384.5" stroke="#ff0000" stroke-width="1.3" fill="none"/>
<path d="M1429.3 919.5V976.1M1423.8 919.5H1434.8M1423.8 976.1H1434.8" stroke="#ff0000" stroke-width="1.3" fill="none"/>
<path d="M1479.2 950.8V1007.4M1473.7 950.8H1484.7M1473.7 1007.4H1484.7" stroke="#ff0000" stroke-width="1.3" fill="none"/>
<path d="M1529.1 976.4V1033M1523.6 976.4H1534.6M1523.6 1033H1534.6" stroke="#ff0000" stroke-width="1.3" fill="none"/>
<path d="M1579 998.5V1055.1M1573.5 998.5H1584.5M1573.5 1055.1H1584.5" stroke="#ff0000" stroke-width="1.3" fill="none"/>
<path d="M1629.5 1016.1V1072.7M1624 1016.1H1635M1624 1072.7H1635" stroke="#ff0000" stroke-width="1.3" fill="none"/>
<path d="M1160.4 1388.2H1170.5M1160.4 1395H1170.5M1165.4 1385.5V1388.2M1165.4 1395V1397.7" stroke="#0000ff" stroke-width="1.4" fill="none"/>
<path d="M1162.7 1374.2H1172.8M1162.7 1381H1172.8M1167.8 1371.5V1374.2M1167.8 1381V1383.7" stroke="#0000ff" stroke-width="1.4" fill="none"/>
<path d="M1165.1 1360.2H1175.2M1165.1 1367H1175.2M1170.1 1357.5V1360.2M1170.1 1367V1369.7" stroke="#0000ff" stroke-width="1.4" fill="none"/>
<path d="M1167.4 1346.2H1177.6M1167.4 1353H1177.6M1172.5 1343.5V1346.2M1172.5 1353V1355.7" stroke="#0000ff" stroke-width="1.4" fill="none"/>
<path d="M1169.8 1332.2H1179.9M1169.8 1339H1179.9M1174.9 1329.5V1332.2M1174.9 1339V1341.7" stroke="#0000ff" stroke-width="1.4" fill="none"/>
<path d="M1169.2 1323.7H1179.4M1169.2 1330.5H1179.4M1174.3 1321V1323.7M1174.3 1330.5V1333.2" stroke="#0000ff" stroke-width="1.4" fill="none"/>
<path d="M1227.1 1323.7H1237.3M1227.1 1330.5H1237.3M1232.2 1321V1323.7M1232.2 1330.5V1333.2" stroke="#0000ff" stroke-width="1.4" fill="none"/>
<path d="M1284.1 1323.7H1294.3M1284.1 1330.5H1294.3M1289.2 1321V1323.7M1289.2 1330.5V1333.2" stroke="#0000ff" stroke-width="1.4" fill="none"/>
<path d="M1341.6 1324.7H1351.8M1341.6 1331.5H1351.8M1346.7 1322V1324.7M1346.7 1331.5V1334.2" stroke="#0000ff" stroke-width="1.4" fill="none"/>
<path d="M1398.9 1326.1H1409.1M1398.9 1332.9H1409.1M1404 1323.4V1326.1M1404 1332.9V1335.6" stroke="#0000ff" stroke-width="1.4" fill="none"/>
<path d="M1456.5 1326.5H1466.7M1456.5 1333.3H1466.7M1461.6 1323.8V1326.5M1461.6 1333.3V1336" stroke="#0000ff" stroke-width="1.4" fill="none"/>
<path d="M1514.2 1326.4H1524.4M1514.2 1333.2H1524.4M1519.3 1323.7V1326.4M1519.3 1333.2V1335.9" stroke="#0000ff" stroke-width="1.4" fill="none"/>
<path d="M1571.6 1326.6H1581.8M1571.6 1333.4H1581.8M1576.7 1323.9V1326.6M1576.7 1333.4V1336.1" stroke="#0000ff" stroke-width="1.4" fill="none"/>
<path d="M1629 1327.4H1639.2M1629 1334.2H1639.2M1634.1 1324.7V1327.4M1634.1 1334.2V1336.9" stroke="#0000ff" stroke-width="1.4" fill="none"/>
<path d="M1686.3 1328.4H1696.5M1686.3 1335.2H1696.5M1691.4 1325.7V1328.4M1691.4 1335.2V1337.9" stroke="#0000ff" stroke-width="1.4" fill="none"/>
<path d="M1743.4 1329.7H1753.6M1743.4 1336.5H1753.6M1748.5 1327V1329.7M1748.5 1336.5V1339.2" stroke="#0000ff" stroke-width="1.4" fill="none"/>
<path d="M1801.3 1333H1811.5M1801.3 1339.8H1811.5M1806.4 1330.3V1333M1806.4 1339.8V1342.5" stroke="#0000ff" stroke-width="1.4" fill="none"/>
<path d="M1161.5 1356.7V1413.3M1156 1356.7H1167M1156 1413.3H1167" stroke="#0000ff" stroke-width="1.3" fill="none"/>
<path d="M1163 1331.7V1388.3M1157.5 1331.7H1168.5M1157.5 1388.3H1168.5" stroke="#0000ff" stroke-width="1.3" fill="none"/>
<path d="M1165 1306.7V1363.3M1159.5 1306.7H1170.5M1159.5 1363.3H1170.5" stroke="#0000ff" stroke-width="1.3" fill="none"/>
<path d="M1167 1281.2V1337.8M1161.5 1281.2H1172.5M1161.5 1337.8H1172.5" stroke="#0000ff" stroke-width="1.3" fill="none"/>
<path d="M1168.8 1255.3V1311.9M1163.3 1255.3H1174.3M1163.3 1311.9H1174.3" stroke="#0000ff" stroke-width="1.3" fill="none"/>
<path d="M1170.5 1227.4V1284M1165 1227.4H1176M1165 1284H1176" stroke="#0000ff" stroke-width="1.3" fill="none"/>
<path d="M1172.9 1155.2V1211.8M1167.4 1155.2H1178.4M1167.4 1211.8H1178.4" stroke="#0000ff" stroke-width="1.3" fill="none"/>
<path d="M1174.3 1052.5V1109.1M1168.8 1052.5H1179.8M1168.8 1109.1H1179.8" stroke="#0000ff" stroke-width="1.3" fill="none"/>
<path d="M1232.2 969.7V1026.3M1226.7 969.7H1237.7M1226.7 1026.3H1237.7" stroke="#0000ff" stroke-width="1.3" fill="none"/>
<path d="M1289.2 956.4V1013M1283.7 956.4H1294.7M1283.7 1013H1294.7" stroke="#0000ff" stroke-width="1.3" fill="none"/>
<path d="M1346.7 955.4V1012M1341.2 955.4H1352.2M1341.2 1012H1352.2" stroke="#0000ff" stroke-width="1.3" fill="none"/>
<path d="M1404 962.8V1019.4M1398.5 962.8H1409.5M1398.5 1019.4H1409.5" stroke="#0000ff" stroke-width="1.3" fill="none"/>
<path d="M1461.6 980.7V1037.3M1456.1 980.7H1467.1M1456.1 1037.3H1467.1" stroke="#0000ff" stroke-width="1.3" fill="none"/>
<path d="M1519.3 1009.2V1065.8M1513.8 1009.2H1524.8M1513.8 1065.8H1524.8" stroke="#0000ff" stroke-width="1.3" fill="none"/>
<path d="M1576.7 1037.6V1094.2M1571.2 1037.6H1582.2M1571.2 1094.2H1582.2" stroke="#0000ff" stroke-width="1.3" fill="none"/>
<path d="M1634.1 1062.9V1119.5M1628.6 1062.9H1639.6M1628.6 1119.5H1639.6" stroke="#0000ff" stroke-width="1.3" fill="none"/>
<path d="M1691.4 1092V1148.6M1685.9 1092H1696.9M1685.9 1148.6H1696.9" stroke="#0000ff" stroke-width="1.3" fill="none"/>
<path d="M1748.5 1127.3V1183.9M1743 1127.3H1754M1743 1183.9H1754" stroke="#0000ff" stroke-width="1.3" fill="none"/>
<path d="M1806.4 1154.4V1211M1800.9 1154.4H1811.9M1800.9 1211H1811.9" stroke="#0000ff" stroke-width="1.3" fill="none"/>
</g>
<rect x="1572.5" y="768.7" width="370" height="227.1" fill="#fff" stroke="#000" stroke-width="1.2"/>
<line x1="1576.6" y1="787.9" x2="1640.8" y2="787.9" stroke="#ee3c3e" stroke-width="4.2"/>
<text x="1648.3" y="797.6" font-size="28.2">Engineering stress (ECN)</text>
<line x1="1576.6" y1="823.7" x2="1640.8" y2="823.7" stroke="#ff0000" stroke-width="1.3"/>
<rect x="1601.8" y="817.1" width="13.3" height="13.3" fill="#fff" stroke="#ff0000" stroke-width="2.5"/>
<text x="1648.3" y="833.4" font-size="28.2">Al (ECN)</text>
<line x1="1576.6" y1="858.6" x2="1640.8" y2="858.6" stroke="#ff0000" stroke-width="1.3"/>
<rect x="1600.5" y="850.6" width="16" height="16" fill="#ff0000"/>
<text x="1648.3" y="868.3" font-size="28.2">Al<tspan font-size="18.9" dy="7">11</tspan><tspan dy="-7">La</tspan><tspan font-size="18.9" dy="7">3</tspan><tspan dy="-7"> (ECN)</tspan></text>
<line x1="1576.6" y1="900.1" x2="1640.8" y2="900.1" stroke="#0000ff" stroke-width="4.2" stroke-dasharray="14.5 19.5"/>
<text x="1648.3" y="909.8" font-size="28.2">Engineering stress (NP)</text>
<line x1="1576.6" y1="935.2" x2="1638.8" y2="935.2" stroke="#0000ff" stroke-width="1.3" stroke-dasharray="4.5 3.5"/>
<circle cx="1608.5" cy="935.2" r="7.8" fill="#fff" stroke="#0000ff" stroke-width="2.4"/>
<text x="1648.3" y="944.9" font-size="28.2">Al (NP)</text>
<line x1="1576.6" y1="970.8" x2="1638.8" y2="970.8" stroke="#0000ff" stroke-width="1.3" stroke-dasharray="4.5 3.5"/>
<circle cx="1608.5" cy="970.8" r="9" fill="#0000ff"/>
<text x="1648.3" y="980.5" font-size="28.2">Al<tspan font-size="18.9" dy="7">11</tspan><tspan dy="-7">La</tspan><tspan font-size="18.9" dy="7">3</tspan><tspan dy="-7"> (NP)</tspan></text>
</g>
</svg>
</body></html>
